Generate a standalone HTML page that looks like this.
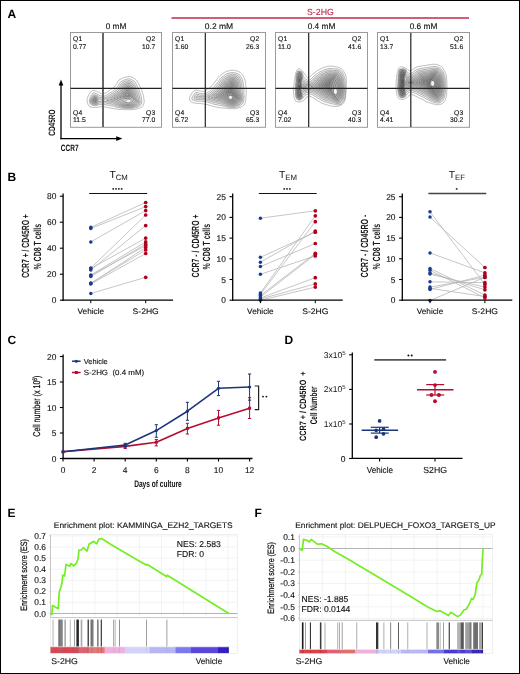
<!DOCTYPE html>
<html><head><meta charset="utf-8"><style>
html,body{margin:0;padding:0;background:#fff;}
svg{display:block;font-family:"Liberation Sans", sans-serif;text-rendering:geometricPrecision;will-change:transform;}
</style></head><body>
<svg width="520" height="674" viewBox="0 0 520 674">
<rect width="520" height="674" fill="#fff"/>
<text x="7.6" y="17.9" font-size="12" font-weight="bold" fill="#000">A</text>
<text x="320.4" y="15" font-size="8.9" text-anchor="middle" fill="#c3264d" stroke="#c3264d" stroke-width="0.12" textLength="26.8" lengthAdjust="spacingAndGlyphs">S-2HG</text>
<line x1="171.5" y1="18" x2="469" y2="18" stroke="#c3264d" stroke-width="1.5"/>
<text x="116" y="28.7" font-size="8.2" text-anchor="middle" fill="#111" stroke="#111" stroke-width="0.12" textLength="20.6" lengthAdjust="spacingAndGlyphs">0 mM</text>
<text x="219" y="28.7" font-size="8.2" text-anchor="middle" fill="#111" stroke="#111" stroke-width="0.12" textLength="28.4" lengthAdjust="spacingAndGlyphs">0.2 mM</text>
<text x="321.5" y="28.7" font-size="8.2" text-anchor="middle" fill="#111" stroke="#111" stroke-width="0.12" textLength="27.7" lengthAdjust="spacingAndGlyphs">0.4 mM</text>
<text x="423.5" y="28.7" font-size="8.2" text-anchor="middle" fill="#111" stroke="#111" stroke-width="0.12" textLength="27.7" lengthAdjust="spacingAndGlyphs">0.6 mM</text>
<path d="M132.2,109.7 131.5,109.7 130.8,109.7 130.0,109.7 129.2,109.7 128.5,109.7 127.8,109.7 127.0,109.7 126.2,109.7 125.5,109.7 124.8,109.7 124.0,109.7 123.3,109.5 122.8,109.4 122.0,109.4 121.2,109.4 120.5,109.4 119.8,109.4 119.0,109.4 118.5,109.2 117.8,109.2 117.0,109.2 116.3,109.0 115.8,108.9 115.1,108.8 114.5,108.7 114.0,108.5 113.2,108.4 112.5,108.4 111.8,108.2 111.2,108.2 110.8,108.0 110.0,107.9 109.5,107.7 108.8,107.7 108.2,107.4 107.5,107.4 106.8,107.4 106.2,107.2 105.6,107.0 105.0,106.9 104.2,106.9 103.6,106.8 103.0,106.7 102.2,106.7 101.5,106.7 100.9,106.8 100.2,106.9 99.5,106.9 98.8,107.0 98.2,107.2 97.5,107.2 96.8,107.2 96.2,107.4 95.5,107.4 94.8,107.4 94.0,107.4 93.2,107.4 92.5,107.4 92.0,107.2 91.2,107.2 90.8,107.0 90.1,106.8 89.8,106.4 89.2,106.2 88.8,105.8 88.6,105.2 88.3,104.8 88.1,104.2 87.8,103.8 87.6,103.2 87.5,102.5 87.3,102.0 87.2,101.4 87.1,100.8 87.1,100.0 87.1,99.2 87.3,98.8 87.3,98.0 87.6,97.5 87.8,97.0 88.0,96.5 88.3,96.0 88.6,95.5 88.8,95.0 89.1,94.5 89.3,94.0 89.6,93.5 90.0,93.1 90.2,92.6 90.6,92.2 91.0,91.8 91.3,91.5 91.8,91.1 92.2,90.8 92.8,90.6 93.2,90.4 93.8,90.6 94.5,90.6 95.0,90.8 95.7,91.0 96.2,91.2 96.8,91.3 97.2,91.6 97.8,91.8 98.2,92.0 98.8,92.3 99.2,92.5 99.8,92.8 100.2,93.2 100.7,93.5 101.2,93.6 101.9,93.8 102.5,93.8 103.2,93.8 103.8,93.8 104.5,93.5 105.0,93.3 105.5,93.1 106.0,92.8 106.3,92.5 106.8,92.2 107.3,92.0 107.8,91.6 108.2,91.3 108.6,91.0 109.1,90.8 109.5,90.3 110.0,90.1 110.5,89.8 110.8,89.5 111.3,89.2 111.8,88.8 112.2,88.6 112.6,88.2 113.0,87.8 113.5,87.6 113.8,87.2 114.2,86.8 114.8,86.6 115.0,86.2 115.3,85.8 115.6,85.2 116.0,84.8 116.3,84.5 116.5,84.0 116.8,83.5 117.0,83.0 117.3,82.5 117.5,82.0 117.8,81.5 118.1,81.0 118.6,80.8 119.0,80.3 119.2,79.8 119.8,79.5 120.2,79.3 120.8,79.1 121.2,78.8 121.8,78.6 122.2,78.3 122.8,78.1 123.2,77.8 123.8,77.8 124.5,77.6 125.0,77.3 125.6,77.2 126.2,77.0 126.8,76.8 127.5,76.8 128.0,76.6 128.8,76.6 129.5,76.6 130.2,76.6 130.8,76.8 131.2,77.0 131.9,77.2 132.4,77.5 133.0,77.6 133.4,78.0 133.9,78.2 134.2,78.5 134.8,78.8 135.2,79.1 135.7,79.5 136.0,79.8 136.4,80.2 136.8,80.6 137.2,81.0 137.4,81.5 137.7,82.0 138.0,82.3 138.2,82.8 138.5,83.3 138.8,83.8 139.0,84.3 139.2,85.0 139.4,85.5 139.7,86.0 139.9,86.5 140.2,87.0 140.4,87.5 140.7,88.0 140.9,88.5 141.2,89.0 141.4,89.5 141.5,90.1 141.8,90.6 141.9,91.2 142.2,91.8 142.2,92.5 142.5,93.0 142.7,93.5 142.9,94.0 143.2,94.5 143.2,95.2 143.4,95.8 143.5,96.3 143.7,97.0 143.7,97.8 143.8,98.3 143.9,99.0 144.0,99.8 144.2,100.2 144.2,101.0 144.2,101.8 144.0,102.2 143.9,103.0 143.8,103.7 143.5,104.2 143.4,104.8 143.2,105.2 142.8,105.7 142.5,106.0 142.2,106.5 141.8,106.9 141.2,107.2 140.9,107.5 140.5,107.9 139.9,108.0 139.2,108.2 138.8,108.4 138.2,108.5 137.5,108.7 137.0,108.9 136.2,109.0 135.8,109.2 135.2,109.2 134.5,109.4 133.8,109.4 133.0,109.4 132.4,109.5Z" fill="none" stroke="#6a6a6a" stroke-width="0.45"/>
<path d="M128.2,108.5 127.5,108.5 127.0,108.5 126.2,108.5 125.5,108.5 124.8,108.4 124.0,108.4 123.2,108.3 122.5,108.3 122.0,108.2 121.2,108.1 120.5,108.0 120.0,107.8 119.5,107.8 118.8,107.6 118.0,107.5 117.5,107.4 117.0,107.2 116.2,107.1 115.8,107.0 115.0,106.8 114.5,106.6 114.0,106.5 113.4,106.2 112.8,106.1 112.2,106.0 111.5,105.8 111.0,105.7 110.2,105.5 109.8,105.4 109.1,105.2 108.5,105.2 107.8,105.2 107.1,105.0 106.5,104.9 106.0,104.7 105.2,104.7 104.5,104.6 104.0,104.5 103.2,104.4 102.5,104.4 101.8,104.4 101.0,104.4 100.4,104.5 99.8,104.7 99.0,104.7 98.5,104.8 98.0,105.0 97.4,105.2 96.8,105.5 96.2,105.5 95.5,105.7 94.8,105.5 94.2,105.5 93.5,105.5 92.8,105.3 92.2,105.2 91.8,105.0 91.2,104.8 90.8,104.4 90.3,104.0 90.0,103.5 89.8,103.0 89.6,102.5 89.4,102.0 89.4,101.2 89.4,100.5 89.4,99.8 89.5,99.2 89.7,98.5 90.0,98.0 90.1,97.5 90.4,97.0 90.7,96.5 91.0,96.0 91.2,95.5 91.5,95.0 91.8,94.6 92.0,94.2 92.3,93.8 92.8,93.3 93.2,93.0 93.8,92.8 94.4,93.0 95.0,93.2 95.5,93.5 96.0,93.6 96.5,93.8 97.0,94.0 97.5,94.2 98.0,94.5 98.5,94.8 99.0,95.2 99.5,95.5 100.0,95.7 100.5,95.8 101.2,96.0 101.8,96.1 102.5,96.1 103.2,96.1 104.0,96.1 104.5,96.0 105.1,95.8 105.8,95.5 106.2,95.4 106.8,95.0 107.2,94.8 107.6,94.5 108.0,94.2 108.5,94.0 109.0,93.6 109.5,93.3 109.8,93.0 110.2,92.7 110.8,92.4 111.2,92.0 111.7,91.8 112.1,91.5 112.5,91.2 113.0,90.9 113.5,90.5 113.8,90.2 114.2,89.9 114.8,89.5 115.1,89.2 115.5,88.9 116.0,88.5 116.3,88.2 116.8,87.8 117.0,87.5 117.2,87.0 117.6,86.5 118.0,86.1 118.2,85.7 118.5,85.2 118.8,84.7 119.0,84.2 119.2,83.7 119.5,83.2 119.8,82.8 120.2,82.3 120.6,82.0 121.0,81.5 121.5,81.3 122.0,81.1 122.5,80.9 123.0,80.6 123.5,80.4 124.0,80.1 124.5,80.0 125.2,79.8 125.8,79.6 126.2,79.5 126.9,79.2 127.5,79.1 128.1,79.0 128.8,78.8 129.5,78.9 130.0,79.0 130.6,79.2 131.2,79.5 131.8,79.7 132.2,80.0 132.7,80.2 133.0,80.5 133.5,80.8 134.0,81.1 134.4,81.5 134.8,81.8 135.1,82.2 135.5,82.8 135.8,83.2 136.0,83.6 136.3,84.0 136.5,84.5 136.8,85.0 137.0,85.6 137.2,86.2 137.4,86.8 137.6,87.2 137.9,87.8 138.1,88.2 138.4,88.8 138.6,89.2 138.9,89.8 139.1,90.2 139.3,90.8 139.5,91.2 139.7,92.0 139.9,92.5 140.0,93.1 140.2,93.7 140.5,94.2 140.6,94.8 140.9,95.2 141.0,95.9 141.2,96.5 141.3,97.0 141.4,97.8 141.4,98.5 141.5,99.0 141.7,99.8 141.8,100.4 141.9,101.0 141.8,101.6 141.7,102.2 141.6,103.0 141.5,103.5 141.2,104.1 141.0,104.6 140.6,105.0 140.3,105.5 140.0,105.8 139.5,106.1 139.0,106.4 138.5,106.6 138.0,106.9 137.5,107.2 137.0,107.3 136.2,107.5 135.8,107.7 135.2,107.8 134.5,108.0 134.0,108.1 133.5,108.3 132.8,108.3 132.0,108.4 131.2,108.4 130.5,108.5 129.8,108.5 129.0,108.5 128.5,108.5Z" fill="rgba(0,0,0,0.035)" stroke="rgba(20,20,20,0.62)" stroke-width="0.5"/>
<path d="M131.5,107.5 130.8,107.6 130.0,107.6 129.2,107.6 128.5,107.7 127.8,107.7 127.0,107.6 126.2,107.6 125.5,107.6 124.8,107.5 124.2,107.5 123.5,107.4 122.8,107.3 122.2,107.2 121.5,107.2 120.8,107.0 120.2,106.8 119.8,106.7 119.0,106.5 118.5,106.4 117.9,106.2 117.3,106.0 116.8,105.9 116.2,105.8 115.5,105.6 115.0,105.3 114.5,105.2 114.0,105.0 113.5,104.7 112.8,104.5 112.2,104.3 111.8,104.1 111.0,104.0 110.5,103.9 109.9,103.8 109.2,103.6 108.5,103.5 108.0,103.5 107.2,103.3 106.8,103.2 106.0,103.0 105.2,103.0 104.8,103.0 104.0,102.8 103.2,102.8 102.5,102.8 101.8,102.8 101.0,102.8 100.2,102.8 99.5,103.0 99.0,103.0 98.5,103.5 98.2,103.8 97.8,104.1 97.2,104.3 96.7,104.5 96.0,104.6 95.2,104.7 94.5,104.6 93.8,104.5 93.2,104.5 92.6,104.2 92.0,104.0 91.5,103.8 91.2,103.5 90.9,103.0 90.6,102.5 90.5,102.0 90.4,101.2 90.5,100.5 90.6,100.0 90.6,99.2 90.8,98.8 91.0,98.2 91.3,97.8 91.6,97.2 91.8,96.8 92.1,96.2 92.5,95.8 92.8,95.5 93.2,95.1 93.7,94.8 94.2,94.7 94.8,95.0 95.2,95.1 95.8,95.3 96.5,95.5 97.0,95.7 97.5,95.9 98.0,96.2 98.2,96.6 98.8,97.0 99.2,97.2 99.8,97.4 100.5,97.5 101.0,97.6 101.8,97.7 102.5,97.7 103.2,97.7 104.0,97.7 104.8,97.6 105.2,97.5 105.9,97.2 106.5,97.0 107.0,96.8 107.5,96.6 107.9,96.2 108.3,96.0 108.8,95.7 109.2,95.5 109.8,95.1 110.2,94.8 110.6,94.5 111.0,94.2 111.5,93.9 112.0,93.6 112.4,93.2 112.8,93.0 113.2,92.7 113.8,92.4 114.2,92.1 114.6,91.8 115.0,91.4 115.5,91.1 115.9,90.8 116.2,90.4 116.8,90.1 117.1,89.8 117.5,89.4 117.9,89.0 118.2,88.6 118.5,88.2 118.8,87.7 119.1,87.2 119.5,86.8 119.8,86.4 120.0,85.9 120.2,85.4 120.5,84.9 120.8,84.4 121.0,83.9 121.4,83.5 121.8,83.2 122.2,82.8 122.8,82.6 123.2,82.3 123.8,82.1 124.2,81.8 124.8,81.6 125.2,81.5 126.0,81.3 126.5,81.1 127.0,81.0 127.7,80.8 128.2,80.7 129.0,80.5 129.8,80.7 130.2,80.9 130.8,81.1 131.2,81.3 131.8,81.6 132.2,82.0 132.7,82.2 133.1,82.5 133.5,82.9 133.8,83.2 134.1,83.8 134.4,84.2 134.8,84.7 135.0,85.2 135.2,85.7 135.5,86.2 135.6,86.8 135.8,87.2 136.0,87.8 136.3,88.2 136.5,88.8 136.8,89.2 137.0,89.8 137.3,90.2 137.5,90.8 137.8,91.4 138.0,91.9 138.1,92.5 138.3,93.0 138.5,93.8 138.7,94.2 138.9,94.8 139.0,95.2 139.3,95.8 139.5,96.5 139.6,97.0 139.7,97.8 139.8,98.2 139.8,99.0 140.0,99.8 140.0,100.2 140.2,101.0 140.2,101.8 140.2,102.5 140.1,103.2 139.9,103.8 139.6,104.2 139.2,104.7 138.9,105.0 138.5,105.2 138.0,105.5 137.5,105.8 137.0,106.2 136.5,106.3 135.8,106.5 135.2,106.7 134.8,106.8 134.2,107.0 133.5,107.2 133.0,107.4 132.2,107.4 131.6,107.5Z" fill="rgba(0,0,0,0.035)" stroke="rgba(20,20,20,0.62)" stroke-width="0.5"/>
<path d="M130.5,106.8 129.8,106.8 129.0,106.8 128.2,106.9 127.5,106.9 126.8,106.8 126.0,106.8 125.3,106.8 124.8,106.7 124.0,106.6 123.2,106.5 122.8,106.4 122.0,106.3 121.5,106.2 120.8,106.0 120.2,105.8 119.8,105.7 119.1,105.5 118.5,105.3 118.0,105.1 117.5,104.9 117.0,104.7 116.3,104.5 115.8,104.3 115.2,104.1 114.8,103.8 114.2,103.6 113.8,103.4 113.2,103.2 112.8,102.9 112.2,102.7 111.5,102.6 111.0,102.5 110.2,102.3 109.8,102.2 109.0,102.1 108.2,102.0 107.8,101.9 107.0,101.8 106.5,101.6 105.8,101.5 105.0,101.5 104.5,101.4 103.8,101.3 103.0,101.3 102.2,101.3 101.5,101.3 100.8,101.3 100.0,101.4 99.5,101.5 98.8,101.5 98.2,101.8 98.0,102.5 97.8,103.0 97.5,103.3 97.0,103.5 96.2,103.7 95.8,103.8 95.0,103.8 94.3,103.8 93.8,103.7 93.0,103.5 92.5,103.3 92.0,103.0 91.7,102.8 91.4,102.2 91.2,101.7 91.2,101.0 91.3,100.5 91.4,99.8 91.5,99.2 91.8,98.7 92.0,98.2 92.3,97.8 92.5,97.2 92.9,96.8 93.2,96.3 93.6,96.0 94.2,95.9 94.8,96.0 95.5,96.1 96.0,96.3 96.7,96.5 97.2,96.8 97.5,97.1 97.8,97.6 98.0,98.0 98.5,98.5 99.0,98.7 99.5,98.8 100.2,98.9 100.8,99.1 101.5,99.2 102.2,99.2 103.0,99.2 103.8,99.2 104.5,99.2 105.2,99.0 105.8,98.8 106.2,98.7 106.8,98.5 107.4,98.2 107.9,98.0 108.3,97.8 108.8,97.5 109.2,97.1 109.8,96.9 110.2,96.6 110.7,96.2 111.1,96.0 111.5,95.7 112.0,95.3 112.5,95.0 112.8,94.8 113.2,94.5 113.8,94.1 114.2,93.8 114.7,93.5 115.1,93.2 115.5,92.9 116.0,92.5 116.3,92.2 116.8,91.9 117.2,91.5 117.6,91.2 118.0,90.9 118.5,90.5 118.8,90.2 119.2,89.8 119.5,89.3 119.8,88.9 120.0,88.5 120.4,88.0 120.8,87.6 121.0,87.2 121.2,86.7 121.5,86.2 121.8,85.7 122.0,85.2 122.2,84.7 122.7,84.2 123.2,84.0 123.7,83.8 124.2,83.5 124.7,83.2 125.2,83.0 125.8,82.9 126.3,82.8 127.0,82.5 127.5,82.3 128.0,82.2 128.8,82.1 129.5,82.2 130.0,82.4 130.5,82.6 131.0,82.9 131.5,83.2 131.9,83.5 132.3,83.8 132.7,84.2 133.0,84.7 133.2,85.1 133.5,85.5 133.8,86.0 134.0,86.5 134.2,87.2 134.4,87.8 134.6,88.2 134.9,88.8 135.1,89.2 135.4,89.8 135.6,90.2 135.9,90.8 136.1,91.2 136.3,91.8 136.5,92.2 136.7,93.0 136.9,93.5 137.0,94.0 137.2,94.7 137.5,95.2 137.7,95.8 137.9,96.2 138.0,96.8 138.2,97.5 138.3,98.0 138.3,98.8 138.4,99.5 138.5,100.0 138.7,100.8 139.0,101.2 139.0,101.8 139.0,102.5 138.9,103.0 138.7,103.5 138.2,104.0 137.9,104.2 137.5,104.5 137.0,104.9 136.5,105.2 136.0,105.4 135.5,105.6 135.0,105.8 134.3,106.0 133.8,106.2 133.2,106.4 132.8,106.5 132.0,106.6 131.2,106.7 130.7,106.8Z" fill="rgba(0,0,0,0.035)" stroke="rgba(20,20,20,0.62)" stroke-width="0.5"/>
<path d="M130.2,106.0 129.5,106.1 128.8,106.1 128.0,106.1 127.2,106.1 126.5,106.1 125.8,106.0 125.2,106.0 124.5,105.9 123.8,105.8 123.2,105.7 122.5,105.5 122.0,105.4 121.4,105.2 120.8,105.0 120.3,104.8 119.8,104.6 119.2,104.4 118.8,104.2 118.2,104.0 117.8,103.7 117.2,103.4 116.7,103.2 116.0,103.0 115.6,102.8 115.1,102.5 114.6,102.2 114.1,102.0 113.6,101.8 113.0,101.5 112.5,101.4 111.8,101.3 111.2,101.2 110.6,101.0 110.0,100.9 109.4,100.8 108.8,100.7 108.0,100.6 107.5,100.5 106.8,100.3 106.8,100.0 107.3,99.8 108.0,99.5 108.5,99.2 108.9,99.0 109.3,98.8 109.8,98.4 110.2,98.1 110.8,97.8 111.2,97.5 111.7,97.2 112.0,97.0 112.5,96.6 113.0,96.3 113.4,96.0 113.8,95.8 114.2,95.4 114.8,95.1 115.2,94.8 115.7,94.5 116.0,94.2 116.5,93.9 116.9,93.5 117.3,93.2 117.8,92.9 118.2,92.5 118.5,92.2 119.0,91.9 119.4,91.5 119.8,91.1 120.1,90.8 120.5,90.3 120.8,89.9 121.0,89.5 121.4,89.0 121.8,88.5 122.0,88.2 122.2,87.7 122.5,87.2 122.8,86.7 123.0,86.2 123.2,85.7 123.7,85.2 124.2,85.0 124.7,84.8 125.2,84.5 125.8,84.3 126.2,84.1 126.8,84.0 127.5,83.8 128.0,83.6 128.5,83.5 129.2,83.5 129.8,83.7 130.2,84.0 130.6,84.2 131.0,84.5 131.5,84.9 131.8,85.3 132.1,85.8 132.4,86.2 132.6,86.8 132.8,87.2 133.0,87.8 133.2,88.5 133.5,89.0 133.8,89.5 134.0,90.0 134.2,90.5 134.5,91.0 134.8,91.5 135.0,92.0 135.2,92.5 135.4,93.0 135.5,93.6 135.7,94.2 135.8,94.8 136.0,95.2 136.2,95.8 136.5,96.5 136.7,97.0 136.8,97.5 136.9,98.2 137.0,99.0 137.1,99.5 137.3,100.0 137.5,100.5 137.8,101.0 137.9,101.8 137.9,102.5 137.5,103.0 137.2,103.2 136.8,103.7 136.4,104.0 135.9,104.2 135.4,104.5 135.0,104.8 134.4,105.0 133.8,105.2 133.2,105.5 132.8,105.7 132.2,105.8 131.5,105.9 130.8,106.0 130.2,106.0Z" fill="rgba(0,0,0,0.035)" stroke="rgba(20,20,20,0.62)" stroke-width="0.5"/>
<path d="M95.8,103.0 95.0,103.0 94.5,103.0 93.8,102.9 93.1,102.8 92.6,102.5 92.2,102.2 92.0,101.5 92.0,101.0 92.1,100.5 92.2,99.8 92.3,99.2 92.6,98.8 92.9,98.2 93.1,97.8 93.5,97.2 93.8,96.9 94.2,96.7 94.8,96.8 95.5,97.0 96.0,97.1 96.5,97.3 96.9,97.8 97.2,98.2 97.4,98.8 97.6,99.2 98.0,99.7 98.5,100.0 98.2,100.2 97.8,100.3 97.6,101.0 97.5,101.6 97.3,102.2 97.0,102.7 96.5,102.9 95.9,103.0Z" fill="rgba(0,0,0,0.035)" stroke="rgba(20,20,20,0.62)" stroke-width="0.5"/>
<path d="M129.5,105.3 128.8,105.3 128.0,105.3 127.2,105.3 126.5,105.3 126.0,105.2 125.2,105.1 124.5,105.0 124.0,104.9 123.2,104.8 122.8,104.6 122.2,104.5 121.5,104.2 121.1,104.0 120.7,103.8 120.2,103.5 119.7,103.2 119.1,103.0 118.6,102.8 118.2,102.4 117.8,102.1 117.2,101.8 116.8,101.6 116.2,101.5 115.8,101.2 115.2,100.9 114.8,100.7 114.2,100.5 113.5,100.4 113.0,100.2 112.2,100.0 111.8,100.0 111.0,99.8 110.5,99.5 111.0,99.2 111.5,98.9 112.0,98.6 112.5,98.2 112.8,98.0 113.2,97.7 113.8,97.3 114.2,97.0 114.6,96.8 115.0,96.5 115.5,96.1 116.0,95.8 116.5,95.5 116.8,95.2 117.2,94.9 117.7,94.5 118.1,94.2 118.5,93.9 119.0,93.5 119.3,93.2 119.8,92.9 120.2,92.5 120.5,92.2 120.9,91.8 121.2,91.4 121.5,91.0 121.9,90.5 122.2,90.0 122.5,89.6 122.8,89.2 123.1,88.8 123.4,88.2 123.7,87.8 123.9,87.2 124.2,86.8 124.5,86.3 125.0,86.0 125.5,85.8 126.0,85.5 126.5,85.4 127.1,85.2 127.8,85.0 128.2,84.9 129.0,84.8 129.5,85.1 130.0,85.4 130.5,85.7 130.8,86.1 131.0,86.5 131.3,87.0 131.6,87.5 131.8,88.1 132.0,88.8 132.2,89.2 132.5,89.8 132.7,90.2 133.0,90.8 133.2,91.2 133.5,91.8 133.7,92.2 133.9,92.8 134.1,93.2 134.2,93.8 134.4,94.5 134.6,95.0 134.8,95.5 135.0,96.1 135.2,96.8 135.4,97.2 135.5,97.8 135.7,98.5 135.7,99.2 136.0,99.6 136.2,100.1 136.5,100.6 136.8,101.1 136.8,101.7 136.5,102.1 136.2,102.5 135.8,102.9 135.3,103.2 134.9,103.5 134.5,103.8 134.0,104.0 133.5,104.4 133.0,104.6 132.5,104.8 131.8,105.0 131.2,105.1 130.5,105.2 129.8,105.2Z" fill="rgba(0,0,0,0.035)" stroke="rgba(20,20,20,0.62)" stroke-width="0.5"/>
<path d="M95.8,102.3 95.0,102.3 94.3,102.2 93.8,102.2 93.2,102.0 92.8,101.5 92.7,101.0 92.8,100.5 92.9,99.8 93.1,99.2 93.4,98.8 93.7,98.2 94.0,97.8 94.5,97.5 95.2,97.6 95.8,97.8 96.2,98.0 96.5,98.5 96.8,99.0 96.9,99.8 96.9,100.5 96.9,101.2 96.7,101.8 96.2,102.2 95.8,102.3Z" fill="rgba(0,0,0,0.035)" stroke="rgba(20,20,20,0.62)" stroke-width="0.5"/>
<path d="M130.0,104.3 129.2,104.3 128.5,104.4 127.8,104.4 127.0,104.4 126.2,104.3 125.8,104.2 125.0,104.1 124.5,104.0 123.8,103.8 123.2,103.6 122.8,103.4 122.2,103.2 121.8,103.0 121.2,102.5 120.9,102.2 120.5,101.9 120.0,101.6 119.5,101.3 119.0,101.0 118.6,100.8 118.2,100.5 117.8,100.2 117.2,100.0 116.5,99.8 116.0,99.6 115.5,99.4 115.0,99.2 114.2,99.2 113.6,99.0 114.0,98.6 114.5,98.3 114.9,98.0 115.3,97.8 115.8,97.4 116.2,97.1 116.8,96.8 117.2,96.5 117.5,96.2 118.0,95.9 118.4,95.5 118.8,95.2 119.2,94.9 119.7,94.5 120.0,94.2 120.5,93.9 120.9,93.5 121.2,93.2 121.7,92.8 122.0,92.4 122.3,92.0 122.7,91.5 123.0,91.0 123.2,90.6 123.6,90.2 123.9,89.8 124.2,89.3 124.5,88.8 124.8,88.3 125.0,87.8 125.2,87.3 125.8,87.0 126.2,86.8 126.8,86.6 127.2,86.5 127.9,86.2 128.5,86.1 129.1,86.2 129.5,86.5 129.9,87.0 130.2,87.5 130.4,88.0 130.6,88.5 130.8,89.0 131.0,89.5 131.2,90.1 131.5,90.6 131.8,91.1 132.0,91.6 132.2,92.1 132.5,92.6 132.8,93.2 133.0,93.8 133.1,94.2 133.2,94.9 133.4,95.5 133.6,96.0 133.8,96.5 134.0,97.0 134.2,97.6 134.4,98.2 134.5,99.0 134.8,99.4 135.0,99.8 135.3,100.2 135.5,100.8 135.2,101.1 134.9,101.5 134.5,102.0 134.2,102.2 133.8,102.7 133.4,103.0 133.0,103.3 132.5,103.7 132.0,103.8 131.4,104.0 130.8,104.1 130.1,104.2Z" fill="rgba(0,0,0,0.035)" stroke="rgba(20,20,20,0.62)" stroke-width="0.5"/>
<path d="M95.8,101.5 95.0,101.6 94.3,101.5 93.8,101.4 93.4,101.0 93.5,100.5 93.7,99.8 93.9,99.2 94.2,98.8 94.5,98.3 95.2,98.3 95.8,98.6 96.0,99.0 96.2,99.8 96.2,100.5 96.1,101.2 95.8,101.5Z" fill="rgba(0,0,0,0.035)" stroke="rgba(20,20,20,0.62)" stroke-width="0.5"/>
<path d="M129.2,103.0 128.5,103.1 127.8,103.1 127.0,103.0 126.5,103.0 125.8,102.8 125.2,102.6 124.8,102.4 124.2,102.2 123.8,101.9 123.2,101.5 122.8,101.2 122.5,101.0 122.0,100.6 121.7,100.2 121.2,99.8 120.8,99.5 120.2,99.3 119.8,99.1 119.2,99.0 118.5,98.8 118.0,98.7 117.2,98.5 116.8,98.3 117.0,98.0 117.4,97.8 117.8,97.5 118.2,97.2 118.8,96.8 119.1,96.5 119.5,96.2 120.0,95.8 120.3,95.5 120.8,95.2 121.2,94.8 121.6,94.5 122.0,94.1 122.3,93.8 122.8,93.3 123.0,93.0 123.4,92.5 123.8,92.0 124.0,91.6 124.3,91.2 124.7,90.8 125.0,90.3 125.2,89.9 125.5,89.4 125.8,88.9 126.0,88.4 126.4,88.0 127.0,87.8 127.5,87.6 128.0,87.5 128.8,87.4 129.0,87.8 129.3,88.2 129.5,88.9 129.7,89.5 129.9,90.0 130.2,90.5 130.4,91.0 130.7,91.5 130.9,92.0 131.2,92.5 131.4,93.0 131.6,93.5 131.8,94.0 132.0,94.7 132.1,95.2 132.3,95.8 132.5,96.3 132.8,96.9 133.0,97.5 133.1,98.0 133.3,98.5 133.5,99.2 133.6,99.8 133.2,100.2 133.0,100.6 132.8,101.0 132.5,101.5 132.0,102.0 131.6,102.2 131.1,102.5 130.5,102.7 130.0,102.9 129.3,103.0Z" fill="rgba(0,0,0,0.035)" stroke="rgba(20,20,20,0.62)" stroke-width="0.5"/>
<path d="M95.2,100.8 94.6,100.8 94.2,100.5 94.3,100.0 94.6,99.5 95.0,99.0 95.2,99.1 95.4,99.8 95.5,100.5Z" fill="rgba(0,0,0,0.035)" stroke="rgba(20,20,20,0.62)" stroke-width="0.5"/>
<path d="M128.8,98.8 128.0,98.8 127.2,98.8 126.8,98.7 126.0,98.6 125.2,98.5 124.8,98.4 124.0,98.3 123.5,98.2 122.8,98.1 122.2,98.0 121.5,97.9 120.8,97.8 120.2,97.7 119.7,97.5 120.0,97.2 120.5,96.8 120.9,96.5 121.2,96.2 121.8,95.8 122.1,95.5 122.5,95.2 122.9,94.8 123.2,94.4 123.7,94.0 124.0,93.6 124.3,93.2 124.6,92.8 124.9,92.2 125.2,91.8 125.5,91.5 125.9,91.0 126.2,90.5 126.5,90.0 126.7,89.5 127.0,89.0 127.5,88.8 128.0,88.7 128.3,89.0 128.5,89.5 128.8,90.1 129.0,90.7 129.2,91.2 129.5,91.7 129.8,92.2 130.0,92.7 130.2,93.2 130.5,93.7 130.7,94.2 130.8,94.8 131.0,95.4 131.2,96.0 131.3,96.5 131.5,97.0 131.8,97.5 131.6,98.0 131.2,98.4 130.8,98.5 130.0,98.6 129.2,98.7 128.8,98.8Z" fill="rgba(0,0,0,0.035)" stroke="rgba(20,20,20,0.62)" stroke-width="0.5"/>
<path d="M130.0,97.0 129.2,97.0 128.5,97.0 127.8,97.0 127.0,97.0 126.2,97.0 125.6,97.0 125.0,96.9 124.2,96.8 123.5,96.8 122.8,96.8 122.8,96.5 123.2,96.0 123.5,95.7 124.0,95.2 124.2,95.0 124.7,94.5 125.0,94.1 125.3,93.8 125.6,93.2 125.9,92.8 126.2,92.4 126.5,92.0 126.9,91.5 127.2,91.0 127.5,90.5 127.8,90.7 128.0,91.2 128.2,91.7 128.5,92.2 128.8,92.7 129.0,93.2 129.2,93.7 129.5,94.2 129.7,94.8 129.8,95.2 130.0,95.9 130.2,96.5 130.2,96.8Z" fill="rgba(0,0,0,0.035)" stroke="rgba(20,20,20,0.62)" stroke-width="0.5"/>
<path d="M128.8,95.9 128.0,96.0 127.2,96.0 126.5,96.0 125.8,95.9 125.1,95.8 125.4,95.2 125.8,94.9 126.1,94.5 126.4,94.0 126.7,93.5 127.0,93.1 127.4,92.8 127.7,93.0 128.0,93.5 128.2,94.0 128.5,94.5 128.6,95.0 128.8,95.5Z" fill="rgba(0,0,0,0.035)" stroke="rgba(20,20,20,0.62)" stroke-width="0.5"/>
<ellipse cx="128.5" cy="101.1" rx="1.8" ry="1.0" fill="#fff" opacity="0.9"/>
<path d="M235.2,108.7 234.5,108.7 233.8,108.7 233.0,108.7 232.2,108.7 231.5,108.7 230.8,108.7 230.0,108.7 229.2,108.7 228.5,108.7 228.0,108.4 227.2,108.4 226.6,108.2 226.0,108.2 225.2,108.2 224.5,108.2 223.8,108.2 223.1,108.0 222.5,107.9 221.8,107.9 221.2,107.7 220.5,107.7 219.8,107.7 219.0,107.7 218.5,107.4 217.8,107.4 217.2,107.2 216.5,107.2 216.0,106.9 215.2,106.9 214.8,106.7 214.1,106.5 213.5,106.4 213.0,106.2 212.2,106.2 211.8,106.0 211.2,105.7 210.8,105.5 210.0,105.4 209.5,105.2 209.0,105.0 208.2,104.9 207.8,104.7 207.1,104.5 206.5,104.4 206.0,104.2 205.2,104.2 204.5,104.2 204.0,103.9 203.2,103.9 202.8,103.7 202.0,103.7 201.2,103.7 200.6,103.5 200.0,103.4 199.2,103.4 198.5,103.4 197.8,103.4 197.0,103.4 196.5,103.2 195.8,103.2 195.0,103.2 194.5,103.0 193.8,102.8 193.2,102.7 192.8,102.4 192.0,102.4 191.6,102.0 191.1,101.8 190.8,101.4 190.3,101.0 190.0,100.5 189.8,100.2 189.6,99.5 189.6,98.8 189.6,98.0 189.8,97.5 190.0,96.8 190.2,96.3 190.5,95.8 190.8,95.3 191.0,94.8 191.2,94.3 191.5,93.8 191.8,93.3 192.0,93.0 192.3,92.5 192.6,92.0 193.0,91.6 193.5,91.3 193.8,91.0 194.3,90.8 194.8,90.3 195.5,90.3 196.0,90.1 196.8,90.1 197.2,90.3 198.0,90.3 198.5,90.6 199.2,90.6 199.8,90.8 200.2,91.0 200.9,91.2 201.5,91.3 202.2,91.3 203.0,91.3 203.8,91.3 204.5,91.3 205.0,91.1 205.5,90.8 206.0,90.6 206.5,90.3 207.0,90.1 207.5,89.8 207.8,89.5 208.2,89.1 208.8,88.8 209.1,88.5 209.5,88.1 209.8,87.8 210.2,87.3 210.6,87.0 211.0,86.6 211.3,86.2 211.8,85.8 212.1,85.5 212.5,85.1 212.8,84.8 213.2,84.3 213.5,83.8 213.8,83.5 214.2,83.1 214.5,82.6 214.8,82.2 215.1,81.8 215.5,81.3 215.8,80.8 216.1,80.5 216.3,80.0 216.8,79.6 217.0,79.2 217.3,78.8 217.6,78.2 218.0,77.8 218.2,77.3 218.6,77.0 219.0,76.6 219.3,76.2 219.8,75.8 220.2,75.5 220.6,75.2 221.0,74.8 221.5,74.6 221.8,74.2 222.3,74.0 222.8,73.6 223.2,73.3 223.6,73.0 224.1,72.8 224.5,72.3 225.0,72.1 225.5,71.8 226.0,71.6 226.5,71.3 227.2,71.3 227.8,71.1 228.3,71.0 229.0,70.8 229.5,70.6 230.2,70.5 230.8,70.3 231.5,70.3 232.2,70.3 233.0,70.3 233.8,70.3 234.4,70.5 235.0,70.6 235.8,70.6 236.2,70.8 236.9,71.0 237.5,71.1 238.0,71.3 238.5,71.5 239.2,71.8 239.5,72.0 240.0,72.3 240.4,72.8 240.8,73.0 241.2,73.3 241.7,73.8 242.0,74.1 242.4,74.5 242.7,75.0 243.0,75.5 243.2,76.0 243.5,76.3 243.8,76.8 244.0,77.5 244.2,78.0 244.4,78.5 244.7,79.0 244.8,79.6 245.0,80.2 245.2,80.8 245.2,81.3 245.5,82.0 245.7,82.5 245.7,83.2 245.7,84.0 245.7,84.8 245.9,85.2 245.9,86.0 245.9,86.8 245.9,87.5 245.9,88.2 245.9,89.0 246.2,89.5 246.2,90.2 246.2,91.0 246.2,91.8 246.2,92.5 246.2,93.2 246.2,94.0 246.2,94.8 246.0,95.4 245.9,96.0 245.9,96.8 245.9,97.5 245.9,98.2 245.7,98.8 245.7,99.5 245.7,100.2 245.5,100.9 245.4,101.5 245.4,102.2 245.2,102.8 245.0,103.2 244.7,103.8 244.5,104.4 244.2,104.9 243.8,105.2 243.4,105.5 243.0,105.9 242.5,106.2 242.0,106.5 241.5,106.7 241.0,107.0 240.5,107.2 240.0,107.4 239.2,107.5 238.8,107.7 238.2,107.9 237.8,108.2 237.0,108.2 236.5,108.4 235.8,108.4 235.2,108.7Z" fill="none" stroke="#6a6a6a" stroke-width="0.45"/>
<path d="M234.8,107.5 234.0,107.5 233.2,107.5 232.5,107.5 231.8,107.5 231.0,107.5 230.5,107.5 229.8,107.4 229.0,107.4 228.2,107.3 227.8,107.2 227.0,107.1 226.5,106.9 225.9,106.8 225.2,106.6 224.8,106.3 224.2,106.2 223.5,106.1 223.0,106.0 222.3,105.8 221.8,105.6 221.2,105.5 220.5,105.4 219.8,105.4 219.2,105.2 218.5,105.1 218.0,105.0 217.2,104.9 216.8,104.7 216.0,104.6 215.5,104.5 214.8,104.3 214.2,104.2 213.6,104.0 213.0,103.9 212.5,103.8 212.0,103.5 211.4,103.2 210.8,103.1 210.2,103.0 209.6,102.8 209.0,102.6 208.5,102.5 207.8,102.3 207.2,102.1 206.8,102.0 206.0,101.9 205.2,101.9 204.8,101.7 204.0,101.6 203.5,101.5 202.8,101.4 202.0,101.4 201.2,101.3 200.8,101.2 200.0,101.2 199.2,101.2 198.5,101.2 197.8,101.2 197.1,101.0 196.5,100.9 195.8,100.9 195.1,100.8 194.5,100.5 194.0,100.4 193.5,100.2 192.8,100.0 192.3,99.8 192.0,99.3 191.8,98.8 192.0,98.1 192.2,97.5 192.5,97.0 192.7,96.5 193.0,96.0 193.2,95.5 193.5,95.0 193.8,94.6 194.0,94.2 194.3,93.8 194.7,93.2 195.1,93.0 195.5,92.7 196.2,92.5 196.6,92.5 197.2,92.6 197.8,92.8 198.5,92.8 199.0,93.0 199.6,93.2 200.2,93.5 200.8,93.6 201.5,93.6 202.2,93.6 203.0,93.6 203.8,93.6 204.5,93.6 205.2,93.5 205.8,93.4 206.2,93.1 206.8,92.9 207.2,92.6 207.8,92.4 208.2,92.1 208.8,91.8 209.1,91.5 209.5,91.1 210.0,90.8 210.3,90.5 210.8,90.1 211.1,89.8 211.5,89.3 211.8,89.0 212.2,88.6 212.6,88.2 213.0,87.8 213.3,87.5 213.8,87.1 214.1,86.8 214.5,86.3 214.8,86.0 215.2,85.5 215.5,85.1 215.8,84.8 216.2,84.2 216.5,83.8 216.8,83.5 217.1,83.0 217.5,82.5 217.8,82.1 218.0,81.8 218.4,81.2 218.8,80.8 219.0,80.5 219.2,80.0 219.6,79.5 220.0,79.0 220.2,78.6 220.6,78.2 221.0,77.8 221.5,77.5 221.8,77.2 222.2,76.9 222.8,76.5 223.1,76.2 223.5,76.0 224.0,75.6 224.5,75.2 224.8,75.0 225.2,74.7 225.8,74.4 226.2,74.1 226.8,73.9 227.2,73.6 227.9,73.5 228.5,73.3 229.0,73.2 229.8,73.0 230.2,72.9 230.9,72.8 231.5,72.6 232.2,72.6 233.0,72.6 233.8,72.7 234.2,72.8 235.0,72.8 235.6,73.0 236.2,73.2 236.8,73.4 237.2,73.5 237.8,73.8 238.3,74.0 238.8,74.3 239.2,74.8 239.5,75.0 240.0,75.3 240.4,75.8 240.8,76.2 241.0,76.7 241.2,77.2 241.5,77.6 241.8,78.1 242.0,78.8 242.1,79.2 242.4,79.8 242.5,80.2 242.8,80.9 242.9,81.5 243.0,82.0 243.2,82.6 243.4,83.2 243.4,84.0 243.4,84.8 243.5,85.5 243.6,86.0 243.7,86.8 243.7,87.5 243.7,88.2 243.7,89.0 243.7,89.8 243.9,90.2 243.9,91.0 243.9,91.8 243.9,92.5 243.9,93.2 243.9,94.0 243.9,94.8 244.0,95.5 244.1,96.0 244.1,96.8 244.0,97.3 244.0,97.8 244.0,98.5 243.9,99.0 243.8,99.8 243.7,100.2 243.7,101.0 243.5,101.6 243.3,102.2 243.1,102.8 242.8,103.2 242.5,103.6 242.1,104.0 241.8,104.3 241.2,104.7 240.9,105.0 240.5,105.3 240.0,105.6 239.5,105.9 239.0,106.2 238.5,106.4 238.0,106.5 237.4,106.8 236.8,107.0 236.2,107.2 235.8,107.3 235.0,107.5Z" fill="rgba(0,0,0,0.035)" stroke="rgba(20,20,20,0.62)" stroke-width="0.5"/>
<path d="M234.0,106.5 233.2,106.5 232.5,106.5 231.9,106.5 231.2,106.5 230.5,106.4 229.8,106.3 229.1,106.2 228.5,106.2 227.8,106.0 227.2,105.9 226.8,105.7 226.0,105.5 225.5,105.3 225.0,105.1 224.5,105.0 223.8,104.8 223.2,104.7 222.8,104.5 222.2,104.2 221.5,104.0 221.0,103.8 220.4,103.8 219.8,103.6 219.0,103.5 218.5,103.4 217.8,103.3 217.2,103.1 216.5,103.0 216.0,102.9 215.4,102.8 214.8,102.6 214.2,102.5 213.5,102.3 213.0,102.2 212.5,101.9 212.0,101.7 211.2,101.5 210.8,101.4 210.2,101.2 209.5,101.0 209.0,100.9 208.4,100.8 207.8,100.5 207.2,100.4 206.5,100.3 205.9,100.2 205.2,100.1 204.5,100.0 204.0,99.9 203.2,99.8 202.5,99.8 202.0,99.7 201.2,99.6 200.5,99.5 199.8,99.5 199.0,99.5 198.2,99.5 197.8,99.5 197.0,99.3 196.2,99.3 195.8,99.2 195.1,99.0 194.5,98.8 194.0,98.6 193.7,98.2 194.0,97.8 194.2,97.2 194.5,96.8 194.7,96.2 195.0,95.8 195.2,95.3 195.5,94.9 195.8,94.5 196.2,94.2 196.8,94.2 197.5,94.4 198.2,94.5 198.8,94.7 199.2,94.9 199.8,95.0 200.5,95.2 201.2,95.2 202.0,95.2 202.8,95.2 203.5,95.2 204.2,95.2 205.0,95.2 205.8,95.1 206.2,95.0 206.8,94.7 207.2,94.5 207.8,94.2 208.2,94.0 208.8,93.7 209.2,93.5 209.8,93.1 210.2,92.8 210.5,92.4 211.0,92.1 211.4,91.8 211.8,91.4 212.2,91.0 212.5,90.7 212.9,90.2 213.2,89.9 213.7,89.5 214.0,89.2 214.4,88.8 214.8,88.4 215.2,88.0 215.5,87.7 215.9,87.2 216.2,86.9 216.6,86.5 216.9,86.0 217.2,85.6 217.6,85.2 217.9,84.8 218.2,84.3 218.5,83.9 218.8,83.5 219.2,83.0 219.5,82.6 219.8,82.2 220.1,81.8 220.5,81.2 220.7,80.8 221.0,80.4 221.3,80.0 221.7,79.5 222.0,79.2 222.5,78.8 222.9,78.5 223.2,78.2 223.8,77.9 224.2,77.5 224.6,77.2 225.0,76.9 225.5,76.6 225.9,76.2 226.3,76.0 226.8,75.7 227.2,75.5 227.8,75.2 228.5,75.0 229.0,74.9 229.7,74.8 230.2,74.6 230.8,74.5 231.5,74.3 232.0,74.2 232.8,74.2 233.2,74.3 234.0,74.5 234.6,74.5 235.2,74.6 235.8,74.8 236.4,75.0 237.0,75.2 237.5,75.5 237.8,75.8 238.2,76.1 238.8,76.5 239.1,76.8 239.4,77.2 239.7,77.8 239.9,78.2 240.2,78.8 240.4,79.2 240.5,79.8 240.8,80.2 241.0,80.9 241.2,81.5 241.3,82.0 241.5,82.6 241.7,83.2 241.8,83.8 241.8,84.5 241.8,85.2 241.9,86.0 242.0,86.7 242.0,87.2 242.0,88.0 242.0,88.8 242.0,89.5 242.1,90.2 242.2,90.9 242.3,91.5 242.3,92.2 242.3,93.0 242.4,93.8 242.5,94.2 242.6,95.0 242.7,95.8 242.8,96.2 242.8,96.9 242.7,97.5 242.8,98.0 242.7,98.5 242.7,99.2 242.5,100.0 242.5,100.5 242.3,101.2 242.1,101.8 242.0,102.2 241.6,102.8 241.2,103.1 240.8,103.5 240.5,103.8 240.0,104.2 239.5,104.5 239.1,104.8 238.7,105.0 238.2,105.3 237.5,105.5 237.0,105.7 236.5,105.9 236.0,106.2 235.4,106.2 234.8,106.4 234.1,106.5Z" fill="rgba(0,0,0,0.035)" stroke="rgba(20,20,20,0.62)" stroke-width="0.5"/>
<path d="M234.2,105.5 233.5,105.5 232.8,105.5 232.0,105.5 231.5,105.5 230.8,105.4 230.0,105.4 229.3,105.2 228.8,105.2 228.0,105.0 227.5,104.9 227.0,104.6 226.5,104.5 225.8,104.2 225.3,104.0 224.8,103.8 224.2,103.7 223.6,103.5 223.0,103.3 222.5,103.0 222.0,102.8 221.5,102.7 221.0,102.4 220.3,102.2 219.8,102.1 219.0,102.0 218.5,101.9 217.8,101.8 217.2,101.6 216.5,101.5 216.0,101.4 215.5,101.2 214.8,101.1 214.2,100.9 213.5,100.8 213.0,100.5 212.5,100.3 212.0,100.2 211.3,100.0 210.8,99.8 210.2,99.7 209.5,99.5 209.0,99.4 208.5,99.2 207.8,99.0 207.2,98.9 206.5,98.8 205.8,98.8 205.2,98.6 204.5,98.5 204.0,98.4 203.2,98.3 202.5,98.3 202.0,98.2 201.2,98.1 200.5,98.0 199.8,98.0 199.0,98.0 198.2,98.0 197.8,97.9 197.0,97.8 196.2,97.8 195.8,97.5 196.0,97.0 196.2,96.5 196.6,96.0 197.2,95.9 198.0,96.0 198.5,96.2 199.0,96.3 199.5,96.5 200.2,96.7 201.0,96.7 201.8,96.7 202.5,96.7 203.2,96.7 204.0,96.7 204.8,96.7 205.5,96.7 206.2,96.5 206.8,96.3 207.2,96.1 207.8,95.9 208.2,95.6 208.8,95.4 209.2,95.1 209.8,94.9 210.2,94.6 210.7,94.2 211.0,94.0 211.5,93.5 211.8,93.2 212.2,92.9 212.7,92.5 213.0,92.2 213.5,91.8 213.8,91.5 214.2,91.0 214.5,90.7 215.0,90.2 215.2,90.0 215.7,89.5 216.0,89.2 216.5,88.8 216.8,88.5 217.2,88.0 217.5,87.7 217.8,87.2 218.2,86.8 218.5,86.4 218.8,86.0 219.2,85.5 219.5,85.1 219.8,84.7 220.1,84.2 220.4,83.8 220.8,83.3 221.0,83.0 221.4,82.5 221.7,82.0 222.0,81.5 222.2,81.2 222.6,80.8 223.0,80.2 223.3,80.0 223.8,79.7 224.2,79.3 224.7,79.0 225.0,78.7 225.5,78.4 226.0,78.0 226.3,77.8 226.8,77.5 227.2,77.1 227.8,76.9 228.2,76.6 228.8,76.5 229.5,76.3 230.0,76.2 230.8,76.0 231.2,75.9 231.8,75.8 232.5,75.7 233.0,75.8 233.8,75.9 234.5,76.0 235.0,76.1 235.5,76.3 236.2,76.5 236.8,76.7 237.0,77.0 237.5,77.4 238.0,77.7 238.2,78.2 238.5,78.7 238.8,79.1 239.0,79.8 239.2,80.2 239.4,80.8 239.6,81.2 239.8,81.8 239.9,82.5 240.1,83.0 240.2,83.5 240.3,84.2 240.3,85.0 240.3,85.8 240.5,86.5 240.5,87.0 240.5,87.8 240.5,88.5 240.5,89.2 240.6,90.0 240.7,90.8 240.8,91.2 240.9,92.0 241.0,92.6 241.1,93.2 241.2,93.8 241.4,94.5 241.5,95.1 241.6,95.8 241.7,96.5 241.6,97.2 241.7,98.0 241.6,98.8 241.5,99.5 241.5,100.0 241.4,100.8 241.2,101.2 241.0,101.8 240.6,102.2 240.2,102.6 239.8,103.0 239.5,103.2 239.0,103.6 238.5,104.0 238.0,104.2 237.5,104.4 237.0,104.7 236.5,104.9 236.0,105.1 235.4,105.2 234.8,105.4 234.2,105.5Z" fill="rgba(0,0,0,0.035)" stroke="rgba(20,20,20,0.62)" stroke-width="0.5"/>
<path d="M234.5,104.5 233.8,104.6 233.0,104.6 232.2,104.6 231.5,104.6 230.8,104.5 230.2,104.5 229.5,104.3 229.0,104.2 228.2,104.1 227.8,103.9 227.2,103.7 226.7,103.5 226.0,103.2 225.5,103.0 225.0,102.8 224.5,102.6 224.0,102.4 223.4,102.2 222.9,102.0 222.4,101.8 221.8,101.5 221.3,101.2 220.8,101.0 220.2,100.9 219.7,100.8 219.0,100.6 218.4,100.5 217.8,100.4 217.2,100.2 216.5,100.1 216.0,100.0 215.2,99.8 214.8,99.7 214.0,99.5 213.5,99.3 213.0,99.1 212.5,98.9 211.8,98.8 211.2,98.6 210.8,98.4 210.1,98.2 209.5,98.1 209.0,98.0 208.3,97.8 207.8,97.6 208.0,97.3 208.5,97.0 209.0,96.8 209.5,96.5 210.0,96.2 210.5,96.0 210.9,95.8 211.3,95.5 211.8,95.1 212.1,94.8 212.5,94.4 213.0,94.1 213.4,93.8 213.8,93.4 214.1,93.0 214.5,92.6 214.9,92.2 215.2,91.9 215.6,91.5 216.0,91.1 216.4,90.8 216.8,90.4 217.1,90.0 217.5,89.6 217.9,89.2 218.2,88.9 218.6,88.5 218.9,88.0 219.2,87.6 219.6,87.2 219.9,86.8 220.2,86.3 220.5,86.0 220.8,85.5 221.2,85.0 221.5,84.6 221.8,84.2 222.1,83.8 222.5,83.3 222.8,82.9 223.0,82.5 223.3,82.0 223.7,81.5 224.0,81.2 224.5,80.8 224.9,80.5 225.3,80.2 225.8,79.9 226.2,79.5 226.6,79.2 227.0,78.9 227.5,78.6 228.0,78.3 228.5,78.0 229.0,77.8 229.5,77.7 230.2,77.5 230.8,77.4 231.3,77.2 232.0,77.1 232.8,77.1 233.5,77.2 234.0,77.3 234.8,77.4 235.2,77.6 235.8,77.8 236.2,78.1 236.7,78.5 237.0,78.8 237.3,79.2 237.6,79.8 237.8,80.3 238.0,81.0 238.2,81.5 238.4,82.0 238.5,82.5 238.7,83.2 238.9,83.8 238.9,84.5 238.9,85.2 239.0,85.9 239.1,86.5 239.2,87.2 239.2,88.0 239.2,88.8 239.2,89.5 239.3,90.0 239.4,90.8 239.5,91.2 239.7,92.0 239.9,92.5 240.0,93.1 240.2,93.8 240.3,94.2 240.4,95.0 240.5,95.5 240.6,96.2 240.6,97.0 240.7,97.8 240.7,98.5 240.6,99.2 240.5,100.0 240.4,100.5 240.2,101.0 239.9,101.5 239.5,101.9 239.2,102.2 238.8,102.6 238.2,103.0 237.9,103.2 237.3,103.5 236.8,103.7 236.2,104.0 235.8,104.2 235.2,104.3 234.6,104.5Z" fill="rgba(0,0,0,0.035)" stroke="rgba(20,20,20,0.62)" stroke-width="0.5"/>
<path d="M233.5,103.8 232.8,103.8 232.2,103.7 231.5,103.7 230.8,103.6 230.0,103.5 229.5,103.4 228.8,103.2 228.2,103.1 227.8,102.9 227.2,102.7 226.8,102.5 226.2,102.2 225.7,102.0 225.2,101.8 224.6,101.5 224.0,101.3 223.5,101.1 223.0,100.8 222.5,100.6 222.0,100.3 221.5,100.1 221.0,99.9 220.5,99.6 220.0,99.5 219.2,99.4 218.7,99.2 218.0,99.1 217.5,99.0 216.8,98.9 216.2,98.7 215.5,98.5 215.0,98.4 214.4,98.2 213.8,98.0 213.2,97.8 212.8,97.7 212.1,97.5 211.5,97.3 211.5,96.9 212.0,96.5 212.4,96.2 212.8,95.9 213.2,95.5 213.6,95.2 214.0,94.9 214.4,94.5 214.8,94.2 215.2,93.8 215.5,93.4 215.9,93.0 216.2,92.7 216.7,92.2 217.0,91.9 217.4,91.5 217.8,91.2 218.2,90.8 218.5,90.4 218.9,90.0 219.2,89.7 219.6,89.2 220.0,88.8 220.2,88.4 220.6,88.0 221.0,87.5 221.2,87.1 221.5,86.8 221.9,86.2 222.2,85.8 222.5,85.4 222.8,85.0 223.2,84.5 223.5,84.1 223.8,83.7 224.0,83.2 224.4,82.8 224.7,82.2 225.1,82.0 225.5,81.7 226.0,81.3 226.4,81.0 226.8,80.7 227.2,80.4 227.7,80.0 228.1,79.8 228.5,79.5 229.0,79.2 229.6,79.0 230.2,78.8 230.8,78.7 231.5,78.5 232.0,78.4 232.8,78.4 233.3,78.5 234.0,78.6 234.7,78.8 235.2,79.0 235.6,79.2 236.0,79.6 236.2,80.1 236.5,80.6 236.7,81.2 237.0,81.8 237.1,82.2 237.3,82.8 237.5,83.5 237.6,84.0 237.7,84.8 237.7,85.5 237.8,86.2 237.9,86.8 237.9,87.5 237.9,88.2 237.9,89.0 238.0,89.5 238.2,90.2 238.3,90.8 238.5,91.5 238.6,92.0 238.8,92.5 239.0,93.2 239.1,93.8 239.3,94.2 239.5,95.0 239.6,95.5 239.7,96.2 239.7,97.0 239.8,97.5 239.8,98.2 239.7,98.8 239.6,99.5 239.6,100.2 239.3,100.8 239.0,101.1 238.6,101.5 238.2,101.9 237.8,102.2 237.3,102.5 236.8,102.7 236.2,103.0 235.8,103.2 235.2,103.4 234.8,103.5 234.0,103.7 233.5,103.8Z" fill="rgba(0,0,0,0.035)" stroke="rgba(20,20,20,0.62)" stroke-width="0.5"/>
<path d="M234.2,102.8 233.5,102.9 232.8,102.9 232.0,102.9 231.2,102.8 230.8,102.7 230.0,102.6 229.5,102.5 228.8,102.3 228.2,102.2 227.8,101.9 227.2,101.7 226.8,101.5 226.2,101.2 225.8,100.9 225.2,100.7 224.8,100.4 224.2,100.2 223.7,100.0 223.2,99.7 222.8,99.5 222.2,99.2 221.8,98.9 221.2,98.7 220.8,98.5 220.0,98.3 219.5,98.2 218.8,98.0 218.2,97.9 217.5,97.8 217.0,97.7 216.4,97.5 215.8,97.4 215.2,97.2 214.5,97.0 214.0,96.8 214.0,96.5 214.5,96.1 214.9,95.8 215.2,95.4 215.7,95.0 216.0,94.7 216.4,94.2 216.8,93.9 217.2,93.5 217.5,93.2 217.9,92.8 218.2,92.4 218.7,92.0 219.0,91.7 219.4,91.2 219.8,90.9 220.1,90.5 220.5,90.1 220.8,89.8 221.1,89.2 221.5,88.8 221.8,88.5 222.1,88.0 222.5,87.5 222.8,87.2 223.0,86.8 223.4,86.2 223.8,85.8 224.0,85.4 224.3,85.0 224.7,84.5 225.0,84.0 225.2,83.6 225.5,83.2 226.0,82.8 226.4,82.5 226.8,82.2 227.2,81.9 227.8,81.5 228.1,81.2 228.5,80.9 229.0,80.6 229.5,80.3 230.0,80.1 230.6,80.0 231.2,79.8 231.8,79.7 232.5,79.6 233.2,79.7 233.8,79.8 234.5,80.0 234.9,80.2 235.2,80.8 235.4,81.2 235.6,81.8 235.8,82.2 236.0,82.8 236.2,83.5 236.4,84.0 236.4,84.8 236.5,85.5 236.5,86.0 236.6,86.8 236.7,87.5 236.7,88.2 236.7,89.0 236.9,89.5 237.0,90.0 237.2,90.8 237.4,91.2 237.5,91.8 237.8,92.5 237.9,93.0 238.1,93.5 238.2,94.1 238.5,94.8 238.6,95.2 238.7,96.0 238.8,96.5 238.9,97.2 238.9,98.0 238.8,98.8 238.8,99.5 238.7,100.0 238.3,100.5 238.0,100.8 237.5,101.2 237.2,101.5 236.7,101.8 236.2,102.0 235.7,102.2 235.2,102.5 234.5,102.7Z" fill="rgba(0,0,0,0.035)" stroke="rgba(20,20,20,0.62)" stroke-width="0.5"/>
<path d="M234.5,101.8 233.8,102.0 233.0,102.0 232.2,102.0 231.5,101.9 230.8,101.8 230.2,101.7 229.5,101.5 229.0,101.4 228.5,101.2 228.0,101.0 227.5,100.7 227.0,100.5 226.5,100.2 226.0,99.9 225.5,99.6 225.0,99.4 224.5,99.1 224.0,98.9 223.5,98.6 223.0,98.3 222.5,98.1 222.0,97.8 221.5,97.5 221.0,97.3 220.5,97.2 219.8,97.0 219.2,96.9 218.5,96.8 218.0,96.7 217.2,96.5 216.8,96.4 216.3,96.0 216.8,95.6 217.1,95.2 217.5,94.8 217.8,94.5 218.2,94.1 218.6,93.8 219.0,93.3 219.3,93.0 219.8,92.6 220.1,92.2 220.5,91.8 220.8,91.5 221.2,91.0 221.5,90.7 221.8,90.2 222.2,89.8 222.5,89.5 222.8,89.0 223.2,88.5 223.5,88.1 223.8,87.8 224.1,87.2 224.5,86.8 224.8,86.4 225.0,86.0 225.4,85.5 225.8,85.0 226.0,84.6 226.2,84.2 226.7,83.8 227.0,83.5 227.5,83.2 228.0,82.8 228.4,82.5 228.8,82.2 229.2,81.8 229.8,81.5 230.2,81.3 230.8,81.2 231.4,81.0 232.0,80.9 232.8,80.8 233.5,80.9 234.0,81.1 234.3,81.5 234.5,82.1 234.8,82.7 235.0,83.2 235.1,83.8 235.2,84.4 235.3,85.0 235.3,85.8 235.4,86.5 235.5,87.2 235.5,87.8 235.5,88.5 235.6,89.2 235.8,89.8 236.0,90.3 236.2,91.0 236.4,91.5 236.6,92.0 236.8,92.5 237.0,93.2 237.2,93.8 237.4,94.2 237.5,94.8 237.8,95.5 237.8,96.0 237.9,96.8 238.0,97.2 238.0,98.0 238.0,98.5 238.0,99.2 237.8,99.8 237.3,100.2 237.0,100.5 236.5,100.8 236.0,101.1 235.5,101.4 235.0,101.6 234.5,101.8Z" fill="rgba(0,0,0,0.035)" stroke="rgba(20,20,20,0.62)" stroke-width="0.5"/>
<path d="M233.8,101.0 233.0,101.1 232.2,101.0 231.8,101.0 231.0,100.9 230.3,100.8 229.8,100.6 229.2,100.5 228.7,100.2 228.2,100.0 227.7,99.8 227.2,99.5 226.8,99.2 226.2,98.9 225.8,98.5 225.3,98.2 224.8,98.0 224.2,97.8 223.8,97.5 223.3,97.2 222.9,97.0 222.4,96.8 222.0,96.5 221.4,96.2 220.8,96.1 220.2,96.0 219.5,95.8 219.0,95.7 218.5,95.5 218.8,95.2 219.2,94.8 219.5,94.4 219.9,94.0 220.2,93.7 220.7,93.2 221.0,92.9 221.4,92.5 221.8,92.2 222.1,91.8 222.5,91.3 222.8,90.9 223.1,90.5 223.5,90.0 223.8,89.7 224.1,89.2 224.5,88.8 224.8,88.3 225.0,87.9 225.3,87.5 225.7,87.0 226.0,86.6 226.3,86.2 226.6,85.8 226.9,85.2 227.2,84.8 227.6,84.5 228.0,84.2 228.5,83.8 228.9,83.5 229.3,83.2 229.8,82.9 230.2,82.5 230.8,82.3 231.2,82.2 232.0,82.0 232.5,81.9 233.0,82.0 233.4,82.5 233.7,83.0 233.8,83.5 234.0,84.1 234.1,84.8 234.1,85.5 234.2,86.2 234.3,86.8 234.4,87.5 234.4,88.2 234.4,89.0 234.6,89.5 234.8,90.0 235.0,90.5 235.2,91.2 235.5,91.8 235.7,92.2 235.9,92.8 236.0,93.2 236.2,93.8 236.5,94.4 236.7,95.0 236.9,95.5 237.0,96.2 237.1,96.8 237.2,97.5 237.2,98.2 237.1,99.0 236.8,99.5 236.4,99.8 236.0,100.0 235.5,100.3 235.0,100.5 234.5,100.8 233.8,101.0Z" fill="rgba(0,0,0,0.035)" stroke="rgba(20,20,20,0.62)" stroke-width="0.5"/>
<path d="M233.5,100.0 232.8,100.0 232.2,100.0 231.5,99.9 230.8,99.8 230.2,99.7 229.7,99.5 229.0,99.2 228.5,99.0 228.1,98.8 227.7,98.5 227.2,98.2 226.8,97.9 226.2,97.5 225.8,97.2 225.4,97.0 224.9,96.8 224.4,96.5 223.9,96.2 223.5,96.0 223.0,95.8 222.5,95.5 222.0,95.2 221.2,95.0 220.8,94.8 221.2,94.2 221.5,94.0 222.0,93.5 222.2,93.2 222.7,92.8 223.0,92.4 223.3,92.0 223.7,91.5 224.0,91.2 224.3,90.8 224.7,90.2 225.0,89.9 225.3,89.5 225.6,89.0 225.9,88.5 226.2,88.1 226.5,87.8 226.9,87.2 227.2,86.8 227.5,86.4 227.8,86.0 228.1,85.5 228.5,85.2 229.0,84.8 229.4,84.5 229.8,84.2 230.2,83.9 230.8,83.5 231.2,83.4 231.8,83.2 232.5,83.2 232.8,83.7 232.9,84.2 233.0,84.8 233.0,85.5 233.1,86.2 233.2,87.0 233.3,87.5 233.3,88.2 233.3,89.0 233.5,89.5 233.8,90.0 234.0,90.6 234.2,91.2 234.4,91.8 234.6,92.2 234.9,92.8 235.1,93.2 235.3,93.8 235.5,94.3 235.8,94.9 236.0,95.5 236.0,96.0 236.2,96.8 236.3,97.2 236.3,98.0 236.2,98.5 235.8,98.9 235.2,99.2 234.8,99.5 234.3,99.8 233.8,100.0Z" fill="rgba(0,0,0,0.035)" stroke="rgba(20,20,20,0.62)" stroke-width="0.5"/>
<path d="M233.5,98.8 232.8,98.9 232.0,98.8 231.5,98.7 230.8,98.6 230.2,98.4 229.7,98.2 229.1,98.0 228.6,97.8 228.2,97.5 227.8,97.2 227.2,96.8 226.8,96.5 226.5,96.2 226.0,95.9 225.5,95.6 225.0,95.4 224.5,95.2 224.0,95.0 223.5,94.5 223.2,94.0 223.3,93.8 223.7,93.2 224.0,92.9 224.3,92.5 224.7,92.0 225.0,91.6 225.3,91.2 225.7,90.8 226.0,90.3 226.2,90.0 226.6,89.5 226.9,89.0 227.2,88.6 227.5,88.2 227.9,87.8 228.2,87.2 228.5,86.9 228.8,86.5 229.2,86.0 229.6,85.8 230.0,85.4 230.5,85.1 230.9,84.8 231.2,84.5 231.8,84.5 232.0,85.2 232.0,86.0 232.0,86.5 232.1,87.2 232.2,88.0 232.2,88.8 232.3,89.2 232.6,89.8 232.8,90.2 233.0,90.8 233.2,91.4 233.5,92.0 233.7,92.5 234.0,93.0 234.2,93.5 234.4,94.0 234.7,94.5 234.9,95.0 235.0,95.5 235.2,96.2 235.3,96.8 235.4,97.5 235.0,98.0 234.6,98.2 234.2,98.5 233.7,98.8Z" fill="rgba(0,0,0,0.035)" stroke="rgba(20,20,20,0.62)" stroke-width="0.5"/>
<path d="M233.5,97.4 232.8,97.5 232.0,97.4 231.2,97.3 230.8,97.1 230.2,97.0 229.6,96.8 229.0,96.5 228.6,96.2 228.2,96.0 227.8,95.6 227.2,95.3 226.9,95.0 226.5,94.7 226.0,94.4 225.5,94.2 225.0,93.9 225.1,93.5 225.2,93.0 225.7,92.5 226.0,92.1 226.2,91.7 226.6,91.2 227.0,90.8 227.2,90.4 227.5,90.0 227.9,89.5 228.2,89.0 228.5,88.6 228.8,88.2 229.2,87.8 229.5,87.2 229.8,86.9 230.2,86.5 230.7,86.2 231.0,86.5 231.0,87.0 231.2,87.8 231.2,88.5 231.2,89.2 231.5,89.8 231.7,90.2 231.9,90.8 232.1,91.2 232.3,91.8 232.6,92.2 232.8,92.8 233.1,93.2 233.3,93.8 233.6,94.2 233.8,94.8 234.0,95.2 234.2,96.0 234.3,96.5 234.1,97.0 233.7,97.2Z" fill="rgba(0,0,0,0.035)" stroke="rgba(20,20,20,0.62)" stroke-width="0.5"/>
<path d="M233.0,95.8 232.3,95.8 231.8,95.7 231.0,95.5 230.5,95.4 230.0,95.2 229.5,95.0 229.0,94.8 228.5,94.4 228.0,94.1 227.5,93.8 227.0,93.5 226.6,93.2 226.5,93.0 226.9,92.5 227.2,92.0 227.5,91.8 227.9,91.2 228.2,90.8 228.5,90.4 228.8,90.0 229.1,89.5 229.5,89.0 229.8,88.7 230.1,88.5 230.2,89.2 230.4,89.8 230.6,90.2 230.8,90.8 231.0,91.2 231.3,91.8 231.5,92.2 231.8,92.8 232.0,93.2 232.3,93.8 232.5,94.2 232.8,94.8 233.0,95.3 233.0,95.8Z" fill="rgba(0,0,0,0.035)" stroke="rgba(20,20,20,0.62)" stroke-width="0.5"/>
<path d="M230.8,93.5 230.2,93.4 229.7,93.2 229.0,93.0 228.6,92.8 228.1,92.5 228.3,92.0 228.8,91.5 229.0,91.2 229.5,90.8 229.9,91.2 230.2,91.8 230.4,92.2 230.7,92.8 230.9,93.2Z" fill="rgba(0,0,0,0.035)" stroke="rgba(20,20,20,0.62)" stroke-width="0.5"/>
<ellipse cx="230.5" cy="97.3" rx="1.6" ry="1.6" fill="#fff" opacity="0.9"/>
<path d="M338.2,106.4 337.5,106.4 336.8,106.4 336.0,106.4 335.2,106.4 334.5,106.4 333.8,106.4 333.2,106.2 332.5,106.2 331.8,106.2 331.2,106.0 330.5,105.9 330.0,105.7 329.2,105.7 328.8,105.5 328.2,105.2 327.8,105.0 327.0,104.9 326.5,104.7 326.0,104.5 325.3,104.2 324.8,104.2 324.1,104.0 323.6,103.8 323.0,103.7 322.5,103.4 322.0,103.2 321.5,103.0 321.0,102.7 320.5,102.4 320.0,102.2 319.6,101.8 319.1,101.5 318.6,101.2 318.2,101.0 317.8,100.7 317.2,100.5 316.8,100.2 316.2,99.9 315.8,99.5 315.3,99.2 315.0,98.9 314.5,98.7 314.1,98.2 313.6,98.0 313.0,97.9 312.6,97.5 312.1,97.2 311.8,97.0 311.2,96.7 310.6,96.5 310.0,96.4 309.5,96.2 308.8,96.2 308.2,96.4 307.7,96.5 307.2,96.9 306.8,97.2 306.4,97.5 305.9,97.8 305.7,98.2 305.2,98.7 304.9,99.0 304.5,99.4 304.2,99.9 303.9,100.2 303.5,100.7 303.0,100.9 302.5,101.2 302.0,101.4 301.4,101.5 300.8,101.7 300.0,101.7 299.5,101.9 298.8,101.9 298.0,101.9 297.5,101.7 296.8,101.7 296.3,101.2 296.0,101.0 295.5,100.7 295.2,100.2 295.0,99.7 294.8,99.2 294.5,98.5 294.3,98.0 294.1,97.5 294.0,96.8 293.8,96.2 293.8,95.5 293.8,94.8 293.8,94.2 293.6,93.5 293.6,92.8 293.6,92.0 293.5,91.4 293.3,90.8 293.3,90.0 293.3,89.2 293.3,88.5 293.5,88.0 293.6,87.2 293.8,86.6 293.8,86.0 293.8,85.2 294.0,84.8 294.1,84.0 294.1,83.2 294.3,82.8 294.3,82.0 294.3,81.2 294.6,80.8 294.6,80.0 294.8,79.5 294.8,78.8 295.0,78.0 295.1,77.5 295.2,76.8 295.2,76.0 295.4,75.5 295.5,74.8 295.5,74.2 295.7,73.5 295.8,73.0 296.0,72.5 296.2,72.0 296.5,71.2 296.6,70.8 297.0,70.3 297.5,70.0 297.8,69.8 298.1,69.2 298.5,68.8 299.0,68.6 299.8,68.6 300.2,69.0 300.5,69.3 301.0,69.6 301.4,70.0 301.8,70.3 302.2,70.8 302.5,71.0 302.9,71.5 303.2,72.0 303.5,72.5 303.8,72.8 304.0,73.3 304.4,73.8 304.8,74.1 305.2,74.5 305.4,75.0 305.7,75.5 306.0,75.8 306.2,76.3 306.7,76.8 307.0,77.1 307.4,77.5 307.9,77.8 308.5,77.8 309.0,77.6 309.5,77.3 309.8,77.0 310.2,76.6 310.6,76.2 311.0,75.8 311.3,75.5 311.8,75.1 312.1,74.8 312.5,74.3 312.8,74.0 313.2,73.6 313.8,73.3 314.1,73.0 314.6,72.8 315.0,72.3 315.5,72.1 315.8,71.8 316.3,71.5 316.8,71.1 317.2,70.8 317.6,70.5 318.1,70.2 318.6,70.0 319.1,69.8 319.6,69.5 320.0,69.1 320.5,68.8 321.0,68.6 321.6,68.5 322.1,68.2 322.6,68.0 323.1,67.8 323.6,67.5 324.2,67.3 324.8,67.1 325.5,67.0 326.0,66.8 326.5,66.6 327.2,66.5 327.8,66.3 328.5,66.3 329.2,66.3 330.0,66.3 330.5,66.1 331.2,66.1 331.8,66.3 332.5,66.3 333.2,66.3 333.8,66.5 334.5,66.6 335.2,66.6 335.8,66.8 336.5,67.0 337.0,67.0 337.7,67.2 338.2,67.4 338.8,67.5 339.5,67.8 340.0,68.0 340.5,68.2 341.0,68.5 341.5,68.6 341.9,69.0 342.2,69.4 342.5,69.8 342.9,70.2 343.2,70.6 343.5,71.0 343.8,71.5 344.1,72.0 344.3,72.5 344.6,73.0 344.8,73.5 345.0,74.1 345.2,74.6 345.5,75.2 345.7,75.8 345.8,76.3 345.9,77.0 346.2,77.5 346.2,78.2 346.2,79.0 346.2,79.8 346.4,80.2 346.4,81.0 346.4,81.8 346.4,82.5 346.4,83.2 346.4,84.0 346.4,84.8 346.4,85.5 346.4,86.2 346.4,87.0 346.2,87.5 346.2,88.2 346.2,89.0 346.2,89.8 346.2,90.5 346.2,91.2 346.2,92.0 346.0,92.5 346.0,93.2 345.8,94.0 345.7,94.5 345.7,95.2 345.7,96.0 345.7,96.8 345.5,97.2 345.4,98.0 345.4,98.8 345.2,99.2 345.0,100.0 344.9,100.5 344.7,101.0 344.4,101.5 344.2,102.0 343.8,102.5 343.5,102.8 343.2,103.2 342.8,103.7 342.5,104.0 342.0,104.5 341.5,104.7 341.2,105.0 340.7,105.2 340.0,105.5 339.5,105.7 339.2,106.0 338.5,106.2Z" fill="none" stroke="#6a6a6a" stroke-width="0.45"/>
<path d="M338.2,105.0 337.8,105.0 337.0,104.9 336.2,104.8 335.7,104.8 335.1,104.5 334.5,104.3 334.0,104.2 333.3,104.0 332.8,103.9 332.0,103.8 331.5,103.7 330.8,103.5 330.2,103.4 329.5,103.3 329.0,103.0 328.5,102.8 328.0,102.7 327.2,102.5 326.8,102.3 326.2,102.1 325.8,102.0 325.0,101.9 324.5,101.6 324.0,101.5 323.5,101.2 322.9,101.0 322.3,100.8 322.0,100.5 321.5,100.2 321.0,100.0 320.5,99.6 320.0,99.4 319.5,99.0 319.0,98.8 318.5,98.5 318.0,98.3 317.6,98.0 317.2,97.7 316.8,97.4 316.3,97.0 316.0,96.8 315.5,96.5 315.0,96.1 314.5,95.9 314.0,95.7 313.5,95.4 313.0,95.0 312.5,94.8 312.0,94.5 311.5,94.4 311.0,94.2 310.2,94.0 309.8,93.9 309.0,93.9 308.2,94.0 307.8,94.1 307.1,94.2 306.5,94.5 306.2,94.8 305.8,95.0 305.2,95.4 304.8,95.8 304.4,96.0 304.0,96.4 303.8,96.8 303.4,97.2 303.0,97.7 302.8,98.2 302.5,98.5 302.0,99.0 301.7,99.2 301.2,99.5 300.8,99.8 300.0,99.9 299.5,100.1 298.8,100.1 298.2,99.9 297.8,99.6 297.2,99.4 296.8,99.0 296.5,98.8 296.2,98.2 296.0,97.5 295.9,97.0 295.7,96.5 295.6,95.8 295.6,95.0 295.4,94.5 295.4,93.8 295.4,93.0 295.4,92.2 295.4,91.5 295.2,91.0 295.1,90.2 295.1,89.5 295.1,88.8 295.1,88.0 295.2,87.2 295.4,86.8 295.4,86.0 295.4,85.2 295.4,84.5 295.5,84.0 295.6,83.2 295.7,82.5 295.9,82.0 295.9,81.2 295.9,80.5 295.9,79.8 295.9,79.0 295.9,78.2 296.1,77.8 296.1,77.0 296.2,76.2 296.4,75.8 296.4,75.0 296.5,74.2 296.6,73.8 296.8,73.2 297.0,72.7 297.2,72.0 297.4,71.5 297.7,71.0 298.2,70.9 298.8,71.0 299.5,71.1 300.2,71.0 301.0,71.2 301.5,71.5 301.8,71.8 302.1,72.2 302.3,72.8 302.5,73.5 302.6,74.0 302.8,74.5 302.9,75.2 303.1,75.8 303.4,76.2 303.7,76.8 304.0,77.1 304.3,77.5 304.7,78.0 305.0,78.3 305.4,78.8 305.8,79.1 306.2,79.5 306.8,79.7 307.2,80.0 307.8,80.1 308.5,80.1 309.2,80.0 309.8,79.9 310.2,79.6 310.8,79.3 311.1,79.0 311.5,78.6 311.8,78.2 312.2,77.8 312.6,77.5 313.0,77.1 313.3,76.8 313.8,76.3 314.1,76.0 314.5,75.6 315.0,75.3 315.3,75.0 315.8,74.7 316.2,74.4 316.8,74.0 317.1,73.8 317.5,73.5 318.0,73.1 318.5,72.8 318.8,72.5 319.2,72.2 319.8,72.0 320.2,71.7 320.8,71.5 321.2,71.1 321.8,70.8 322.2,70.7 322.8,70.5 323.2,70.2 323.8,70.0 324.2,69.7 325.0,69.5 325.5,69.4 326.1,69.2 326.8,69.0 327.2,68.9 327.9,68.8 328.5,68.6 329.2,68.6 330.0,68.6 330.8,68.5 331.1,68.5 331.8,68.6 332.5,68.6 333.1,68.8 333.8,68.8 334.5,68.8 335.2,68.9 336.0,68.9 336.8,68.9 337.2,69.1 337.9,69.2 338.5,69.4 339.0,69.6 339.5,69.8 340.0,70.0 340.6,70.2 341.0,70.6 341.3,71.0 341.8,71.5 342.0,71.8 342.3,72.2 342.6,72.8 342.9,73.2 343.1,73.8 343.4,74.2 343.5,74.8 343.8,75.3 344.0,76.0 344.1,76.5 344.4,77.0 344.5,77.6 344.7,78.2 344.8,78.8 344.9,79.5 344.9,80.2 345.0,80.8 345.1,81.5 345.1,82.2 345.2,83.0 345.3,83.5 345.3,84.2 345.3,85.0 345.4,85.8 345.4,86.5 345.4,87.2 345.4,88.0 345.5,88.8 345.5,89.5 345.5,90.2 345.5,91.0 345.4,91.8 345.4,92.5 345.4,93.2 345.2,93.9 345.2,94.5 345.1,95.2 345.1,96.0 345.0,96.8 344.8,97.2 344.8,98.0 344.7,98.5 344.5,99.1 344.3,99.8 344.1,100.2 343.9,100.8 343.6,101.2 343.3,101.8 343.0,102.2 342.7,102.5 342.4,103.0 342.0,103.4 341.6,103.8 341.1,104.0 340.8,104.3 340.2,104.5 339.5,104.7 339.0,104.8 338.3,105.0Z" fill="rgba(0,0,0,0.035)" stroke="rgba(20,20,20,0.62)" stroke-width="0.5"/>
<path d="M338.8,103.5 338.0,103.7 337.2,103.6 336.5,103.5 336.0,103.4 335.5,103.2 334.8,103.0 334.2,102.9 333.8,102.7 333.2,102.5 332.6,102.2 332.0,102.1 331.5,102.0 330.8,101.8 330.2,101.8 329.7,101.5 329.1,101.2 328.5,101.1 328.0,101.0 327.4,100.8 326.8,100.5 326.2,100.4 325.5,100.3 325.0,100.0 324.5,99.9 324.0,99.7 323.5,99.5 323.0,99.2 322.5,98.9 322.0,98.6 321.5,98.3 321.0,98.0 320.6,97.8 320.2,97.5 319.7,97.2 319.2,97.0 318.7,96.8 318.2,96.4 317.8,96.0 317.4,95.8 317.0,95.4 316.5,95.1 316.0,94.8 315.5,94.5 315.0,94.3 314.5,94.0 314.1,93.8 313.7,93.5 313.2,93.2 312.6,93.0 312.0,92.8 311.5,92.6 310.9,92.5 310.2,92.3 309.5,92.3 308.8,92.3 308.0,92.3 307.3,92.5 306.8,92.6 306.2,92.8 305.8,93.0 305.2,93.4 304.8,93.7 304.4,94.0 304.0,94.3 303.5,94.6 303.1,95.0 302.8,95.4 302.5,95.8 302.5,96.5 302.4,97.2 302.2,97.8 301.8,98.2 301.5,98.6 301.0,98.9 300.5,99.2 300.0,99.2 299.2,99.5 298.5,99.3 298.0,99.0 297.5,98.8 297.1,98.5 296.8,98.0 296.7,97.5 296.5,96.8 296.3,96.2 296.3,95.5 296.2,95.0 296.0,94.2 296.0,93.5 296.0,92.8 296.0,92.0 296.0,91.5 295.8,90.8 295.8,90.0 295.8,89.2 295.8,88.5 295.8,87.8 295.9,87.0 296.0,86.5 296.0,85.8 296.0,85.0 296.1,84.2 296.3,83.8 296.3,83.0 296.4,82.2 296.5,81.8 296.5,81.0 296.5,80.2 296.5,79.5 296.5,78.8 296.7,78.0 296.8,77.5 296.8,76.8 296.9,76.0 297.0,75.5 297.0,74.8 297.2,74.0 297.3,73.5 297.6,73.0 297.8,72.5 298.0,71.8 298.5,71.6 299.0,71.8 299.8,71.8 300.2,71.7 300.8,71.8 301.2,72.2 301.5,72.5 301.7,73.2 301.9,73.8 302.1,74.2 302.2,75.0 302.2,75.8 302.4,76.2 302.5,76.8 302.7,77.5 302.8,78.1 303.0,78.6 303.4,79.0 303.8,79.4 304.1,79.8 304.5,80.2 304.9,80.5 305.2,80.8 305.8,81.1 306.2,81.3 306.8,81.5 307.5,81.7 308.2,81.7 309.0,81.7 309.8,81.6 310.2,81.5 310.8,81.2 311.2,81.0 311.8,80.6 312.2,80.2 312.5,79.9 312.9,79.5 313.2,79.2 313.7,78.8 314.0,78.4 314.4,78.0 314.8,77.7 315.2,77.2 315.5,77.0 316.0,76.6 316.4,76.2 316.8,76.0 317.2,75.7 317.8,75.4 318.2,75.0 318.6,74.8 319.0,74.4 319.5,74.1 319.9,73.8 320.4,73.5 320.9,73.2 321.4,73.0 321.8,72.8 322.2,72.5 322.9,72.2 323.4,72.0 323.9,71.8 324.4,71.5 324.9,71.2 325.5,71.1 326.0,71.0 326.8,70.8 327.2,70.6 327.8,70.5 328.5,70.3 329.0,70.2 329.8,70.2 330.5,70.2 331.2,70.2 332.0,70.2 332.5,70.3 333.2,70.5 334.0,70.5 334.8,70.5 335.5,70.4 336.2,70.4 336.8,70.5 337.5,70.7 338.0,70.8 338.7,71.0 339.2,71.2 339.8,71.5 340.0,71.8 340.5,72.2 340.8,72.5 341.1,73.0 341.4,73.5 341.7,74.0 342.0,74.5 342.2,75.0 342.4,75.5 342.6,76.0 342.8,76.5 343.0,77.1 343.2,77.8 343.4,78.2 343.5,78.8 343.6,79.5 343.7,80.2 343.8,80.8 343.9,81.5 344.0,82.2 344.1,82.8 344.1,83.5 344.2,84.2 344.3,84.8 344.3,85.5 344.4,86.2 344.4,87.0 344.4,87.8 344.5,88.5 344.5,89.2 344.5,90.0 344.5,90.8 344.5,91.5 344.4,92.2 344.4,93.0 344.2,93.7 344.2,94.2 344.1,95.0 344.0,95.8 344.0,96.2 343.8,97.0 343.7,97.5 343.6,98.2 343.4,98.8 343.2,99.2 343.0,99.8 342.8,100.3 342.5,100.8 342.2,101.2 341.8,101.7 341.5,102.1 341.1,102.5 340.7,102.8 340.2,103.0 339.8,103.3 339.0,103.4Z" fill="rgba(0,0,0,0.035)" stroke="rgba(20,20,20,0.62)" stroke-width="0.5"/>
<path d="M338.8,102.3 338.0,102.5 337.2,102.5 336.5,102.3 336.0,102.2 335.4,102.0 334.8,101.8 334.2,101.6 333.8,101.4 333.2,101.2 332.8,101.0 332.2,100.7 331.5,100.5 331.0,100.4 330.5,100.2 329.9,100.0 329.3,99.8 328.8,99.6 328.2,99.5 327.5,99.2 327.0,99.1 326.5,98.9 325.8,98.8 325.2,98.6 324.8,98.4 324.2,98.2 323.8,97.9 323.2,97.6 322.8,97.4 322.2,97.0 321.8,96.8 321.3,96.5 320.9,96.2 320.5,96.0 320.0,95.8 319.5,95.5 319.0,95.1 318.5,94.8 318.2,94.5 317.8,94.2 317.2,93.9 316.8,93.5 316.2,93.3 315.8,93.0 315.2,92.8 314.8,92.5 314.4,92.2 314.0,92.0 313.4,91.8 312.8,91.5 312.2,91.3 311.8,91.2 311.0,91.0 310.5,90.9 309.8,90.8 309.0,90.8 308.2,90.8 307.5,90.9 307.0,91.1 306.2,91.2 305.8,91.4 305.2,91.6 304.8,91.9 304.3,92.2 303.9,92.5 303.5,92.8 303.0,93.2 302.6,93.5 302.2,93.8 302.2,94.5 302.0,95.1 301.9,95.8 301.9,96.5 301.8,97.2 301.5,97.8 301.2,98.0 300.8,98.4 300.2,98.6 299.6,98.8 299.0,98.9 298.5,98.7 298.0,98.4 297.5,98.0 297.3,97.5 297.1,97.0 297.0,96.4 296.8,95.8 296.8,95.0 296.7,94.5 296.6,93.8 296.6,93.0 296.6,92.2 296.6,91.5 296.5,91.0 296.3,90.2 296.3,89.5 296.3,88.8 296.3,88.0 296.5,87.2 296.6,86.8 296.6,86.0 296.6,85.2 296.6,84.5 296.8,84.0 296.8,83.2 297.0,82.5 297.1,82.0 297.1,81.2 297.1,80.5 297.1,79.8 297.1,79.0 297.2,78.2 297.3,77.8 297.3,77.0 297.5,76.2 297.6,75.8 297.6,75.0 297.8,74.4 297.9,73.8 298.1,73.2 298.3,72.8 298.8,72.3 299.5,72.3 300.2,72.3 300.8,72.5 301.1,73.0 301.2,73.6 301.5,74.2 301.6,74.8 301.7,75.5 301.8,76.1 301.9,76.8 302.0,77.2 302.2,78.0 302.2,78.8 302.2,79.5 302.3,80.0 302.8,80.5 303.0,80.8 303.5,81.2 303.8,81.5 304.2,81.9 304.8,82.2 305.2,82.5 305.8,82.7 306.2,82.9 306.8,83.1 307.5,83.2 308.2,83.2 309.0,83.2 309.8,83.1 310.3,83.0 310.9,82.8 311.5,82.5 311.9,82.2 312.3,82.0 312.8,81.7 313.2,81.2 313.5,81.0 314.0,80.5 314.2,80.2 314.7,79.8 315.0,79.5 315.5,79.0 315.8,78.7 316.2,78.2 316.6,78.0 317.0,77.7 317.5,77.3 318.0,77.0 318.3,76.8 318.8,76.4 319.2,76.1 319.7,75.8 320.0,75.5 320.5,75.1 321.0,74.9 321.5,74.6 322.0,74.4 322.5,74.1 323.0,73.8 323.5,73.6 324.0,73.4 324.5,73.1 325.0,72.9 325.5,72.6 326.0,72.5 326.8,72.3 327.2,72.2 327.8,72.0 328.5,71.8 329.0,71.7 329.8,71.7 330.5,71.7 331.2,71.7 332.0,71.7 332.5,71.8 333.2,71.9 334.0,71.9 334.8,71.8 335.2,71.7 336.0,71.7 336.5,71.8 337.2,71.9 337.8,72.1 338.3,72.2 338.9,72.5 339.2,72.8 339.7,73.2 340.0,73.6 340.3,74.0 340.6,74.5 340.8,75.0 341.1,75.5 341.3,76.0 341.5,76.5 341.8,77.1 342.0,77.7 342.2,78.2 342.4,78.8 342.5,79.3 342.6,80.0 342.7,80.8 342.8,81.2 342.9,82.0 343.0,82.5 343.1,83.2 343.2,84.0 343.3,84.5 343.3,85.2 343.4,86.0 343.5,86.8 343.5,87.3 343.5,88.0 343.6,88.8 343.6,89.5 343.6,90.2 343.6,91.0 343.5,91.8 343.5,92.5 343.5,93.0 343.3,93.8 343.2,94.2 343.2,95.0 343.1,95.8 343.0,96.2 342.8,97.0 342.7,97.5 342.5,98.2 342.3,98.8 342.1,99.2 341.9,99.8 341.6,100.2 341.2,100.6 340.9,101.0 340.5,101.5 340.2,101.8 339.7,102.0 339.0,102.2Z" fill="rgba(0,0,0,0.035)" stroke="rgba(20,20,20,0.62)" stroke-width="0.5"/>
<path d="M338.5,101.3 337.8,101.4 337.0,101.4 336.4,101.2 335.8,101.0 335.2,100.8 334.8,100.7 334.2,100.5 333.8,100.2 333.2,100.0 332.7,99.8 332.2,99.5 331.7,99.2 331.0,99.0 330.5,98.8 330.0,98.6 329.5,98.4 328.8,98.3 328.2,98.1 327.8,97.9 327.2,97.7 326.5,97.6 326.0,97.4 325.5,97.2 325.0,97.0 324.4,96.8 324.0,96.5 323.5,96.2 323.0,95.9 322.5,95.6 322.0,95.3 321.5,95.0 321.0,94.8 320.5,94.5 320.1,94.2 319.8,94.0 319.2,93.6 318.8,93.2 318.4,93.0 318.0,92.7 317.5,92.4 317.0,92.1 316.5,91.9 316.0,91.6 315.5,91.3 315.0,91.0 314.5,90.8 314.0,90.5 313.5,90.3 313.0,90.2 312.5,90.0 311.8,89.8 311.2,89.7 310.5,89.5 310.0,89.5 309.2,89.4 308.5,89.4 307.8,89.5 307.2,89.6 306.7,89.8 306.0,89.9 305.5,90.1 305.0,90.3 304.5,90.5 304.0,90.8 303.5,91.2 303.0,91.5 302.7,91.8 302.2,92.1 301.8,92.5 301.6,93.0 301.6,93.8 301.6,94.5 301.5,95.0 301.4,95.8 301.4,96.5 301.2,97.2 301.0,97.5 300.5,97.9 300.0,98.1 299.5,98.2 298.9,98.2 298.3,98.0 298.0,97.8 297.8,97.2 297.6,96.5 297.4,96.0 297.4,95.2 297.3,94.5 297.1,94.0 297.1,93.2 297.1,92.5 297.1,91.8 297.0,91.0 296.9,90.5 296.9,89.8 296.9,89.0 296.9,88.2 296.9,87.5 297.1,87.0 297.1,86.2 297.1,85.5 297.1,84.8 297.3,84.2 297.4,83.5 297.4,82.8 297.6,82.2 297.6,81.5 297.6,80.8 297.6,80.0 297.6,79.2 297.7,78.5 297.8,78.0 297.9,77.2 297.9,76.5 298.1,76.0 298.1,75.2 298.2,74.5 298.4,74.0 298.6,73.5 298.8,73.0 299.5,72.9 300.2,72.8 300.6,73.2 300.8,73.8 301.0,74.5 301.1,75.0 301.1,75.8 301.2,76.3 301.4,77.0 301.6,77.5 301.6,78.2 301.6,79.0 301.6,79.8 301.6,80.5 301.7,81.2 302.0,81.6 302.4,82.0 302.8,82.4 303.2,82.8 303.5,83.0 304.0,83.3 304.5,83.6 305.0,83.9 305.5,84.1 306.0,84.3 306.8,84.4 307.2,84.5 308.0,84.6 308.8,84.6 309.5,84.5 310.0,84.4 310.8,84.3 311.2,84.1 311.8,83.9 312.2,83.6 312.8,83.3 313.2,83.0 313.6,82.8 314.0,82.4 314.4,82.0 314.8,81.6 315.1,81.2 315.5,80.9 315.9,80.5 316.2,80.1 316.6,79.8 317.0,79.4 317.5,79.0 317.8,78.8 318.2,78.4 318.8,78.1 319.2,77.8 319.6,77.5 320.0,77.2 320.5,76.8 320.9,76.5 321.3,76.2 321.8,76.0 322.2,75.7 322.8,75.5 323.2,75.2 323.8,74.9 324.2,74.7 324.8,74.5 325.2,74.2 325.8,74.0 326.5,73.8 327.0,73.6 327.5,73.5 328.2,73.3 328.8,73.1 329.5,73.1 330.2,73.1 331.0,73.0 331.8,73.1 332.5,73.2 333.2,73.2 334.0,73.1 334.7,73.0 335.2,72.9 336.0,72.9 336.5,73.0 337.2,73.1 337.8,73.3 338.2,73.5 338.8,74.0 339.0,74.3 339.4,74.8 339.7,75.2 339.9,75.8 340.2,76.2 340.4,76.8 340.6,77.2 340.9,77.8 341.1,78.2 341.3,78.8 341.5,79.5 341.6,80.0 341.7,80.8 341.8,81.2 342.0,82.0 342.1,82.5 342.2,83.2 342.3,83.8 342.4,84.5 342.5,85.2 342.5,85.8 342.6,86.5 342.6,87.2 342.7,88.0 342.7,88.8 342.7,89.5 342.7,90.2 342.7,91.0 342.7,91.8 342.6,92.5 342.5,93.2 342.4,93.8 342.3,94.5 342.2,95.0 342.2,95.8 342.0,96.3 341.8,97.0 341.7,97.5 341.5,98.2 341.2,98.7 341.0,99.2 340.8,99.6 340.5,100.0 340.0,100.5 339.7,100.8 339.2,101.1 338.6,101.2Z" fill="rgba(0,0,0,0.035)" stroke="rgba(20,20,20,0.62)" stroke-width="0.5"/>
<path d="M338.5,100.3 337.8,100.4 337.0,100.4 336.5,100.2 335.8,100.0 335.2,99.8 334.8,99.6 334.2,99.4 333.8,99.1 333.2,98.9 332.8,98.6 332.2,98.4 331.8,98.1 331.2,97.8 330.8,97.5 330.2,97.3 329.8,97.2 329.1,97.0 328.5,96.8 328.0,96.6 327.5,96.5 326.8,96.3 326.2,96.1 325.8,96.0 325.2,95.7 324.8,95.5 324.2,95.2 323.8,94.9 323.2,94.6 322.8,94.3 322.3,94.0 321.8,93.8 321.3,93.5 320.9,93.2 320.5,93.0 320.0,92.6 319.6,92.2 319.2,92.0 318.8,91.7 318.2,91.4 317.8,91.1 317.2,90.8 316.8,90.6 316.2,90.3 315.8,90.0 315.3,89.8 314.8,89.5 314.3,89.2 313.8,89.1 313.2,88.9 312.8,88.7 312.0,88.5 311.5,88.4 310.8,88.3 310.2,88.2 309.5,88.2 308.8,88.2 308.0,88.2 307.5,88.3 306.8,88.4 306.2,88.5 305.5,88.7 305.0,88.9 304.5,89.1 304.0,89.3 303.5,89.6 303.0,89.9 302.5,90.2 302.2,90.5 301.8,90.8 301.3,90.8 301.2,91.2 301.1,92.0 301.1,92.8 301.1,93.5 301.1,94.2 301.0,94.9 300.9,95.5 300.9,96.2 300.8,97.0 300.5,97.3 300.0,97.6 299.4,97.8 299.0,97.8 298.5,97.5 298.2,97.0 298.0,96.2 297.9,95.8 297.8,95.0 297.8,94.4 297.6,93.8 297.6,93.0 297.6,92.2 297.6,91.5 297.5,90.9 297.4,90.2 297.4,89.5 297.4,88.8 297.4,88.0 297.5,87.3 297.6,86.8 297.6,86.0 297.6,85.2 297.7,84.5 297.8,84.0 297.9,83.2 298.0,82.6 298.1,82.0 298.1,81.2 298.1,80.5 298.1,79.8 298.1,79.0 298.2,78.3 298.3,77.8 298.4,77.0 298.5,76.3 298.6,75.8 298.6,75.0 298.8,74.5 299.0,73.8 299.2,73.4 300.0,73.3 300.2,73.8 300.5,74.5 300.6,75.0 300.7,75.8 300.8,76.3 300.9,77.0 301.1,77.5 301.1,78.2 301.1,79.0 301.1,79.8 301.1,80.5 301.1,81.2 301.2,82.0 301.4,82.5 301.4,83.2 301.4,84.0 301.4,84.8 301.4,85.5 301.4,86.2 301.4,87.0 301.4,87.8 301.5,88.5 301.6,88.2 301.8,87.7 301.8,87.0 301.9,86.2 302.0,85.8 302.1,85.0 302.2,84.2 302.5,83.9 303.0,84.2 303.4,84.5 303.9,84.8 304.4,85.0 305.0,85.2 305.5,85.4 306.0,85.6 306.8,85.7 307.2,85.8 308.0,85.8 308.8,85.8 309.5,85.8 310.0,85.7 310.8,85.6 311.2,85.4 311.8,85.2 312.3,85.0 312.8,84.8 313.3,84.5 313.8,84.2 314.2,83.9 314.7,83.5 315.0,83.2 315.4,82.8 315.8,82.4 316.2,82.0 316.5,81.7 316.9,81.2 317.2,80.9 317.7,80.5 318.0,80.2 318.5,79.9 319.0,79.5 319.3,79.2 319.8,79.0 320.2,78.6 320.7,78.2 321.1,78.0 321.5,77.7 322.0,77.3 322.5,77.0 323.0,76.8 323.5,76.5 324.0,76.2 324.5,76.0 325.0,75.8 325.5,75.5 326.0,75.3 326.5,75.1 327.0,75.0 327.8,74.8 328.2,74.6 328.8,74.5 329.5,74.3 330.2,74.3 331.0,74.3 331.8,74.3 332.5,74.5 333.2,74.3 333.8,74.2 334.5,74.1 335.2,74.0 336.0,74.0 336.8,74.2 337.2,74.3 337.8,74.6 338.1,75.0 338.5,75.5 338.8,75.9 339.0,76.4 339.2,76.9 339.5,77.4 339.8,77.8 340.0,78.3 340.2,78.9 340.4,79.5 340.5,80.0 340.7,80.8 340.8,81.2 341.0,82.0 341.1,82.5 341.2,83.2 341.3,83.8 341.5,84.5 341.5,85.0 341.6,85.8 341.7,86.5 341.8,87.0 341.8,87.8 341.9,88.5 341.9,89.2 341.9,90.0 341.9,90.8 341.9,91.5 341.8,92.2 341.7,92.8 341.6,93.5 341.5,94.0 341.4,94.8 341.3,95.5 341.2,96.0 341.0,96.5 340.8,97.2 340.7,97.8 340.4,98.2 340.1,98.8 339.8,99.2 339.5,99.5 339.0,100.0 338.5,100.2Z" fill="rgba(0,0,0,0.035)" stroke="rgba(20,20,20,0.62)" stroke-width="0.5"/>
<path d="M299.5,97.3 299.0,97.2 298.6,96.8 298.5,96.2 298.3,95.5 298.3,94.8 298.2,94.2 298.1,93.5 298.1,92.8 298.1,92.0 298.0,91.2 297.9,90.8 297.8,90.0 297.8,89.2 297.8,88.5 297.9,87.8 298.0,87.2 298.1,86.5 298.1,85.8 298.1,85.0 298.2,84.2 298.3,83.8 298.4,83.0 298.5,82.5 298.6,81.8 298.6,81.0 298.6,80.2 298.6,79.5 298.6,78.8 298.8,78.2 298.8,77.5 298.9,76.8 299.0,76.2 299.1,75.5 299.2,74.8 299.3,74.2 299.8,73.9 300.0,74.5 300.1,75.0 300.2,75.8 300.3,76.2 300.5,77.0 300.6,77.5 300.7,78.2 300.7,79.0 300.7,79.8 300.7,80.5 300.7,81.2 300.8,82.0 300.9,82.5 300.9,83.2 300.9,84.0 300.9,84.8 300.9,85.5 300.9,86.2 300.9,87.0 300.9,87.8 300.9,88.5 300.9,89.2 300.9,90.0 300.8,90.8 300.7,91.2 300.7,92.0 300.7,92.8 300.7,93.5 300.7,94.2 300.5,95.0 300.4,95.5 300.4,96.2 300.2,96.9 299.8,97.2Z" fill="rgba(0,0,0,0.035)" stroke="rgba(20,20,20,0.62)" stroke-width="0.5"/>
<path d="M338.2,99.3 337.5,99.4 336.8,99.4 336.2,99.2 335.8,99.0 335.2,98.8 334.5,98.5 334.1,98.2 333.6,98.0 333.2,97.8 332.7,97.5 332.2,97.2 331.8,97.0 331.2,96.6 330.8,96.3 330.2,96.0 329.8,95.9 329.2,95.8 328.5,95.5 328.0,95.4 327.5,95.2 326.8,95.0 326.2,94.8 325.8,94.6 325.2,94.4 324.8,94.1 324.3,93.8 323.8,93.5 323.4,93.2 323.0,93.0 322.5,92.7 322.0,92.5 321.5,92.2 321.0,91.8 320.6,91.5 320.2,91.2 319.8,90.9 319.2,90.6 318.8,90.2 318.3,90.0 317.8,89.8 317.3,89.5 316.9,89.2 316.5,89.0 316.0,88.7 315.5,88.5 315.0,88.2 314.4,88.0 313.8,87.8 313.2,87.6 312.8,87.5 312.0,87.3 311.5,87.1 310.8,87.0 311.2,86.7 311.9,86.5 312.5,86.3 313.0,86.0 313.5,85.8 314.0,85.5 314.4,85.2 314.8,85.0 315.2,84.6 315.7,84.2 316.0,83.9 316.4,83.5 316.8,83.2 317.2,82.8 317.5,82.4 317.9,82.0 318.2,81.7 318.7,81.2 319.0,81.0 319.5,80.6 320.0,80.3 320.4,80.0 320.8,79.8 321.2,79.4 321.8,79.0 322.1,78.8 322.5,78.4 323.0,78.2 323.5,77.9 324.0,77.6 324.5,77.4 325.0,77.1 325.5,76.9 326.0,76.7 326.5,76.4 327.0,76.2 327.8,76.0 328.2,75.9 328.8,75.7 329.5,75.6 330.2,75.6 331.0,75.5 331.8,75.6 332.5,75.6 333.0,75.5 333.8,75.3 334.2,75.2 335.0,75.1 335.8,75.1 336.5,75.2 337.0,75.5 337.2,75.8 337.6,76.2 337.9,76.8 338.2,77.2 338.5,77.8 338.7,78.2 339.0,78.7 339.2,79.2 339.4,79.8 339.5,80.2 339.7,81.0 339.9,81.5 340.0,82.0 340.2,82.8 340.3,83.2 340.4,84.0 340.5,84.5 340.7,85.2 340.8,85.8 340.8,86.5 340.9,87.2 341.0,88.0 341.0,88.5 341.0,89.2 341.0,90.0 341.0,90.8 341.0,91.5 341.0,92.0 340.9,92.8 340.7,93.2 340.6,94.0 340.5,94.5 340.4,95.2 340.2,95.8 340.0,96.4 339.8,97.0 339.7,97.5 339.4,98.0 339.1,98.5 338.8,98.9 338.3,99.2Z" fill="rgba(0,0,0,0.035)" stroke="rgba(20,20,20,0.62)" stroke-width="0.5"/>
<path d="M303.2,88.3 302.9,88.0 303.0,87.5 303.1,86.8 303.2,86.0 303.7,86.0 304.2,86.2 304.8,86.5 305.2,86.6 305.8,86.8 306.5,87.0 306.3,87.2 305.8,87.4 305.2,87.5 304.6,87.8 304.0,88.0 303.5,88.2Z" fill="rgba(0,0,0,0.035)" stroke="rgba(20,20,20,0.62)" stroke-width="0.5"/>
<path d="M299.5,96.8 299.0,96.5 298.9,96.0 298.8,95.2 298.7,94.8 298.6,94.0 298.5,93.2 298.5,92.5 298.5,91.8 298.5,91.2 298.3,90.5 298.3,89.8 298.3,89.0 298.3,88.2 298.4,87.5 298.5,87.0 298.5,86.2 298.5,85.5 298.6,84.8 298.7,84.0 298.8,83.5 298.9,82.8 299.0,82.2 299.0,81.5 299.0,80.8 299.0,80.0 299.0,79.2 299.2,78.5 299.2,78.0 299.3,77.2 299.4,76.5 299.8,76.2 299.9,76.8 300.0,77.2 300.2,78.0 300.2,78.8 300.2,79.5 300.2,80.2 300.2,81.0 300.2,81.7 300.3,82.2 300.5,83.0 300.5,83.8 300.5,84.5 300.5,85.2 300.5,86.0 300.5,86.8 300.5,87.5 300.5,88.2 300.5,89.0 300.5,89.8 300.3,90.5 300.2,91.0 300.2,91.8 300.2,92.5 300.2,93.2 300.2,94.0 300.1,94.8 300.0,95.3 300.0,96.0 299.8,96.7Z" fill="rgba(0,0,0,0.035)" stroke="rgba(20,20,20,0.62)" stroke-width="0.5"/>
<path d="M337.8,98.3 337.0,98.5 336.3,98.2 335.8,98.0 335.2,97.8 334.8,97.6 334.2,97.3 333.8,97.1 333.2,96.8 332.8,96.5 332.4,96.2 332.0,96.0 331.5,95.7 331.0,95.3 330.5,95.0 330.0,94.8 329.5,94.6 329.0,94.5 328.4,94.2 327.8,94.1 327.2,94.0 326.7,93.8 326.1,93.5 325.7,93.2 325.2,93.0 324.8,92.7 324.2,92.4 323.8,92.1 323.2,91.8 322.8,91.5 322.2,91.3 321.9,91.0 321.5,90.7 321.0,90.3 320.5,90.0 320.1,89.8 319.8,89.5 319.2,89.2 318.8,88.9 318.2,88.7 317.8,88.4 317.2,88.1 316.8,87.8 316.2,87.5 315.8,87.3 315.2,87.1 314.8,86.9 314.8,86.4 315.2,86.1 315.7,85.8 316.0,85.5 316.5,85.1 316.8,84.8 317.2,84.3 317.6,84.0 318.0,83.6 318.3,83.2 318.8,82.8 319.1,82.5 319.5,82.1 320.0,81.8 320.3,81.5 320.8,81.2 321.2,80.8 321.7,80.5 322.0,80.2 322.5,79.9 323.0,79.5 323.4,79.2 323.9,79.0 324.4,78.8 324.9,78.5 325.3,78.2 325.9,78.0 326.4,77.8 326.9,77.5 327.5,77.3 328.0,77.2 328.6,77.0 329.2,76.8 329.8,76.7 330.5,76.7 331.2,76.7 331.8,76.8 332.3,76.8 333.0,76.5 333.5,76.4 334.2,76.2 334.8,76.1 335.5,76.1 336.1,76.2 336.5,76.8 336.8,77.2 337.0,77.6 337.2,78.0 337.6,78.5 337.9,79.0 338.1,79.5 338.3,80.0 338.5,80.7 338.7,81.2 338.8,81.8 339.0,82.4 339.2,83.0 339.3,83.5 339.5,84.2 339.6,84.8 339.7,85.5 339.8,86.0 339.9,86.8 340.0,87.4 340.1,88.0 340.1,88.8 340.1,89.5 340.1,90.2 340.1,91.0 340.1,91.8 340.0,92.4 339.8,93.0 339.7,93.5 339.6,94.2 339.5,94.8 339.3,95.5 339.1,96.0 338.9,96.5 338.7,97.0 338.5,97.5 338.1,98.0 337.8,98.3Z" fill="rgba(0,0,0,0.035)" stroke="rgba(20,20,20,0.62)" stroke-width="0.5"/>
<path d="M336.8,97.5 336.2,97.3 335.8,97.1 335.2,96.9 334.8,96.7 334.2,96.4 333.8,96.1 333.3,95.8 332.9,95.5 332.5,95.2 332.0,94.9 331.5,94.6 331.1,94.2 330.7,94.0 330.2,93.7 329.7,93.5 329.0,93.3 328.5,93.1 328.0,93.0 327.2,92.8 326.8,92.5 326.2,92.3 325.8,92.0 325.4,91.8 325.0,91.5 324.5,91.2 324.0,90.9 323.5,90.6 323.0,90.4 322.5,90.0 322.1,89.8 321.8,89.5 321.2,89.1 320.8,88.8 320.3,88.5 319.9,88.2 319.5,88.0 319.0,87.8 318.5,87.5 318.0,87.2 317.5,86.9 317.0,86.6 317.0,86.2 317.4,85.8 317.8,85.4 318.2,85.0 318.5,84.7 318.9,84.2 319.2,83.9 319.7,83.5 320.0,83.2 320.5,82.8 320.8,82.5 321.2,82.2 321.8,81.9 322.2,81.5 322.6,81.2 323.0,81.0 323.5,80.6 324.0,80.2 324.5,80.0 325.0,79.8 325.4,79.5 325.9,79.2 326.5,79.0 327.0,78.8 327.5,78.5 328.0,78.3 328.5,78.2 329.2,78.0 329.8,77.9 330.5,77.9 331.2,77.9 332.0,77.9 332.5,77.7 333.0,77.5 333.8,77.3 334.2,77.2 335.0,77.1 335.4,77.5 335.8,78.0 336.0,78.4 336.3,78.8 336.6,79.2 336.8,79.8 337.0,80.2 337.2,80.9 337.5,81.5 337.6,82.0 337.8,82.5 338.0,83.1 338.2,83.8 338.3,84.2 338.5,84.9 338.6,85.5 338.8,86.0 338.9,86.8 339.0,87.5 339.0,88.0 339.1,88.8 339.1,89.5 339.1,90.2 339.1,91.0 339.1,91.8 339.0,92.2 338.8,92.9 338.6,93.5 338.5,94.0 338.3,94.8 338.2,95.2 337.9,95.8 337.7,96.2 337.4,96.8 337.2,97.2 336.8,97.5Z" fill="rgba(0,0,0,0.035)" stroke="rgba(20,20,20,0.62)" stroke-width="0.5"/>
<path d="M299.5,95.7 299.2,95.2 299.2,94.5 299.0,93.9 299.0,93.2 299.0,92.5 299.0,91.8 298.9,91.0 298.8,90.4 298.7,89.8 298.7,89.0 298.7,88.2 298.8,87.8 298.9,87.0 299.0,86.2 299.0,85.5 299.0,84.9 299.2,84.2 299.2,83.5 299.3,83.0 299.5,82.2 299.5,81.5 299.5,80.8 299.5,80.0 299.5,79.2 299.8,78.8 299.8,79.5 299.8,80.2 299.8,81.0 299.8,81.8 300.0,82.5 300.0,83.0 300.0,83.8 300.0,84.5 300.0,85.2 300.0,86.0 300.0,86.8 300.0,87.5 300.0,88.2 300.0,89.0 300.0,89.8 300.0,90.2 299.8,91.0 299.8,91.8 299.8,92.5 299.8,93.2 299.8,94.0 299.7,94.5 299.5,95.2Z" fill="rgba(0,0,0,0.035)" stroke="rgba(20,20,20,0.62)" stroke-width="0.5"/>
<path d="M336.0,96.2 335.3,96.0 334.8,95.8 334.4,95.5 334.0,95.2 333.5,94.9 333.0,94.6 332.5,94.2 332.2,94.0 331.8,93.7 331.2,93.3 330.9,93.0 330.5,92.7 330.0,92.5 329.5,92.2 328.8,92.0 328.2,91.9 327.7,91.8 327.1,91.5 326.7,91.2 326.2,91.0 325.8,90.7 325.2,90.4 324.8,90.1 324.2,89.8 323.8,89.5 323.3,89.2 322.9,89.0 322.5,88.7 322.0,88.3 321.5,88.0 321.2,87.8 320.8,87.5 320.2,87.2 319.8,86.9 319.2,86.7 318.8,86.4 318.8,86.0 319.2,85.5 319.5,85.2 320.0,84.8 320.2,84.5 320.7,84.0 321.0,83.8 321.5,83.4 322.0,83.0 322.4,82.8 322.8,82.5 323.2,82.1 323.8,81.8 324.1,81.5 324.5,81.2 325.0,81.0 325.5,80.7 326.0,80.4 326.5,80.2 327.0,80.0 327.5,79.7 328.0,79.5 328.8,79.3 329.2,79.2 329.8,79.0 330.5,79.0 331.2,79.0 331.5,79.0 332.2,78.8 332.8,78.6 333.2,78.4 333.8,78.2 334.3,78.2 334.6,78.8 335.0,79.2 335.2,79.7 335.4,80.2 335.6,80.8 335.8,81.2 336.0,81.8 336.2,82.4 336.5,83.0 336.7,83.5 336.8,84.0 337.0,84.5 337.2,85.2 337.4,85.8 337.5,86.3 337.6,87.0 337.8,87.7 337.8,88.2 337.9,89.0 337.9,89.8 337.9,90.5 337.9,91.2 337.8,92.0 337.6,92.5 337.4,93.0 337.2,93.5 337.0,94.2 336.9,94.8 336.7,95.2 336.3,95.8 336.0,96.2Z" fill="rgba(0,0,0,0.035)" stroke="rgba(20,20,20,0.62)" stroke-width="0.5"/>
<path d="M299.5,90.3 299.2,90.0 299.2,89.2 299.2,88.5 299.2,87.8 299.4,87.2 299.4,86.5 299.4,85.8 299.5,85.0 299.6,85.2 299.6,86.0 299.6,86.8 299.6,87.5 299.6,88.2 299.6,89.0 299.6,89.8 299.5,90.3Z" fill="rgba(0,0,0,0.035)" stroke="rgba(20,20,20,0.62)" stroke-width="0.5"/>
<path d="M334.8,94.7 334.2,94.4 333.8,94.1 333.3,93.8 332.9,93.5 332.5,93.2 332.0,92.8 331.7,92.5 331.2,92.2 330.8,91.8 330.2,91.5 329.8,91.2 329.2,91.1 328.8,90.9 328.1,90.8 327.6,90.5 327.1,90.2 326.7,90.0 326.2,89.7 325.8,89.4 325.2,89.1 324.8,88.8 324.2,88.6 323.8,88.3 323.4,88.0 323.0,87.7 322.5,87.3 322.0,87.0 321.6,86.8 321.2,86.5 320.8,86.2 320.5,85.8 320.8,85.5 321.2,85.0 321.5,84.8 322.0,84.4 322.5,84.0 322.9,83.8 323.2,83.5 323.8,83.1 324.2,82.8 324.6,82.5 325.0,82.2 325.5,81.9 326.0,81.7 326.5,81.4 327.0,81.1 327.5,80.9 328.0,80.7 328.5,80.5 329.2,80.3 329.8,80.1 330.5,80.0 331.2,80.1 331.8,79.9 332.3,79.8 332.9,79.5 333.4,79.5 333.7,80.0 333.8,80.5 334.0,81.1 334.2,81.8 334.4,82.2 334.5,82.8 334.8,83.3 335.0,84.0 335.2,84.5 335.3,85.0 335.5,85.5 335.7,86.2 335.8,86.8 336.0,87.4 336.1,88.0 336.2,88.8 336.2,89.5 336.3,90.0 336.2,90.5 336.2,91.2 336.0,92.0 335.8,92.5 335.5,93.0 335.3,93.5 335.1,94.0 335.0,94.5Z" fill="rgba(0,0,0,0.035)" stroke="rgba(20,20,20,0.62)" stroke-width="0.5"/>
<path d="M333.0,92.5 332.6,92.2 332.2,91.9 331.8,91.5 331.4,91.2 331.0,90.9 330.5,90.6 330.0,90.3 329.5,90.0 329.0,89.9 328.5,89.8 327.9,89.5 327.5,89.2 327.0,88.9 326.5,88.7 326.0,88.3 325.5,88.1 325.0,87.8 324.5,87.5 324.1,87.2 323.8,87.0 323.2,86.6 322.8,86.3 322.4,86.0 322.2,85.5 322.6,85.2 323.0,84.9 323.5,84.6 324.0,84.2 324.3,84.0 324.8,83.7 325.2,83.3 325.7,83.0 326.2,82.8 326.7,82.5 327.1,82.2 327.7,82.0 328.2,81.8 328.7,81.5 329.2,81.4 329.8,81.2 330.5,81.1 331.2,81.1 331.8,80.9 332.2,81.0 332.4,81.8 332.5,82.2 332.7,83.0 332.8,83.5 332.9,84.2 333.1,84.8 333.2,85.5 333.3,86.0 333.5,86.8 333.6,87.2 333.7,88.0 333.8,88.5 333.8,89.2 333.9,90.0 333.8,90.8 333.8,91.5 333.5,92.0 333.2,92.5Z" fill="rgba(0,0,0,0.035)" stroke="rgba(20,20,20,0.62)" stroke-width="0.5"/>
<path d="M331.2,90.0 330.8,89.8 330.4,89.5 330.0,89.2 329.5,89.0 328.8,88.8 328.2,88.5 327.8,88.2 327.4,88.0 327.0,87.8 326.5,87.4 326.0,87.2 325.5,86.9 325.0,86.6 324.5,86.2 324.2,86.0 324.0,85.5 324.3,85.2 324.8,85.0 325.2,84.6 325.7,84.2 326.0,84.0 326.5,83.7 327.0,83.5 327.5,83.2 328.0,83.0 328.5,82.7 329.0,82.5 329.8,82.3 330.2,82.2 330.8,82.4 331.0,83.0 331.0,83.5 331.1,84.2 331.2,85.0 331.2,85.6 331.3,86.2 331.4,87.0 331.4,87.8 331.5,88.5 331.5,89.1 331.5,89.8 331.2,90.0Z" fill="rgba(0,0,0,0.035)" stroke="rgba(20,20,20,0.62)" stroke-width="0.5"/>
<path d="M329.2,87.8 328.8,87.6 328.2,87.3 327.8,87.0 327.3,86.8 326.9,86.5 326.4,86.2 326.0,86.0 325.7,85.5 326.0,85.2 326.5,84.9 327.0,84.6 327.5,84.4 328.0,84.1 328.5,83.9 329.0,83.6 329.5,83.4 329.6,84.0 329.6,84.8 329.7,85.5 329.7,86.2 329.7,87.0 329.5,87.7Z" fill="rgba(0,0,0,0.035)" stroke="rgba(20,20,20,0.62)" stroke-width="0.5"/>
<path d="M328.2,86.1 327.8,85.9 327.8,85.4 328.2,85.1 328.4,85.8Z" fill="rgba(0,0,0,0.035)" stroke="rgba(20,20,20,0.62)" stroke-width="0.5"/>
<ellipse cx="335.4" cy="91.5" rx="1.5" ry="2.4" fill="#fff" opacity="0.9"/>
<path d="M439.0,104.7 438.2,104.7 437.5,104.7 436.8,104.7 436.1,104.5 435.5,104.4 435.0,104.2 434.2,104.2 433.8,104.0 433.0,103.9 432.5,103.7 432.0,103.5 431.3,103.2 430.8,103.2 430.1,103.0 429.6,102.8 429.0,102.7 428.5,102.4 428.0,102.2 427.5,102.0 426.8,101.8 426.2,101.7 425.8,101.4 425.2,101.2 424.8,100.9 424.3,100.5 423.8,100.2 423.5,100.0 423.0,99.7 422.5,99.5 422.0,99.2 421.5,99.0 421.0,98.7 420.3,98.5 419.8,98.2 419.3,98.0 418.8,97.8 418.3,97.5 417.8,97.2 417.5,97.0 417.0,96.7 416.5,96.5 415.8,96.2 415.3,96.0 414.8,95.8 414.5,95.5 414.0,95.2 413.3,95.0 412.8,94.9 412.2,94.7 411.8,94.5 411.0,94.4 410.2,94.5 409.8,94.7 409.4,95.0 409.0,95.4 408.7,95.8 408.5,96.2 408.0,96.7 407.7,97.0 407.2,97.5 406.8,97.7 406.4,98.0 405.9,98.2 405.4,98.5 404.9,98.8 404.2,99.0 403.8,99.2 403.2,99.2 402.5,99.4 401.8,99.4 401.0,99.4 400.5,99.2 399.8,99.2 399.3,98.8 399.0,98.5 398.5,98.2 398.1,97.8 397.8,97.2 397.8,96.7 397.5,96.2 397.2,95.7 397.0,95.0 396.8,94.5 396.8,93.9 396.6,93.2 396.6,92.5 396.5,91.9 396.3,91.2 396.1,90.8 396.1,90.0 396.1,89.2 396.1,88.5 396.1,87.8 396.1,87.0 396.1,86.2 396.1,85.5 396.1,84.8 396.1,84.0 396.1,83.2 396.1,82.5 396.1,81.8 396.1,81.0 396.3,80.5 396.3,79.8 396.5,79.1 396.6,78.5 396.6,77.8 396.6,77.0 396.6,76.2 396.8,75.8 396.8,75.0 397.0,74.3 397.1,73.8 397.2,73.1 397.3,72.5 397.6,72.0 397.8,71.3 397.8,70.8 397.8,70.0 398.1,69.5 398.3,69.0 398.6,68.5 398.8,68.0 399.2,67.6 399.6,67.2 400.2,67.0 400.8,66.8 401.5,66.8 402.0,67.0 402.8,67.1 403.2,67.3 404.0,67.3 404.5,67.6 405.0,67.8 405.5,68.0 406.0,68.3 406.5,68.5 407.0,68.8 407.5,69.1 407.9,69.5 408.2,69.8 408.7,70.2 409.0,70.6 409.5,70.8 410.0,71.1 410.8,71.0 411.1,70.8 411.5,70.3 412.0,70.1 412.3,69.8 412.8,69.3 413.2,69.1 413.6,68.8 414.0,68.3 414.5,68.0 415.0,67.8 415.5,67.6 416.0,67.3 416.5,67.1 417.0,66.8 417.8,66.8 418.2,66.6 419.0,66.6 419.5,66.3 420.2,66.3 420.8,66.1 421.5,66.1 422.0,65.8 422.8,65.8 423.2,65.6 424.0,65.6 424.8,65.6 425.5,65.5 426.0,65.3 426.8,65.3 427.2,65.1 428.0,65.0 428.5,64.8 429.2,64.8 429.8,64.6 430.5,64.6 431.2,64.6 431.8,64.5 432.5,64.3 433.2,64.3 434.0,64.3 434.8,64.3 435.5,64.3 436.2,64.3 436.8,64.5 437.4,64.8 438.0,64.8 438.5,65.1 439.0,65.3 439.5,65.6 440.2,65.8 440.5,66.0 441.0,66.3 441.5,66.6 441.9,67.0 442.2,67.5 442.5,67.8 443.0,68.1 443.2,68.6 443.5,69.1 443.8,69.6 444.0,70.1 444.2,70.6 444.5,71.1 444.8,71.6 445.0,72.1 445.2,72.6 445.5,73.2 445.7,73.8 445.9,74.2 446.2,74.8 446.2,75.5 446.4,76.0 446.4,76.8 446.4,77.5 446.4,78.2 446.5,78.8 446.7,79.5 446.7,80.2 446.9,80.8 446.9,81.5 446.9,82.2 446.9,83.0 446.9,83.8 446.9,84.5 446.9,85.2 446.9,86.0 447.0,86.8 447.2,87.2 447.2,88.0 446.9,88.5 446.9,89.2 446.9,90.0 446.9,90.8 446.9,91.5 446.8,92.2 446.7,92.8 446.7,93.5 446.7,94.2 446.4,94.8 446.4,95.5 446.2,96.0 446.2,96.8 446.2,97.5 445.9,98.0 445.7,98.5 445.4,99.0 445.2,99.5 445.0,100.2 444.9,100.8 444.7,101.2 444.2,101.7 444.0,102.0 443.7,102.5 443.2,102.9 442.8,103.2 442.4,103.5 442.0,103.9 441.4,104.0 440.8,104.2 440.2,104.4 439.5,104.4 439.0,104.7Z" fill="none" stroke="#6a6a6a" stroke-width="0.45"/>
<path d="M438.8,103.0 438.0,103.1 437.3,103.0 436.8,102.9 436.0,102.9 435.3,102.8 434.8,102.6 434.2,102.4 433.5,102.3 433.0,102.1 432.5,101.8 432.0,101.6 431.5,101.4 430.9,101.2 430.5,101.0 430.0,100.7 429.5,100.5 429.0,100.1 428.5,99.9 428.0,99.7 427.4,99.5 426.8,99.3 426.2,99.0 425.8,98.8 425.5,98.5 425.0,98.2 424.5,97.9 424.0,97.6 423.5,97.4 423.0,97.1 422.5,96.9 422.0,96.6 421.5,96.5 421.0,96.2 420.5,96.0 420.0,95.8 419.5,95.5 419.0,95.2 418.5,94.9 418.0,94.6 417.5,94.4 417.0,94.2 416.5,94.0 416.0,93.7 415.5,93.4 415.0,93.1 414.5,93.0 413.9,92.8 413.2,92.5 412.8,92.4 412.2,92.2 411.5,92.2 410.8,92.2 410.0,92.2 409.5,92.3 409.0,92.5 408.5,92.8 408.0,93.2 407.7,93.5 407.2,93.9 407.0,94.2 406.6,94.8 406.3,95.2 406.0,95.7 405.8,96.0 405.5,96.5 405.0,97.0 404.5,97.2 404.0,97.4 403.5,97.5 403.0,97.8 402.2,97.9 401.5,98.0 401.0,97.8 400.5,97.5 400.0,97.2 399.6,96.8 399.4,96.2 399.1,95.8 398.9,95.2 398.7,94.8 398.6,94.0 398.4,93.5 398.2,92.8 398.1,92.2 398.0,91.8 397.9,91.0 397.9,90.2 397.7,89.8 397.6,89.0 397.6,88.2 397.6,87.5 397.6,86.8 397.6,86.0 397.6,85.2 397.6,84.5 397.6,83.8 397.7,83.0 397.9,82.5 397.9,81.8 397.9,81.0 397.9,80.2 397.9,79.5 397.9,78.8 398.1,78.2 398.1,77.5 398.1,76.8 398.1,76.0 398.2,75.2 398.4,74.8 398.4,74.0 398.5,73.5 398.6,72.8 398.7,72.0 398.9,71.5 399.0,71.0 399.2,70.2 399.4,69.8 399.6,69.2 400.0,69.0 400.8,68.9 401.5,68.9 402.0,68.7 402.8,68.6 403.5,68.7 404.0,68.9 404.5,69.1 405.2,69.2 405.8,69.4 406.0,69.8 406.3,70.2 406.5,71.0 406.7,71.5 407.0,71.8 407.4,72.2 407.8,72.5 408.2,72.9 408.8,73.1 409.2,73.3 410.0,73.3 410.8,73.3 411.4,73.2 412.0,73.0 412.3,72.8 412.8,72.4 413.2,72.0 413.6,71.8 414.0,71.4 414.5,71.0 414.8,70.8 415.2,70.3 415.7,70.0 416.2,69.8 416.8,69.6 417.2,69.4 417.8,69.1 418.5,69.0 419.0,68.9 419.8,68.8 420.2,68.6 420.9,68.5 421.5,68.3 422.2,68.3 422.8,68.1 423.5,68.0 424.0,67.9 424.8,67.8 425.5,67.8 426.1,67.8 426.8,67.6 427.4,67.5 428.0,67.3 428.6,67.2 429.2,67.1 429.9,67.0 430.5,66.8 431.2,66.8 432.0,66.8 432.5,66.7 433.2,66.6 434.0,66.6 434.8,66.6 435.5,66.6 436.1,66.8 436.8,67.0 437.5,67.0 438.0,67.2 438.5,67.3 439.0,67.5 439.5,67.9 440.0,68.1 440.5,68.4 440.9,68.8 441.2,69.1 441.5,69.5 441.9,70.0 442.2,70.5 442.5,70.9 442.8,71.2 443.1,71.8 443.4,72.2 443.6,72.8 443.8,73.2 444.0,73.8 444.2,74.5 444.5,75.0 444.6,75.5 444.8,76.0 444.9,76.8 445.0,77.3 445.2,78.0 445.2,78.8 445.3,79.2 445.3,80.0 445.5,80.6 445.6,81.2 445.6,82.0 445.6,82.8 445.6,83.5 445.8,84.0 445.8,84.8 445.8,85.5 445.8,86.2 445.8,87.0 445.8,87.8 445.8,88.5 445.8,89.2 445.6,89.8 445.6,90.5 445.5,91.2 445.5,91.8 445.5,92.5 445.2,93.2 445.2,93.8 445.0,94.3 444.9,95.0 444.8,95.8 444.6,96.2 444.5,96.9 444.3,97.5 444.1,98.0 443.8,98.5 443.6,99.0 443.3,99.5 443.1,100.0 442.8,100.5 442.5,100.8 442.1,101.2 441.8,101.6 441.2,101.9 440.8,102.2 440.4,102.5 439.9,102.8 439.2,102.9 438.8,103.0Z" fill="rgba(0,0,0,0.035)" stroke="rgba(20,20,20,0.62)" stroke-width="0.5"/>
<path d="M439.0,101.5 438.2,101.7 437.5,101.6 436.8,101.6 436.0,101.5 435.5,101.4 434.9,101.2 434.2,101.0 433.8,100.9 433.2,100.7 432.8,100.4 432.2,100.2 431.6,100.0 431.1,99.8 430.6,99.5 430.1,99.2 429.8,99.0 429.2,98.7 428.8,98.4 428.2,98.1 427.8,97.9 427.2,97.7 426.8,97.4 426.2,97.0 425.8,96.8 425.4,96.5 424.9,96.2 424.4,96.0 423.9,95.8 423.4,95.5 422.9,95.2 422.4,95.0 421.8,94.8 421.2,94.5 420.8,94.3 420.2,94.0 419.8,93.8 419.4,93.5 418.9,93.2 418.4,93.0 417.9,92.8 417.2,92.5 416.8,92.2 416.4,92.0 415.9,91.8 415.4,91.5 414.8,91.3 414.2,91.1 413.8,91.0 413.1,90.8 412.5,90.6 411.8,90.5 411.0,90.5 410.2,90.5 409.5,90.6 408.9,90.8 408.3,91.0 407.8,91.2 407.4,91.5 407.0,91.9 406.6,92.2 406.2,92.6 406.0,93.0 405.7,93.5 405.7,94.2 405.7,95.0 405.3,95.5 405.0,96.0 404.8,96.3 404.2,96.7 403.7,96.8 403.1,97.0 402.5,97.2 401.8,97.2 401.4,97.2 400.9,97.0 400.4,96.8 400.1,96.2 399.8,95.8 399.6,95.2 399.4,94.8 399.3,94.0 399.1,93.5 399.0,93.0 398.8,92.2 398.7,91.8 398.5,91.0 398.5,90.2 398.3,89.8 398.3,89.0 398.3,88.2 398.3,87.5 398.3,86.8 398.3,86.0 398.3,85.2 398.3,84.5 398.3,83.8 398.4,83.0 398.5,82.5 398.5,81.8 398.5,81.0 398.5,80.2 398.5,79.5 398.6,78.8 398.8,78.2 398.8,77.5 398.8,76.8 398.8,76.0 398.8,75.2 399.0,74.8 399.0,74.0 399.2,73.3 399.3,72.8 399.4,72.0 399.5,71.5 399.8,70.8 399.8,70.2 400.1,69.8 400.8,69.5 401.5,69.5 402.0,69.4 402.8,69.3 403.5,69.3 404.0,69.6 404.5,69.8 405.2,70.0 405.5,70.2 405.8,70.8 406.0,71.5 406.0,72.2 406.0,73.0 406.2,73.4 406.6,73.8 407.0,74.1 407.5,74.3 408.0,74.6 408.5,74.8 409.2,75.0 410.0,75.0 410.8,75.0 411.5,74.9 412.1,74.8 412.7,74.5 413.1,74.2 413.5,73.9 414.0,73.6 414.4,73.2 414.8,72.9 415.2,72.6 415.6,72.2 416.0,71.9 416.5,71.5 417.0,71.3 417.5,71.1 418.0,70.8 418.5,70.7 419.2,70.5 419.8,70.5 420.5,70.3 421.0,70.2 421.8,70.0 422.2,70.0 423.0,69.8 423.5,69.7 424.2,69.5 424.8,69.5 425.5,69.5 426.2,69.4 427.0,69.2 427.5,69.2 428.2,69.0 428.8,68.9 429.5,68.8 430.0,68.7 430.8,68.5 431.2,68.5 432.0,68.5 432.8,68.3 433.2,68.2 434.0,68.2 434.8,68.2 435.5,68.2 436.0,68.3 436.8,68.4 437.5,68.5 438.0,68.6 438.5,68.9 439.0,69.2 439.5,69.4 440.0,69.8 440.2,70.1 440.6,70.5 440.9,71.0 441.2,71.4 441.5,71.8 441.9,72.2 442.2,72.8 442.4,73.2 442.6,73.8 442.8,74.2 443.0,74.9 443.2,75.4 443.4,76.0 443.6,76.5 443.7,77.2 443.9,77.8 444.0,78.4 444.1,79.0 444.1,79.8 444.2,80.5 444.4,81.0 444.4,81.8 444.5,82.5 444.5,83.2 444.5,83.8 444.7,84.5 444.7,85.2 444.7,86.0 444.7,86.8 444.7,87.5 444.7,88.2 444.6,89.0 444.5,89.5 444.4,90.2 444.4,91.0 444.3,91.8 444.2,92.3 444.1,93.0 444.0,93.5 443.8,94.2 443.7,94.8 443.6,95.5 443.4,96.0 443.2,96.6 443.0,97.2 442.8,97.8 442.5,98.2 442.2,98.7 442.0,99.2 441.8,99.7 441.5,100.0 441.0,100.5 440.6,100.8 440.2,101.0 439.8,101.3 439.1,101.5Z" fill="rgba(0,0,0,0.035)" stroke="rgba(20,20,20,0.62)" stroke-width="0.5"/>
<path d="M439.2,100.3 438.5,100.4 437.8,100.5 437.0,100.4 436.2,100.4 435.8,100.2 435.0,100.0 434.5,99.9 434.0,99.8 433.5,99.5 432.9,99.2 432.4,99.0 431.8,98.8 431.2,98.5 430.8,98.2 430.4,98.0 430.0,97.8 429.5,97.5 429.0,97.1 428.5,96.8 428.1,96.5 427.7,96.2 427.2,96.0 426.8,95.7 426.2,95.3 425.8,95.0 425.2,94.8 424.8,94.5 424.2,94.3 423.8,94.0 423.2,93.8 422.8,93.6 422.2,93.4 421.8,93.1 421.2,92.9 420.8,92.6 420.2,92.3 419.8,92.0 419.2,91.8 418.8,91.5 418.2,91.3 417.8,91.1 417.2,90.8 416.8,90.5 416.2,90.3 415.8,90.1 415.2,89.9 414.8,89.7 414.0,89.5 413.5,89.3 413.0,89.2 412.2,89.1 411.5,89.0 410.8,89.0 410.0,89.0 409.2,89.1 408.7,89.2 408.1,89.5 407.5,89.8 407.1,90.0 406.7,90.2 406.2,90.6 405.8,91.0 405.6,91.5 405.5,92.0 405.4,92.8 405.2,93.2 405.2,94.0 405.1,94.8 404.8,95.2 404.5,95.8 404.2,96.0 403.5,96.2 403.0,96.4 402.5,96.6 401.8,96.7 401.2,96.5 400.7,96.2 400.5,95.8 400.2,95.2 400.0,94.6 399.8,94.0 399.7,93.5 399.5,92.8 399.4,92.2 399.2,91.6 399.1,91.0 399.1,90.2 399.0,89.8 398.8,89.0 398.8,88.2 398.8,87.5 398.8,86.8 398.8,86.0 398.8,85.2 398.8,84.5 398.8,83.8 399.0,83.1 399.1,82.5 399.1,81.8 399.1,81.0 399.1,80.2 399.1,79.5 399.2,78.8 399.3,78.2 399.3,77.5 399.3,76.8 399.3,76.0 399.5,75.2 399.6,74.8 399.6,74.0 399.8,73.5 399.8,72.8 400.0,72.1 400.1,71.5 400.3,71.0 400.5,70.2 401.0,70.1 401.8,70.1 402.2,70.0 403.0,69.8 403.6,70.0 404.1,70.2 404.8,70.4 405.1,70.8 405.3,71.2 405.4,72.0 405.4,72.8 405.5,73.4 405.7,74.0 405.7,74.8 406.0,75.1 406.5,75.5 407.0,75.7 407.5,76.0 408.0,76.2 408.5,76.3 409.2,76.4 410.0,76.5 410.8,76.5 411.5,76.4 412.2,76.3 412.8,76.1 413.2,75.9 413.8,75.6 414.2,75.2 414.5,75.0 415.0,74.6 415.5,74.2 415.8,74.0 416.2,73.6 416.7,73.2 417.0,73.0 417.5,72.7 418.0,72.5 418.5,72.2 419.2,72.1 419.8,71.9 420.5,71.8 421.0,71.7 421.8,71.5 422.2,71.4 423.0,71.3 423.5,71.2 424.2,71.1 424.8,71.0 425.5,71.0 426.2,70.9 427.0,70.8 427.5,70.7 428.2,70.5 428.8,70.4 429.5,70.3 430.0,70.2 430.6,70.0 431.2,69.9 432.0,69.8 432.5,69.6 433.0,69.5 433.8,69.5 434.5,69.5 435.2,69.5 435.8,69.5 436.5,69.6 437.2,69.7 437.8,69.8 438.2,70.1 438.8,70.4 439.2,70.7 439.5,71.1 439.9,71.5 440.2,72.0 440.5,72.3 440.8,72.8 441.1,73.2 441.4,73.8 441.6,74.2 441.8,74.8 442.0,75.3 442.2,75.8 442.5,76.5 442.6,77.0 442.8,77.7 442.9,78.2 443.0,78.9 443.1,79.5 443.1,80.2 443.2,80.8 443.4,81.5 443.4,82.2 443.5,83.0 443.5,83.5 443.6,84.2 443.7,85.0 443.7,85.8 443.7,86.5 443.7,87.2 443.7,88.0 443.6,88.8 443.5,89.2 443.4,90.0 443.4,90.8 443.3,91.5 443.2,92.1 443.1,92.8 443.0,93.2 442.8,94.0 442.7,94.5 442.6,95.2 442.4,95.8 442.2,96.2 442.0,96.9 441.8,97.3 441.5,97.8 441.2,98.2 441.0,98.8 440.6,99.2 440.2,99.6 439.8,99.9 439.3,100.2Z" fill="rgba(0,0,0,0.035)" stroke="rgba(20,20,20,0.62)" stroke-width="0.5"/>
<path d="M438.8,99.3 438.0,99.4 437.2,99.3 436.5,99.3 436.0,99.2 435.3,99.0 434.8,98.9 434.2,98.7 433.8,98.5 433.2,98.2 432.7,98.0 432.1,97.8 431.6,97.5 431.2,97.2 430.8,97.0 430.2,96.7 429.8,96.4 429.3,96.0 428.9,95.8 428.5,95.4 428.0,95.1 427.5,94.8 427.1,94.5 426.8,94.2 426.2,93.9 425.8,93.5 425.2,93.3 424.8,93.0 424.2,92.8 423.8,92.5 423.2,92.3 422.8,92.1 422.2,91.9 421.8,91.6 421.2,91.3 420.8,91.0 420.2,90.8 419.8,90.5 419.2,90.3 418.8,90.1 418.2,89.8 417.8,89.5 417.2,89.3 416.8,89.0 416.2,88.8 415.8,88.7 415.2,88.5 414.5,88.2 414.0,88.1 413.5,87.9 412.8,87.8 412.2,87.7 411.5,87.7 410.8,87.7 410.0,87.7 409.3,87.8 408.8,87.9 408.2,88.0 407.5,88.2 407.0,88.5 406.5,88.8 406.1,89.0 405.7,89.2 405.2,89.7 405.1,90.2 405.1,91.0 405.0,91.7 404.9,92.2 404.8,93.0 404.6,93.5 404.6,94.2 404.5,94.8 404.2,95.2 403.8,95.6 403.2,95.8 402.7,96.0 402.0,96.1 401.4,96.0 401.0,95.6 400.8,95.2 400.5,94.5 400.4,94.0 400.2,93.5 400.1,92.8 399.9,92.2 399.8,91.5 399.6,91.0 399.6,90.2 399.5,89.7 399.4,89.0 399.4,88.2 399.4,87.5 399.4,86.8 399.4,86.0 399.4,85.2 399.4,84.5 399.4,83.8 399.5,83.2 399.6,82.5 399.6,81.8 399.6,81.0 399.6,80.2 399.6,79.5 399.8,78.8 399.9,78.2 399.9,77.5 399.9,76.8 399.9,76.0 400.0,75.3 400.1,74.8 400.2,74.0 400.3,73.5 400.4,72.8 400.5,72.2 400.7,71.5 400.8,71.0 401.2,70.6 402.0,70.6 402.5,70.4 403.2,70.4 403.8,70.7 404.2,70.8 404.7,71.2 404.9,71.8 404.9,72.5 404.9,73.2 405.1,73.8 405.1,74.5 405.1,75.2 405.2,76.0 405.5,76.4 406.0,76.7 406.5,77.0 407.0,77.2 407.5,77.4 408.0,77.6 408.8,77.7 409.2,77.8 410.0,77.8 410.8,77.8 411.5,77.8 412.0,77.7 412.8,77.5 413.2,77.3 413.8,77.1 414.2,76.8 414.8,76.5 415.1,76.2 415.5,75.9 416.0,75.6 416.4,75.2 416.8,74.9 417.2,74.6 417.6,74.2 418.0,73.9 418.5,73.7 419.0,73.5 419.8,73.3 420.2,73.2 421.0,73.1 421.5,73.0 422.2,72.8 422.8,72.7 423.5,72.6 424.0,72.5 424.8,72.3 425.5,72.3 426.2,72.3 426.8,72.2 427.5,72.0 428.0,71.9 428.8,71.8 429.2,71.7 429.9,71.5 430.5,71.3 431.0,71.1 431.6,71.0 432.2,70.9 432.8,70.7 433.5,70.6 434.2,70.6 435.0,70.6 435.8,70.7 436.5,70.7 437.0,70.8 437.5,71.0 438.0,71.2 438.5,71.6 438.9,72.0 439.2,72.5 439.5,72.8 439.9,73.2 440.2,73.8 440.5,74.2 440.7,74.8 440.9,75.2 441.1,75.8 441.3,76.2 441.5,76.8 441.7,77.5 441.8,78.0 442.0,78.6 442.1,79.2 442.2,80.0 442.2,80.6 442.4,81.2 442.5,81.9 442.5,82.5 442.6,83.2 442.6,84.0 442.8,84.6 442.8,85.2 442.8,86.0 442.8,86.8 442.8,87.5 442.8,88.2 442.7,88.8 442.5,89.5 442.5,90.1 442.5,90.8 442.4,91.5 442.2,92.2 442.1,92.8 442.0,93.2 441.8,94.0 441.7,94.5 441.5,95.2 441.3,95.8 441.2,96.2 440.9,96.8 440.6,97.2 440.3,97.8 440.1,98.2 439.8,98.6 439.3,99.0 438.8,99.2Z" fill="rgba(0,0,0,0.035)" stroke="rgba(20,20,20,0.62)" stroke-width="0.5"/>
<path d="M438.5,98.3 437.8,98.4 437.0,98.3 436.3,98.2 435.8,98.1 435.2,98.0 434.5,97.8 434.0,97.5 433.5,97.3 433.0,97.0 432.5,96.8 432.0,96.6 431.5,96.3 431.1,96.0 430.7,95.8 430.2,95.5 429.8,95.1 429.3,94.8 429.0,94.5 428.5,94.2 428.0,93.9 427.5,93.5 427.2,93.2 426.8,92.9 426.2,92.5 425.9,92.2 425.5,92.0 425.0,91.7 424.5,91.5 424.0,91.2 423.4,91.0 422.8,90.8 422.3,90.5 422.0,90.2 421.5,90.0 421.0,89.7 420.5,89.5 420.0,89.2 419.5,89.0 419.0,88.8 418.5,88.5 418.0,88.2 417.5,88.0 417.0,87.7 416.3,87.5 415.8,87.3 415.2,87.1 414.8,87.0 414.1,86.8 413.5,86.6 413.0,86.5 412.2,86.4 411.5,86.4 410.8,86.4 410.0,86.4 409.2,86.5 408.8,86.5 408.0,86.7 407.5,86.9 407.0,87.1 406.5,87.3 406.0,87.6 405.5,87.9 405.0,88.2 404.7,88.5 404.6,89.2 404.6,90.0 404.6,90.8 404.6,91.5 404.4,92.0 404.3,92.8 404.2,93.2 404.1,94.0 404.0,94.6 403.8,95.0 403.2,95.2 402.5,95.5 402.0,95.6 401.5,95.5 401.2,95.0 401.0,94.4 400.8,93.8 400.7,93.2 400.5,92.5 400.4,92.0 400.2,91.4 400.1,90.8 400.1,90.0 399.9,89.5 399.9,88.8 399.9,88.0 399.9,87.2 399.9,86.5 399.9,85.8 399.9,85.0 399.9,84.2 399.9,83.5 400.1,83.0 400.1,82.2 400.1,81.5 400.1,80.8 400.1,80.0 400.1,79.2 400.3,78.8 400.4,78.0 400.4,77.2 400.4,76.5 400.4,75.8 400.5,75.2 400.6,74.5 400.8,73.8 400.8,73.2 400.9,72.5 401.1,72.0 401.2,71.3 401.8,71.1 402.3,71.0 403.0,70.9 403.5,71.1 404.0,71.3 404.4,71.8 404.4,72.5 404.4,73.2 404.6,73.8 404.6,74.5 404.6,75.2 404.6,76.0 404.6,76.8 404.8,77.4 405.2,77.8 405.7,78.0 406.2,78.2 406.7,78.5 407.2,78.7 407.8,78.8 408.5,79.0 409.0,79.1 409.8,79.1 410.5,79.1 411.2,79.1 412.0,79.0 412.5,78.9 413.1,78.8 413.8,78.5 414.2,78.3 414.8,78.0 415.2,77.8 415.6,77.5 416.0,77.2 416.5,76.8 416.9,76.5 417.2,76.2 417.8,75.8 418.1,75.5 418.5,75.2 419.0,74.9 419.5,74.7 420.2,74.5 420.8,74.5 421.5,74.3 422.0,74.1 422.8,74.0 423.2,74.0 424.0,73.8 424.5,73.7 425.2,73.6 426.0,73.6 426.7,73.5 427.2,73.4 428.0,73.2 428.5,73.1 429.0,73.0 429.6,72.8 430.2,72.5 430.8,72.3 431.2,72.2 432.0,72.0 432.5,71.9 433.0,71.7 433.8,71.7 434.5,71.6 435.2,71.7 436.0,71.7 436.6,71.8 437.2,72.0 437.7,72.2 438.0,72.6 438.4,73.0 438.8,73.4 439.0,73.8 439.4,74.2 439.6,74.8 439.8,75.2 440.1,75.8 440.3,76.2 440.5,76.8 440.7,77.5 440.9,78.0 441.0,78.5 441.2,79.2 441.2,79.9 441.3,80.5 441.5,81.2 441.6,81.8 441.7,82.5 441.7,83.2 441.8,83.8 441.8,84.5 442.0,85.2 442.0,86.0 442.0,86.8 441.9,87.5 441.9,88.2 441.8,89.0 441.7,89.5 441.6,90.2 441.5,91.0 441.5,91.5 441.3,92.2 441.2,92.8 441.0,93.4 440.8,94.0 440.7,94.5 440.5,95.2 440.3,95.8 440.1,96.2 439.8,96.8 439.5,97.2 439.2,97.6 439.0,98.0 438.5,98.3Z" fill="rgba(0,0,0,0.035)" stroke="rgba(20,20,20,0.62)" stroke-width="0.5"/>
<path d="M402.5,95.0 401.8,95.0 401.5,94.5 401.4,94.0 401.2,93.5 401.0,92.8 400.9,92.2 400.8,91.5 400.6,91.0 400.6,90.2 400.5,89.8 400.3,89.0 400.3,88.2 400.3,87.5 400.3,86.8 400.3,86.0 400.3,85.2 400.3,84.5 400.4,83.8 400.5,83.2 400.6,82.5 400.6,81.8 400.6,81.0 400.6,80.2 400.6,79.5 400.7,78.8 400.8,78.2 400.8,77.5 400.8,76.8 400.8,76.0 401.0,75.2 401.1,74.8 401.2,74.0 401.3,73.5 401.4,72.8 401.5,72.2 401.8,71.6 402.2,71.5 403.0,71.4 403.5,71.6 403.9,72.0 403.9,72.8 404.0,73.5 404.1,74.0 404.2,74.8 404.2,75.5 404.2,76.2 404.2,77.0 404.2,77.8 404.2,78.5 404.4,79.0 404.4,79.8 404.4,80.5 404.4,81.2 404.4,82.0 404.4,82.8 404.4,83.5 404.4,84.2 404.4,85.0 404.4,85.8 404.4,86.5 404.3,87.2 404.2,87.8 404.2,88.5 404.2,89.2 404.2,90.0 404.2,90.8 404.1,91.5 404.0,92.0 403.8,92.8 403.7,93.2 403.7,94.0 403.5,94.5 403.0,94.8 402.5,95.0Z" fill="rgba(0,0,0,0.035)" stroke="rgba(20,20,20,0.62)" stroke-width="0.5"/>
<path d="M438.2,97.3 437.5,97.4 436.8,97.4 436.2,97.2 435.5,97.0 435.0,96.9 434.5,96.7 434.0,96.5 433.5,96.2 433.0,96.0 432.4,95.8 432.0,95.5 431.5,95.2 431.0,94.8 430.5,94.5 430.2,94.2 429.8,93.9 429.2,93.5 428.9,93.2 428.5,93.0 428.0,92.6 427.6,92.2 427.2,92.0 426.8,91.6 426.3,91.2 426.0,91.0 425.5,90.7 425.0,90.3 424.5,90.1 424.0,89.9 423.5,89.7 423.0,89.5 422.5,89.1 422.0,88.9 421.5,88.6 421.0,88.3 420.5,88.1 420.0,87.9 419.5,87.6 419.0,87.4 418.5,87.1 418.0,86.8 417.5,86.6 417.0,86.4 416.4,86.2 415.8,86.0 415.2,85.9 414.8,85.7 414.1,85.5 413.5,85.4 412.8,85.2 412.2,85.2 411.5,85.2 410.8,85.2 410.0,85.2 409.2,85.2 408.8,85.3 408.0,85.5 407.5,85.6 407.0,85.8 406.5,86.0 405.9,86.2 405.3,86.2 405.3,85.5 405.3,84.8 405.3,84.0 405.3,83.2 405.3,82.5 405.5,81.8 405.5,81.2 405.7,80.5 405.8,80.0 406.2,79.6 406.8,79.8 407.4,80.0 408.0,80.1 408.7,80.2 409.2,80.3 410.0,80.3 410.8,80.3 411.5,80.3 412.0,80.2 412.8,80.1 413.2,80.0 413.9,79.8 414.5,79.5 415.0,79.3 415.5,79.0 415.9,78.8 416.3,78.5 416.8,78.1 417.2,77.8 417.6,77.5 418.0,77.1 418.5,76.8 418.8,76.5 419.2,76.2 419.8,75.9 420.4,75.8 421.0,75.6 421.6,75.5 422.2,75.3 422.8,75.2 423.5,75.1 424.1,75.0 424.8,74.9 425.5,74.8 426.2,74.8 426.8,74.7 427.5,74.6 428.0,74.5 428.7,74.2 429.2,74.0 429.8,73.8 430.2,73.6 430.8,73.4 431.2,73.2 432.0,73.0 432.5,72.9 433.1,72.8 433.8,72.7 434.5,72.6 435.2,72.7 436.0,72.7 436.5,72.8 437.0,73.0 437.5,73.5 437.8,73.8 438.1,74.2 438.5,74.7 438.8,75.2 439.0,75.7 439.2,76.2 439.5,76.7 439.7,77.2 439.9,77.8 440.0,78.2 440.2,79.0 440.3,79.5 440.4,80.2 440.5,80.8 440.7,81.5 440.8,82.0 440.8,82.8 440.9,83.5 441.0,84.2 441.0,84.8 441.1,85.5 441.1,86.2 441.1,87.0 441.1,87.8 441.0,88.5 440.9,89.0 440.8,89.8 440.8,90.3 440.7,91.0 440.6,91.8 440.4,92.2 440.2,92.8 440.0,93.5 439.9,94.0 439.8,94.6 439.5,95.2 439.3,95.8 439.0,96.2 438.8,96.6 438.5,97.0Z" fill="rgba(0,0,0,0.035)" stroke="rgba(20,20,20,0.62)" stroke-width="0.5"/>
<path d="M402.5,94.5 402.0,94.5 401.8,93.8 401.7,93.2 401.5,92.7 401.3,92.0 401.2,91.5 401.0,90.8 401.0,90.0 400.9,89.5 400.8,88.8 400.8,88.0 400.8,87.2 400.8,86.5 400.8,85.8 400.8,85.0 400.8,84.2 400.9,83.5 401.0,83.0 401.0,82.2 401.0,81.5 401.0,80.8 401.0,80.0 401.1,79.2 401.2,78.5 401.3,78.0 401.3,77.2 401.3,76.5 401.3,75.8 401.5,75.0 401.5,74.5 401.7,73.8 401.8,73.2 401.9,72.5 402.1,72.0 402.8,71.8 403.3,72.0 403.5,72.8 403.5,73.2 403.7,74.0 403.7,74.8 403.7,75.5 403.7,76.2 403.7,77.0 403.7,77.8 403.8,78.2 403.9,79.0 404.0,79.8 404.0,80.5 404.0,81.2 404.0,82.0 404.0,82.8 404.0,83.5 404.0,84.2 404.0,85.0 404.0,85.8 404.0,86.5 403.8,87.2 403.7,87.8 403.7,88.5 403.7,89.2 403.7,90.0 403.7,90.8 403.6,91.5 403.5,92.0 403.3,92.8 403.2,93.3 403.2,94.0 402.8,94.4Z" fill="rgba(0,0,0,0.035)" stroke="rgba(20,20,20,0.62)" stroke-width="0.5"/>
<path d="M437.8,96.4 437.0,96.4 436.2,96.3 435.8,96.2 435.2,96.0 434.6,95.8 434.0,95.5 433.5,95.3 433.0,95.0 432.5,94.8 432.1,94.5 431.7,94.2 431.2,93.9 430.8,93.6 430.3,93.2 430.0,93.0 429.5,92.6 429.0,92.2 428.7,92.0 428.2,91.6 427.8,91.2 427.5,91.0 427.0,90.6 426.6,90.2 426.2,90.0 425.8,89.6 425.3,89.2 424.8,89.0 424.2,88.8 423.8,88.5 423.3,88.2 422.9,88.0 422.4,87.8 421.9,87.5 421.4,87.2 420.9,87.0 420.3,86.8 419.9,86.5 419.4,86.2 418.9,86.0 418.4,85.8 417.8,85.5 417.2,85.3 416.8,85.1 416.2,85.0 415.6,84.8 415.0,84.5 414.5,84.4 413.9,84.2 413.2,84.1 412.5,84.0 411.8,84.0 411.0,84.0 410.2,84.0 409.5,84.0 408.8,84.1 408.1,84.2 407.5,84.4 407.0,84.5 406.5,84.4 406.5,83.8 406.5,83.0 406.5,82.5 406.7,81.8 406.8,81.2 407.5,81.2 408.0,81.3 408.8,81.4 409.5,81.5 410.2,81.5 411.0,81.5 411.8,81.4 412.5,81.3 413.0,81.2 413.8,81.0 414.2,80.9 414.8,80.7 415.2,80.5 415.8,80.2 416.2,79.9 416.8,79.6 417.2,79.2 417.5,79.0 418.0,78.7 418.5,78.3 418.8,78.0 419.2,77.7 419.8,77.3 420.2,77.0 420.8,76.9 421.4,76.8 422.0,76.6 422.5,76.5 423.2,76.4 423.9,76.2 424.5,76.1 425.2,76.0 425.8,76.0 426.5,75.9 427.2,75.8 427.8,75.7 428.3,75.5 428.9,75.2 429.4,75.0 430.0,74.8 430.5,74.5 431.0,74.3 431.5,74.1 432.1,74.0 432.8,73.8 433.2,73.7 434.0,73.6 434.8,73.6 435.5,73.6 436.2,73.7 436.5,74.0 437.0,74.4 437.3,74.8 437.7,75.2 437.9,75.8 438.2,76.2 438.5,76.8 438.7,77.2 438.9,77.8 439.1,78.2 439.2,78.8 439.4,79.5 439.5,80.1 439.6,80.8 439.8,81.3 439.9,82.0 440.0,82.8 440.0,83.2 440.1,84.0 440.2,84.8 440.3,85.2 440.3,86.0 440.3,86.8 440.3,87.5 440.2,88.0 440.1,88.8 440.0,89.3 439.9,90.0 439.8,90.8 439.8,91.4 439.6,92.0 439.4,92.5 439.2,93.0 439.0,93.8 438.9,94.2 438.7,94.8 438.5,95.3 438.2,95.8 437.9,96.2Z" fill="rgba(0,0,0,0.035)" stroke="rgba(20,20,20,0.62)" stroke-width="0.5"/>
<path d="M402.5,94.0 402.2,93.8 402.0,93.0 401.9,92.5 401.8,91.9 401.6,91.2 401.5,90.8 401.4,90.0 401.3,89.2 401.2,88.8 401.2,88.0 401.2,87.2 401.2,86.5 401.2,85.8 401.2,85.0 401.2,84.2 401.3,83.8 401.4,83.0 401.5,82.2 401.5,81.5 401.5,80.8 401.5,80.0 401.5,79.4 401.7,78.8 401.7,78.0 401.7,77.2 401.7,76.5 401.8,75.9 401.9,75.2 402.0,74.5 402.1,74.0 402.2,73.2 402.3,72.8 402.8,72.3 403.0,72.8 403.1,73.5 403.2,74.1 403.3,74.8 403.3,75.5 403.3,76.2 403.3,77.0 403.3,77.8 403.3,78.5 403.5,79.1 403.5,79.8 403.5,80.5 403.5,81.2 403.5,82.0 403.5,82.8 403.5,83.5 403.5,84.2 403.5,85.0 403.5,85.8 403.5,86.5 403.4,87.0 403.3,87.8 403.3,88.5 403.3,89.2 403.3,90.0 403.3,90.8 403.2,91.2 403.1,92.0 403.0,92.5 402.8,93.2 402.8,93.8Z" fill="rgba(0,0,0,0.035)" stroke="rgba(20,20,20,0.62)" stroke-width="0.5"/>
<path d="M437.0,95.5 436.5,95.5 435.8,95.3 435.2,95.1 434.8,94.9 434.2,94.7 433.8,94.4 433.2,94.2 432.8,93.9 432.2,93.6 431.8,93.2 431.4,93.0 431.0,92.7 430.5,92.3 430.2,92.0 429.8,91.7 429.2,91.3 428.9,91.0 428.5,90.6 428.1,90.2 427.8,90.0 427.2,89.6 426.9,89.2 426.5,88.9 426.0,88.5 425.6,88.2 425.2,88.0 424.7,87.8 424.2,87.5 423.8,87.2 423.2,86.9 422.8,86.6 422.2,86.4 421.8,86.1 421.2,85.9 420.8,85.7 420.2,85.4 419.8,85.1 419.2,84.9 418.8,84.7 418.2,84.4 417.7,84.2 417.0,84.0 416.5,83.8 416.0,83.7 415.5,83.5 414.8,83.3 414.2,83.2 413.5,83.0 413.0,82.9 412.2,82.9 411.5,82.9 410.8,82.9 410.0,82.9 409.2,82.9 408.6,83.0 408.0,83.1 407.7,82.8 408.0,82.5 408.5,82.6 409.2,82.6 410.0,82.6 410.8,82.6 411.5,82.6 412.2,82.6 412.8,82.5 413.5,82.3 414.0,82.2 414.5,82.0 415.1,81.8 415.7,81.5 416.2,81.2 416.7,81.0 417.1,80.8 417.5,80.5 418.0,80.1 418.4,79.8 418.8,79.5 419.2,79.1 419.7,78.8 420.0,78.5 420.5,78.1 421.0,78.0 421.8,77.8 422.2,77.7 423.0,77.5 423.5,77.5 424.2,77.3 424.8,77.2 425.5,77.1 426.2,77.1 426.9,77.0 427.5,76.8 428.0,76.7 428.5,76.5 429.0,76.2 429.5,76.0 430.0,75.8 430.6,75.5 431.1,75.2 431.8,75.0 432.2,74.9 432.8,74.8 433.5,74.6 434.2,74.5 434.8,74.5 435.2,74.5 435.9,74.8 436.2,75.1 436.7,75.5 436.9,76.0 437.2,76.5 437.5,77.0 437.8,77.4 438.0,78.0 438.2,78.5 438.4,79.0 438.5,79.7 438.6,80.2 438.8,80.9 438.9,81.5 439.0,82.0 439.1,82.8 439.2,83.5 439.2,84.1 439.3,84.8 439.5,85.5 439.5,86.2 439.5,87.0 439.4,87.8 439.3,88.5 439.2,89.0 439.1,89.8 439.0,90.4 438.9,91.0 438.8,91.7 438.6,92.2 438.4,92.8 438.2,93.2 438.0,93.8 437.8,94.5 437.6,95.0 437.2,95.5Z" fill="rgba(0,0,0,0.035)" stroke="rgba(20,20,20,0.62)" stroke-width="0.5"/>
<path d="M402.5,92.4 402.2,92.0 402.0,91.2 401.9,90.8 401.9,90.0 401.8,89.3 401.6,88.8 401.6,88.0 401.6,87.2 401.6,86.5 401.6,85.8 401.6,85.0 401.6,84.2 401.8,83.7 401.9,83.0 401.9,82.2 401.9,81.5 401.9,80.8 401.9,80.0 402.0,79.2 402.1,78.8 402.1,78.0 402.1,77.2 402.1,76.5 402.2,75.8 402.3,75.2 402.4,74.5 402.8,74.0 402.8,74.8 402.8,75.5 402.9,76.2 402.9,77.0 402.9,77.8 402.9,78.5 403.0,79.0 403.1,79.8 403.1,80.5 403.1,81.2 403.1,82.0 403.1,82.8 403.1,83.5 403.1,84.2 403.1,85.0 403.1,85.8 403.1,86.5 403.0,87.0 402.9,87.8 402.9,88.5 402.9,89.2 402.9,90.0 402.9,90.8 402.8,91.3 402.6,92.0Z" fill="rgba(0,0,0,0.035)" stroke="rgba(20,20,20,0.62)" stroke-width="0.5"/>
<path d="M436.5,94.5 436.0,94.4 435.4,94.2 434.8,94.0 434.3,93.8 433.8,93.5 433.2,93.3 432.8,93.0 432.5,92.8 432.0,92.4 431.5,92.1 431.1,91.8 430.8,91.4 430.3,91.0 430.0,90.8 429.5,90.4 429.1,90.0 428.8,89.7 428.2,89.3 428.0,89.0 427.5,88.6 427.1,88.2 426.8,87.9 426.2,87.5 425.9,87.2 425.5,86.9 425.0,86.7 424.5,86.4 424.0,86.1 423.5,85.8 423.0,85.5 422.5,85.3 422.0,85.0 421.5,84.8 421.0,84.6 420.5,84.3 420.0,84.0 419.5,83.8 419.0,83.6 418.5,83.4 418.0,83.2 417.5,83.0 416.8,82.8 416.3,82.5 416.8,82.2 417.2,81.9 417.8,81.6 418.2,81.3 418.6,81.0 419.0,80.7 419.5,80.3 419.9,80.0 420.2,79.7 420.8,79.3 421.2,79.1 421.8,79.0 422.5,78.8 423.0,78.7 423.8,78.6 424.2,78.5 425.0,78.3 425.5,78.2 426.2,78.2 427.0,78.0 427.5,77.9 428.0,77.7 428.5,77.5 429.0,77.2 429.5,77.0 430.0,76.8 430.5,76.5 431.0,76.2 431.6,76.0 432.2,75.8 432.8,75.7 433.5,75.5 434.0,75.4 434.8,75.4 435.2,75.5 435.7,76.0 436.0,76.5 436.2,76.9 436.5,77.2 436.8,77.8 437.0,78.2 437.2,78.8 437.5,79.5 437.6,80.0 437.7,80.8 437.9,81.2 438.0,81.8 438.2,82.5 438.2,83.0 438.3,83.8 438.4,84.5 438.5,85.0 438.6,85.8 438.6,86.5 438.6,87.2 438.5,88.0 438.4,88.5 438.2,89.2 438.2,89.8 438.1,90.5 438.0,91.0 437.8,91.7 437.6,92.2 437.3,92.8 437.1,93.2 437.0,93.8 436.8,94.4Z" fill="rgba(0,0,0,0.035)" stroke="rgba(20,20,20,0.62)" stroke-width="0.5"/>
<path d="M436.0,93.3 435.2,93.3 434.8,93.0 434.2,92.8 433.8,92.6 433.2,92.3 432.8,92.0 432.4,91.8 432.0,91.4 431.5,91.0 431.2,90.8 430.8,90.4 430.3,90.0 430.0,89.7 429.5,89.3 429.2,89.0 428.8,88.6 428.4,88.2 428.0,87.9 427.6,87.5 427.2,87.2 426.8,86.8 426.5,86.5 426.0,86.1 425.6,85.8 425.1,85.5 424.7,85.2 424.2,85.0 423.8,84.7 423.2,84.5 422.8,84.2 422.2,84.0 421.8,83.7 421.2,83.5 420.8,83.2 420.2,83.0 419.8,82.7 419.2,82.5 419.0,82.1 419.4,81.8 419.8,81.5 420.2,81.1 420.7,80.8 421.0,80.5 421.5,80.1 422.1,80.0 422.8,79.8 423.2,79.7 424.0,79.6 424.6,79.5 425.2,79.4 426.0,79.3 426.5,79.2 427.1,79.0 427.8,78.8 428.2,78.6 428.8,78.4 429.2,78.1 429.8,77.8 430.2,77.6 430.8,77.3 431.2,77.1 431.8,76.9 432.2,76.7 432.9,76.5 433.5,76.4 434.2,76.3 434.8,76.6 435.0,77.0 435.4,77.5 435.8,78.0 436.0,78.5 436.2,79.0 436.4,79.5 436.5,80.0 436.7,80.8 436.8,81.2 437.0,81.8 437.2,82.5 437.3,83.0 437.3,83.8 437.5,84.5 437.5,85.0 437.7,85.8 437.7,86.5 437.6,87.2 437.5,88.0 437.4,88.5 437.3,89.2 437.2,89.8 437.1,90.5 437.0,91.0 436.8,91.6 436.5,92.2 436.2,92.7 436.0,93.2Z" fill="rgba(0,0,0,0.035)" stroke="rgba(20,20,20,0.62)" stroke-width="0.5"/>
<path d="M402.2,89.5 402.1,89.0 402.1,88.2 402.1,87.5 402.1,86.8 402.1,86.0 402.1,85.2 402.1,84.5 402.2,83.8 402.3,83.2 402.3,82.5 402.3,81.8 402.3,81.0 402.3,80.2 402.4,79.5 402.6,79.2 402.7,80.0 402.7,80.8 402.7,81.5 402.7,82.2 402.7,83.0 402.7,83.8 402.7,84.5 402.7,85.2 402.7,86.0 402.6,86.8 402.5,87.2 402.4,88.0 402.4,88.8 402.3,89.5Z" fill="rgba(0,0,0,0.035)" stroke="rgba(20,20,20,0.62)" stroke-width="0.5"/>
<path d="M435.2,92.2 434.5,92.0 434.0,91.8 433.5,91.5 433.1,91.2 432.8,91.0 432.2,90.6 431.8,90.2 431.5,90.0 431.0,89.5 430.7,89.2 430.2,88.9 429.8,88.5 429.5,88.2 429.1,87.8 428.8,87.4 428.3,87.0 428.0,86.7 427.5,86.3 427.2,86.0 426.8,85.6 426.5,85.2 426.0,84.8 425.5,84.5 425.1,84.2 424.7,84.0 424.2,83.8 423.7,83.5 423.2,83.2 422.7,83.0 422.1,82.8 421.7,82.5 421.2,82.2 421.0,81.9 421.4,81.5 421.8,81.2 422.4,81.0 423.0,80.9 423.5,80.7 424.2,80.6 424.9,80.5 425.5,80.4 426.2,80.3 426.8,80.2 427.2,79.9 427.8,79.8 428.4,79.5 428.9,79.2 429.4,79.0 429.8,78.8 430.3,78.5 430.8,78.2 431.3,78.0 431.8,77.8 432.5,77.5 433.0,77.3 433.5,77.2 434.0,77.5 434.2,77.9 434.6,78.2 434.8,78.8 435.1,79.2 435.2,79.8 435.4,80.5 435.6,81.0 435.8,81.5 436.0,82.1 436.1,82.8 436.2,83.5 436.3,84.0 436.4,84.8 436.5,85.2 436.6,86.0 436.6,86.8 436.6,87.5 436.5,88.0 436.3,88.8 436.2,89.2 436.0,90.0 435.9,90.5 435.8,91.2 435.5,91.7 435.2,92.2Z" fill="rgba(0,0,0,0.035)" stroke="rgba(20,20,20,0.62)" stroke-width="0.5"/>
<path d="M434.5,90.9 433.8,90.8 433.4,90.5 433.0,90.2 432.5,89.8 432.1,89.5 431.8,89.2 431.3,88.8 431.0,88.5 430.5,88.1 430.2,87.8 429.8,87.3 429.4,87.0 429.0,86.6 428.7,86.2 428.2,85.8 427.9,85.5 427.5,85.1 427.1,84.8 426.8,84.3 426.5,84.0 426.0,83.6 425.5,83.3 425.0,83.0 424.5,82.8 424.0,82.5 423.5,82.3 423.1,82.0 423.7,81.8 424.2,81.7 425.0,81.5 425.5,81.4 426.2,81.3 426.8,81.2 427.2,81.0 427.8,80.7 428.3,80.5 428.8,80.2 429.3,80.0 429.8,79.7 430.2,79.5 430.8,79.2 431.2,78.9 431.8,78.7 432.2,78.5 433.0,78.3 433.3,78.8 433.6,79.2 433.8,79.8 434.0,80.3 434.2,81.0 434.4,81.5 434.6,82.0 434.8,82.5 435.0,83.2 435.0,83.8 435.1,84.5 435.3,85.0 435.4,85.8 435.5,86.5 435.4,87.2 435.2,87.9 435.1,88.5 435.0,89.0 434.8,89.8 434.7,90.2 434.5,90.9Z" fill="rgba(0,0,0,0.035)" stroke="rgba(20,20,20,0.62)" stroke-width="0.5"/>
<path d="M433.2,89.3 432.8,89.1 432.4,88.8 432.0,88.4 431.6,88.0 431.2,87.7 430.8,87.2 430.5,87.0 430.0,86.5 429.8,86.2 429.3,85.8 429.0,85.4 428.6,85.0 428.2,84.7 427.8,84.2 427.5,83.9 427.1,83.5 426.8,83.1 426.5,82.8 426.2,82.5 426.8,82.2 427.2,82.0 427.8,81.7 428.2,81.5 428.8,81.2 429.2,81.0 429.8,80.7 430.2,80.4 430.8,80.1 431.2,79.8 431.8,79.5 432.1,79.5 432.3,80.0 432.5,80.7 432.7,81.2 432.9,81.8 433.2,82.2 433.4,82.8 433.5,83.5 433.6,84.0 433.7,84.8 433.8,85.2 434.0,85.8 434.0,86.5 434.0,87.2 433.8,87.8 433.7,88.2 433.5,88.8 433.2,89.3Z" fill="rgba(0,0,0,0.035)" stroke="rgba(20,20,20,0.62)" stroke-width="0.5"/>
<path d="M432.0,87.3 431.6,87.0 431.2,86.7 430.8,86.2 430.5,85.9 430.1,85.5 429.8,85.1 429.4,84.8 429.0,84.3 428.7,84.0 428.2,83.5 428.0,83.2 427.7,82.8 428.0,82.5 428.6,82.2 429.1,82.0 429.5,81.7 430.0,81.4 430.5,81.2 431.0,81.5 431.2,82.0 431.4,82.5 431.6,83.0 431.7,83.8 431.8,84.2 432.0,85.0 432.1,85.5 432.3,86.0 432.3,86.8 432.2,87.2Z" fill="rgba(0,0,0,0.035)" stroke="rgba(20,20,20,0.62)" stroke-width="0.5"/>
<path d="M429.8,83.6 429.2,83.4 429.0,83.0 429.4,82.8 429.7,83.0 429.8,83.5Z" fill="rgba(0,0,0,0.035)" stroke="rgba(20,20,20,0.62)" stroke-width="0.5"/>
<ellipse cx="432.6" cy="83.5" rx="1.6" ry="2.4" fill="#fff" opacity="0.9"/>
<rect x="70.5" y="32.5" width="91.0" height="94.8" fill="none" stroke="#9a9a9a" stroke-width="1"/>
<line x1="103" y1="33" x2="103" y2="127" stroke="#666" stroke-width="2.0"/>
<line x1="70.5" y1="88.4" x2="161.5" y2="88.4" stroke="#222" stroke-width="1.2"/>
<text x="73.1" y="40.6" font-size="6.8" fill="#111" stroke="#111" stroke-width="0.12">Q1</text>
<text x="73.1" y="48.6" font-size="6.8" fill="#111" stroke="#111" stroke-width="0.12">0.77</text>
<text x="155.2" y="40.6" font-size="6.8" text-anchor="end" fill="#111" stroke="#111" stroke-width="0.12">Q2</text>
<text x="155.2" y="48.6" font-size="6.8" text-anchor="end" fill="#111" stroke="#111" stroke-width="0.12">10.7</text>
<text x="73.1" y="114.5" font-size="6.8" fill="#111" stroke="#111" stroke-width="0.12">Q4</text>
<text x="73.1" y="122.3" font-size="6.8" fill="#111" stroke="#111" stroke-width="0.12">11.5</text>
<text x="155.2" y="114.5" font-size="6.8" text-anchor="end" fill="#111" stroke="#111" stroke-width="0.12">Q3</text>
<text x="155.2" y="122.3" font-size="6.8" text-anchor="end" fill="#111" stroke="#111" stroke-width="0.12">77.0</text>
<rect x="172.5" y="32.5" width="93.0" height="94.8" fill="none" stroke="#9a9a9a" stroke-width="1"/>
<line x1="205.3" y1="33" x2="205.3" y2="127" stroke="#222" stroke-width="1.2"/>
<line x1="172.5" y1="88.4" x2="265.5" y2="88.4" stroke="#222" stroke-width="1.2"/>
<text x="175.1" y="40.6" font-size="6.8" fill="#111" stroke="#111" stroke-width="0.12">Q1</text>
<text x="175.1" y="48.6" font-size="6.8" fill="#111" stroke="#111" stroke-width="0.12">1.60</text>
<text x="259.2" y="40.6" font-size="6.8" text-anchor="end" fill="#111" stroke="#111" stroke-width="0.12">Q2</text>
<text x="259.2" y="48.6" font-size="6.8" text-anchor="end" fill="#111" stroke="#111" stroke-width="0.12">26.3</text>
<text x="175.1" y="114.5" font-size="6.8" fill="#111" stroke="#111" stroke-width="0.12">Q4</text>
<text x="175.1" y="122.3" font-size="6.8" fill="#111" stroke="#111" stroke-width="0.12">6.72</text>
<text x="259.2" y="114.5" font-size="6.8" text-anchor="end" fill="#111" stroke="#111" stroke-width="0.12">Q3</text>
<text x="259.2" y="122.3" font-size="6.8" text-anchor="end" fill="#111" stroke="#111" stroke-width="0.12">65.3</text>
<rect x="275.5" y="32.5" width="92.0" height="94.8" fill="none" stroke="#9a9a9a" stroke-width="1"/>
<line x1="308.7" y1="33" x2="308.7" y2="127" stroke="#222" stroke-width="1.2"/>
<line x1="275.5" y1="88.4" x2="367.5" y2="88.4" stroke="#222" stroke-width="1.2"/>
<text x="278.1" y="40.6" font-size="6.8" fill="#111" stroke="#111" stroke-width="0.12">Q1</text>
<text x="278.1" y="48.6" font-size="6.8" fill="#111" stroke="#111" stroke-width="0.12">11.0</text>
<text x="361.2" y="40.6" font-size="6.8" text-anchor="end" fill="#111" stroke="#111" stroke-width="0.12">Q2</text>
<text x="361.2" y="48.6" font-size="6.8" text-anchor="end" fill="#111" stroke="#111" stroke-width="0.12">41.6</text>
<text x="278.1" y="114.5" font-size="6.8" fill="#111" stroke="#111" stroke-width="0.12">Q4</text>
<text x="278.1" y="122.3" font-size="6.8" fill="#111" stroke="#111" stroke-width="0.12">7.02</text>
<text x="361.2" y="114.5" font-size="6.8" text-anchor="end" fill="#111" stroke="#111" stroke-width="0.12">Q3</text>
<text x="361.2" y="122.3" font-size="6.8" text-anchor="end" fill="#111" stroke="#111" stroke-width="0.12">40.3</text>
<rect x="377.5" y="32.5" width="92.0" height="94.8" fill="none" stroke="#9a9a9a" stroke-width="1"/>
<line x1="410.8" y1="33" x2="410.8" y2="127" stroke="#222" stroke-width="1.2"/>
<line x1="377.5" y1="88.4" x2="469.5" y2="88.4" stroke="#222" stroke-width="1.2"/>
<text x="380.1" y="40.6" font-size="6.8" fill="#111" stroke="#111" stroke-width="0.12">Q1</text>
<text x="380.1" y="48.6" font-size="6.8" fill="#111" stroke="#111" stroke-width="0.12">13.7</text>
<text x="463.2" y="40.6" font-size="6.8" text-anchor="end" fill="#111" stroke="#111" stroke-width="0.12">Q2</text>
<text x="463.2" y="48.6" font-size="6.8" text-anchor="end" fill="#111" stroke="#111" stroke-width="0.12">51.6</text>
<text x="380.1" y="114.5" font-size="6.8" fill="#111" stroke="#111" stroke-width="0.12">Q4</text>
<text x="380.1" y="122.3" font-size="6.8" fill="#111" stroke="#111" stroke-width="0.12">4.41</text>
<text x="463.2" y="114.5" font-size="6.8" text-anchor="end" fill="#111" stroke="#111" stroke-width="0.12">Q3</text>
<text x="463.2" y="122.3" font-size="6.8" text-anchor="end" fill="#111" stroke="#111" stroke-width="0.12">30.2</text>
<line x1="61" y1="84" x2="61" y2="139.2" stroke="#000" stroke-width="1.3"/>
<line x1="60.4" y1="138.6" x2="117" y2="138.6" stroke="#000" stroke-width="1.3"/>
<path d="M61,79.4 L63.3,85.6 L58.7,85.6 Z" fill="#000"/>
<path d="M122.4,138.6 L116.2,136.3 L116.2,140.9 Z" fill="#000"/>
<text transform="translate(55,122.6) rotate(-90)" x="0" y="0" font-size="9.2" text-anchor="middle" font-weight="bold" fill="#111" textLength="26.4" lengthAdjust="spacingAndGlyphs">CD45RO</text>
<text x="60.8" y="150.8" font-size="9.2" font-weight="bold" fill="#111" textLength="17.7" lengthAdjust="spacingAndGlyphs">CCR7</text>
<text x="7.6" y="180.7" font-size="12" font-weight="bold" fill="#000">B</text>
<line x1="90.8" y1="227.3" x2="145.7" y2="202.5" stroke="#b8b8b8" stroke-width="0.8"/>
<line x1="90.8" y1="228.5" x2="145.7" y2="206.6" stroke="#b8b8b8" stroke-width="0.8"/>
<line x1="90.8" y1="241.9" x2="145.7" y2="210.6" stroke="#b8b8b8" stroke-width="0.8"/>
<line x1="90.8" y1="268.1" x2="145.7" y2="215" stroke="#b8b8b8" stroke-width="0.8"/>
<line x1="90.8" y1="270" x2="145.7" y2="225.6" stroke="#b8b8b8" stroke-width="0.8"/>
<line x1="90.8" y1="268.5" x2="145.7" y2="238.1" stroke="#b8b8b8" stroke-width="0.8"/>
<line x1="90.8" y1="275" x2="145.7" y2="241.9" stroke="#b8b8b8" stroke-width="0.8"/>
<line x1="90.8" y1="276.5" x2="145.7" y2="244" stroke="#b8b8b8" stroke-width="0.8"/>
<line x1="90.8" y1="275.5" x2="145.7" y2="245.6" stroke="#b8b8b8" stroke-width="0.8"/>
<line x1="90.8" y1="283.1" x2="145.7" y2="250" stroke="#b8b8b8" stroke-width="0.8"/>
<line x1="90.8" y1="284" x2="145.7" y2="253.5" stroke="#b8b8b8" stroke-width="0.8"/>
<line x1="90.8" y1="283.5" x2="145.7" y2="247.5" stroke="#b8b8b8" stroke-width="0.8"/>
<line x1="90.8" y1="293.5" x2="145.7" y2="277.3" stroke="#b8b8b8" stroke-width="0.8"/>
<circle cx="90.8" cy="227.3" r="1.75" fill="#1a3a8a"/>
<circle cx="90.8" cy="228.5" r="1.75" fill="#1a3a8a"/>
<circle cx="90.8" cy="241.9" r="1.75" fill="#1a3a8a"/>
<circle cx="90.8" cy="268.1" r="1.75" fill="#1a3a8a"/>
<circle cx="90.8" cy="270" r="1.75" fill="#1a3a8a"/>
<circle cx="90.8" cy="268.5" r="1.75" fill="#1a3a8a"/>
<circle cx="90.8" cy="275" r="1.75" fill="#1a3a8a"/>
<circle cx="90.8" cy="276.5" r="1.75" fill="#1a3a8a"/>
<circle cx="90.8" cy="275.5" r="1.75" fill="#1a3a8a"/>
<circle cx="90.8" cy="283.1" r="1.75" fill="#1a3a8a"/>
<circle cx="90.8" cy="284" r="1.75" fill="#1a3a8a"/>
<circle cx="90.8" cy="283.5" r="1.75" fill="#1a3a8a"/>
<circle cx="90.8" cy="293.5" r="1.75" fill="#1a3a8a"/>
<circle cx="145.7" cy="202.5" r="1.85" fill="#b0001e"/>
<circle cx="145.7" cy="206.6" r="1.85" fill="#b0001e"/>
<circle cx="145.7" cy="210.6" r="1.85" fill="#b0001e"/>
<circle cx="145.7" cy="215" r="1.85" fill="#b0001e"/>
<circle cx="145.7" cy="225.6" r="1.85" fill="#b0001e"/>
<circle cx="145.7" cy="238.1" r="1.85" fill="#b0001e"/>
<circle cx="145.7" cy="241.9" r="1.85" fill="#b0001e"/>
<circle cx="145.7" cy="244" r="1.85" fill="#b0001e"/>
<circle cx="145.7" cy="245.6" r="1.85" fill="#b0001e"/>
<circle cx="145.7" cy="250" r="1.85" fill="#b0001e"/>
<circle cx="145.7" cy="253.5" r="1.85" fill="#b0001e"/>
<circle cx="145.7" cy="247.5" r="1.85" fill="#b0001e"/>
<circle cx="145.7" cy="277.3" r="1.85" fill="#b0001e"/>
<line x1="63.1" y1="193.4" x2="63.1" y2="300.8" stroke="#000" stroke-width="1.3"/>
<line x1="62.5" y1="300.2" x2="173.1" y2="300.2" stroke="#000" stroke-width="1.3"/>
<line x1="59.9" y1="300.2" x2="63.1" y2="300.2" stroke="#000" stroke-width="1.1"/>
<text x="56.300000000000004" y="303.2" font-size="8.4" text-anchor="end" fill="#111" stroke="#111" stroke-width="0.12">0</text>
<line x1="59.9" y1="274.2" x2="63.1" y2="274.2" stroke="#000" stroke-width="1.1"/>
<text x="56.300000000000004" y="277.2" font-size="8.4" text-anchor="end" fill="#111" stroke="#111" stroke-width="0.12">20</text>
<line x1="59.9" y1="248.2" x2="63.1" y2="248.2" stroke="#000" stroke-width="1.1"/>
<text x="56.300000000000004" y="251.2" font-size="8.4" text-anchor="end" fill="#111" stroke="#111" stroke-width="0.12">40</text>
<line x1="59.9" y1="222.2" x2="63.1" y2="222.2" stroke="#000" stroke-width="1.1"/>
<text x="56.300000000000004" y="225.2" font-size="8.4" text-anchor="end" fill="#111" stroke="#111" stroke-width="0.12">60</text>
<line x1="59.9" y1="196.2" x2="63.1" y2="196.2" stroke="#000" stroke-width="1.1"/>
<text x="56.300000000000004" y="199.2" font-size="8.4" text-anchor="end" fill="#111" stroke="#111" stroke-width="0.12">80</text>
<line x1="90.8" y1="300.2" x2="90.8" y2="303.2" stroke="#000" stroke-width="1"/>
<line x1="145.7" y1="300.2" x2="145.7" y2="303.2" stroke="#000" stroke-width="1"/>
<text x="90.8" y="314.0" font-size="8.1" text-anchor="middle" fill="#111" stroke="#111" stroke-width="0.12" textLength="26.6" lengthAdjust="spacingAndGlyphs">Vehicle</text>
<text x="145.7" y="314.0" font-size="8.1" text-anchor="middle" fill="#111" stroke="#111" stroke-width="0.12" textLength="26.2" lengthAdjust="spacingAndGlyphs">S-2HG</text>
<text x="109.45" y="177.5" font-size="10.3" fill="#111">T<tspan font-size="7.8" dy="2.3">CM</tspan></text>
<line x1="89.2" y1="193.5" x2="147.1" y2="193.5" stroke="#111" stroke-width="1.2"/>
<rect x="112.45" y="188.1" width="1.6" height="1.6" fill="#222" stroke="none" stroke-width="1"/>
<rect x="115.25" y="188.1" width="1.6" height="1.6" fill="#222" stroke="none" stroke-width="1"/>
<rect x="118.05" y="188.1" width="1.6" height="1.6" fill="#222" stroke="none" stroke-width="1"/>
<rect x="120.85" y="188.1" width="1.6" height="1.6" fill="#222" stroke="none" stroke-width="1"/>
<text transform="translate(29.1,246.0) rotate(-90)" x="0" y="0" font-size="10.4" text-anchor="middle" font-weight="bold" fill="#1a1a1a" textLength="63.6" lengthAdjust="spacingAndGlyphs">CCR7 + / CD45RO +</text>
<text transform="translate(40.5,246.7) rotate(-90)" x="0" y="0" font-size="10.4" text-anchor="middle" font-weight="bold" fill="#1a1a1a" textLength="45.6" lengthAdjust="spacingAndGlyphs">% CD8 T cells</text>
<line x1="260.4" y1="218.2" x2="315.29999999999995" y2="210.8" stroke="#b8b8b8" stroke-width="0.8"/>
<line x1="260.4" y1="257.3" x2="315.29999999999995" y2="232.2" stroke="#b8b8b8" stroke-width="0.8"/>
<line x1="260.4" y1="262.2" x2="315.29999999999995" y2="231" stroke="#b8b8b8" stroke-width="0.8"/>
<line x1="260.4" y1="266.6" x2="315.29999999999995" y2="243.5" stroke="#b8b8b8" stroke-width="0.8"/>
<line x1="260.4" y1="274.3" x2="315.29999999999995" y2="255.9" stroke="#b8b8b8" stroke-width="0.8"/>
<line x1="260.4" y1="293" x2="315.29999999999995" y2="215.8" stroke="#b8b8b8" stroke-width="0.8"/>
<line x1="260.4" y1="294.5" x2="315.29999999999995" y2="221.7" stroke="#b8b8b8" stroke-width="0.8"/>
<line x1="260.4" y1="295.5" x2="315.29999999999995" y2="253.3" stroke="#b8b8b8" stroke-width="0.8"/>
<line x1="260.4" y1="297" x2="315.29999999999995" y2="254.5" stroke="#b8b8b8" stroke-width="0.8"/>
<line x1="260.4" y1="298" x2="315.29999999999995" y2="277.7" stroke="#b8b8b8" stroke-width="0.8"/>
<line x1="260.4" y1="299" x2="315.29999999999995" y2="283.9" stroke="#b8b8b8" stroke-width="0.8"/>
<line x1="260.4" y1="300.3" x2="315.29999999999995" y2="287.1" stroke="#b8b8b8" stroke-width="0.8"/>
<circle cx="260.4" cy="218.2" r="1.75" fill="#1a3a8a"/>
<circle cx="260.4" cy="257.3" r="1.75" fill="#1a3a8a"/>
<circle cx="260.4" cy="262.2" r="1.75" fill="#1a3a8a"/>
<circle cx="260.4" cy="266.6" r="1.75" fill="#1a3a8a"/>
<circle cx="260.4" cy="274.3" r="1.75" fill="#1a3a8a"/>
<circle cx="260.4" cy="293" r="1.75" fill="#1a3a8a"/>
<circle cx="260.4" cy="294.5" r="1.75" fill="#1a3a8a"/>
<circle cx="260.4" cy="295.5" r="1.75" fill="#1a3a8a"/>
<circle cx="260.4" cy="297" r="1.75" fill="#1a3a8a"/>
<circle cx="260.4" cy="298" r="1.75" fill="#1a3a8a"/>
<circle cx="260.4" cy="299" r="1.75" fill="#1a3a8a"/>
<circle cx="260.4" cy="300.3" r="1.75" fill="#1a3a8a"/>
<circle cx="315.29999999999995" cy="210.8" r="1.85" fill="#b0001e"/>
<circle cx="315.29999999999995" cy="232.2" r="1.85" fill="#b0001e"/>
<circle cx="315.29999999999995" cy="231" r="1.85" fill="#b0001e"/>
<circle cx="315.29999999999995" cy="243.5" r="1.85" fill="#b0001e"/>
<circle cx="315.29999999999995" cy="255.9" r="1.85" fill="#b0001e"/>
<circle cx="315.29999999999995" cy="215.8" r="1.85" fill="#b0001e"/>
<circle cx="315.29999999999995" cy="221.7" r="1.85" fill="#b0001e"/>
<circle cx="315.29999999999995" cy="253.3" r="1.85" fill="#b0001e"/>
<circle cx="315.29999999999995" cy="254.5" r="1.85" fill="#b0001e"/>
<circle cx="315.29999999999995" cy="277.7" r="1.85" fill="#b0001e"/>
<circle cx="315.29999999999995" cy="283.9" r="1.85" fill="#b0001e"/>
<circle cx="315.29999999999995" cy="287.1" r="1.85" fill="#b0001e"/>
<line x1="232.7" y1="193.4" x2="232.7" y2="300.8" stroke="#000" stroke-width="1.3"/>
<line x1="232.1" y1="300.2" x2="342.7" y2="300.2" stroke="#000" stroke-width="1.3"/>
<line x1="229.5" y1="300.2" x2="232.7" y2="300.2" stroke="#000" stroke-width="1.1"/>
<text x="225.89999999999998" y="303.2" font-size="8.4" text-anchor="end" fill="#111" stroke="#111" stroke-width="0.12">0</text>
<line x1="229.5" y1="279.5" x2="232.7" y2="279.5" stroke="#000" stroke-width="1.1"/>
<text x="225.89999999999998" y="282.5" font-size="8.4" text-anchor="end" fill="#111" stroke="#111" stroke-width="0.12">5</text>
<line x1="229.5" y1="258.8" x2="232.7" y2="258.8" stroke="#000" stroke-width="1.1"/>
<text x="225.89999999999998" y="261.8" font-size="8.4" text-anchor="end" fill="#111" stroke="#111" stroke-width="0.12">10</text>
<line x1="229.5" y1="238.1" x2="232.7" y2="238.1" stroke="#000" stroke-width="1.1"/>
<text x="225.89999999999998" y="241.1" font-size="8.4" text-anchor="end" fill="#111" stroke="#111" stroke-width="0.12">15</text>
<line x1="229.5" y1="217.39999999999998" x2="232.7" y2="217.39999999999998" stroke="#000" stroke-width="1.1"/>
<text x="225.89999999999998" y="220.39999999999998" font-size="8.4" text-anchor="end" fill="#111" stroke="#111" stroke-width="0.12">20</text>
<line x1="229.5" y1="196.7" x2="232.7" y2="196.7" stroke="#000" stroke-width="1.1"/>
<text x="225.89999999999998" y="199.7" font-size="8.4" text-anchor="end" fill="#111" stroke="#111" stroke-width="0.12">25</text>
<line x1="260.4" y1="300.2" x2="260.4" y2="303.2" stroke="#000" stroke-width="1"/>
<line x1="315.29999999999995" y1="300.2" x2="315.29999999999995" y2="303.2" stroke="#000" stroke-width="1"/>
<text x="260.4" y="314.0" font-size="8.1" text-anchor="middle" fill="#111" stroke="#111" stroke-width="0.12" textLength="26.6" lengthAdjust="spacingAndGlyphs">Vehicle</text>
<text x="315.29999999999995" y="314.0" font-size="8.1" text-anchor="middle" fill="#111" stroke="#111" stroke-width="0.12" textLength="26.2" lengthAdjust="spacingAndGlyphs">S-2HG</text>
<text x="279.04999999999995" y="177.5" font-size="10.3" fill="#111">T<tspan font-size="7.8" dy="2.3">EM</tspan></text>
<line x1="258.79999999999995" y1="193.5" x2="316.69999999999993" y2="193.5" stroke="#111" stroke-width="1.2"/>
<rect x="283.45" y="188.1" width="1.6" height="1.6" fill="#222" stroke="none" stroke-width="1"/>
<rect x="286.25" y="188.1" width="1.6" height="1.6" fill="#222" stroke="none" stroke-width="1"/>
<rect x="289.05" y="188.1" width="1.6" height="1.6" fill="#222" stroke="none" stroke-width="1"/>
<text transform="translate(198.7,246.0) rotate(-90)" x="0" y="0" font-size="10.4" text-anchor="middle" font-weight="bold" fill="#1a1a1a" textLength="63.0" lengthAdjust="spacingAndGlyphs">CCR7 - / CD45RO +</text>
<text transform="translate(210.1,246.7) rotate(-90)" x="0" y="0" font-size="10.4" text-anchor="middle" font-weight="bold" fill="#1a1a1a" textLength="45.6" lengthAdjust="spacingAndGlyphs">% CD8 T cells</text>
<line x1="430.0" y1="211.7" x2="484.9" y2="284.4" stroke="#b8b8b8" stroke-width="0.8"/>
<line x1="430.0" y1="217.1" x2="484.9" y2="267.5" stroke="#b8b8b8" stroke-width="0.8"/>
<line x1="430.0" y1="252.9" x2="484.9" y2="272.9" stroke="#b8b8b8" stroke-width="0.8"/>
<line x1="430.0" y1="268.4" x2="484.9" y2="295.1" stroke="#b8b8b8" stroke-width="0.8"/>
<line x1="430.0" y1="270.2" x2="484.9" y2="297.8" stroke="#b8b8b8" stroke-width="0.8"/>
<line x1="430.0" y1="272.9" x2="484.9" y2="289.8" stroke="#b8b8b8" stroke-width="0.8"/>
<line x1="430.0" y1="274.1" x2="484.9" y2="287.1" stroke="#b8b8b8" stroke-width="0.8"/>
<line x1="430.0" y1="281.8" x2="484.9" y2="282.7" stroke="#b8b8b8" stroke-width="0.8"/>
<line x1="430.0" y1="287.1" x2="484.9" y2="277.3" stroke="#b8b8b8" stroke-width="0.8"/>
<line x1="430.0" y1="288.4" x2="484.9" y2="296.5" stroke="#b8b8b8" stroke-width="0.8"/>
<line x1="430.0" y1="289.4" x2="484.9" y2="275.2" stroke="#b8b8b8" stroke-width="0.8"/>
<line x1="430.0" y1="300.5" x2="484.9" y2="277.3" stroke="#b8b8b8" stroke-width="0.8"/>
<circle cx="430.0" cy="211.7" r="1.75" fill="#1a3a8a"/>
<circle cx="430.0" cy="217.1" r="1.75" fill="#1a3a8a"/>
<circle cx="430.0" cy="252.9" r="1.75" fill="#1a3a8a"/>
<circle cx="430.0" cy="268.4" r="1.75" fill="#1a3a8a"/>
<circle cx="430.0" cy="270.2" r="1.75" fill="#1a3a8a"/>
<circle cx="430.0" cy="272.9" r="1.75" fill="#1a3a8a"/>
<circle cx="430.0" cy="274.1" r="1.75" fill="#1a3a8a"/>
<circle cx="430.0" cy="281.8" r="1.75" fill="#1a3a8a"/>
<circle cx="430.0" cy="287.1" r="1.75" fill="#1a3a8a"/>
<circle cx="430.0" cy="288.4" r="1.75" fill="#1a3a8a"/>
<circle cx="430.0" cy="289.4" r="1.75" fill="#1a3a8a"/>
<circle cx="430.0" cy="300.5" r="1.75" fill="#1a3a8a"/>
<circle cx="484.9" cy="284.4" r="1.85" fill="#b0001e"/>
<circle cx="484.9" cy="267.5" r="1.85" fill="#b0001e"/>
<circle cx="484.9" cy="272.9" r="1.85" fill="#b0001e"/>
<circle cx="484.9" cy="295.1" r="1.85" fill="#b0001e"/>
<circle cx="484.9" cy="297.8" r="1.85" fill="#b0001e"/>
<circle cx="484.9" cy="289.8" r="1.85" fill="#b0001e"/>
<circle cx="484.9" cy="287.1" r="1.85" fill="#b0001e"/>
<circle cx="484.9" cy="282.7" r="1.85" fill="#b0001e"/>
<circle cx="484.9" cy="277.3" r="1.85" fill="#b0001e"/>
<circle cx="484.9" cy="296.5" r="1.85" fill="#b0001e"/>
<circle cx="484.9" cy="275.2" r="1.85" fill="#b0001e"/>
<circle cx="484.9" cy="277.3" r="1.85" fill="#b0001e"/>
<line x1="402.3" y1="193.4" x2="402.3" y2="300.8" stroke="#000" stroke-width="1.3"/>
<line x1="401.7" y1="300.2" x2="512.3" y2="300.2" stroke="#000" stroke-width="1.3"/>
<line x1="399.1" y1="300.2" x2="402.3" y2="300.2" stroke="#000" stroke-width="1.1"/>
<text x="395.5" y="303.2" font-size="8.4" text-anchor="end" fill="#111" stroke="#111" stroke-width="0.12">0</text>
<line x1="399.1" y1="279.5" x2="402.3" y2="279.5" stroke="#000" stroke-width="1.1"/>
<text x="395.5" y="282.5" font-size="8.4" text-anchor="end" fill="#111" stroke="#111" stroke-width="0.12">5</text>
<line x1="399.1" y1="258.8" x2="402.3" y2="258.8" stroke="#000" stroke-width="1.1"/>
<text x="395.5" y="261.8" font-size="8.4" text-anchor="end" fill="#111" stroke="#111" stroke-width="0.12">10</text>
<line x1="399.1" y1="238.1" x2="402.3" y2="238.1" stroke="#000" stroke-width="1.1"/>
<text x="395.5" y="241.1" font-size="8.4" text-anchor="end" fill="#111" stroke="#111" stroke-width="0.12">15</text>
<line x1="399.1" y1="217.39999999999998" x2="402.3" y2="217.39999999999998" stroke="#000" stroke-width="1.1"/>
<text x="395.5" y="220.39999999999998" font-size="8.4" text-anchor="end" fill="#111" stroke="#111" stroke-width="0.12">20</text>
<line x1="399.1" y1="196.7" x2="402.3" y2="196.7" stroke="#000" stroke-width="1.1"/>
<text x="395.5" y="199.7" font-size="8.4" text-anchor="end" fill="#111" stroke="#111" stroke-width="0.12">25</text>
<line x1="430.0" y1="300.2" x2="430.0" y2="303.2" stroke="#000" stroke-width="1"/>
<line x1="484.9" y1="300.2" x2="484.9" y2="303.2" stroke="#000" stroke-width="1"/>
<text x="430.0" y="314.0" font-size="8.1" text-anchor="middle" fill="#111" stroke="#111" stroke-width="0.12" textLength="26.6" lengthAdjust="spacingAndGlyphs">Vehicle</text>
<text x="484.9" y="314.0" font-size="8.1" text-anchor="middle" fill="#111" stroke="#111" stroke-width="0.12" textLength="26.2" lengthAdjust="spacingAndGlyphs">S-2HG</text>
<text x="448.65" y="177.5" font-size="10.3" fill="#111">T<tspan font-size="7.8" dy="2.3">EF</tspan></text>
<line x1="428.4" y1="193.5" x2="486.29999999999995" y2="193.5" stroke="#444" stroke-width="1.5"/>
<rect x="455.85" y="188.1" width="1.6" height="1.6" fill="#222" stroke="none" stroke-width="1"/>
<text transform="translate(368.3,246.0) rotate(-90)" x="0" y="0" font-size="10.4" text-anchor="middle" font-weight="bold" fill="#1a1a1a" textLength="63.0" lengthAdjust="spacingAndGlyphs">CCR7 - / CD45RO -</text>
<text transform="translate(379.7,246.7) rotate(-90)" x="0" y="0" font-size="10.4" text-anchor="middle" font-weight="bold" fill="#1a1a1a" textLength="45.6" lengthAdjust="spacingAndGlyphs">% CD8 T cells</text>
<text x="7.6" y="343.7" font-size="12" font-weight="bold" fill="#000">C</text>
<line x1="63.1" y1="354.5" x2="63.1" y2="459.1" stroke="#000" stroke-width="1.3"/>
<line x1="62.5" y1="458.5" x2="252.5" y2="458.5" stroke="#000" stroke-width="1.3"/>
<line x1="59.9" y1="458.5" x2="63.1" y2="458.5" stroke="#000" stroke-width="1.1"/>
<text x="56.300000000000004" y="461.5" font-size="8.4" text-anchor="end" fill="#111" stroke="#111" stroke-width="0.12">0</text>
<line x1="59.9" y1="433.0" x2="63.1" y2="433.0" stroke="#000" stroke-width="1.1"/>
<text x="56.300000000000004" y="436.0" font-size="8.4" text-anchor="end" fill="#111" stroke="#111" stroke-width="0.12">5</text>
<line x1="59.9" y1="407.5" x2="63.1" y2="407.5" stroke="#000" stroke-width="1.1"/>
<text x="56.300000000000004" y="410.5" font-size="8.4" text-anchor="end" fill="#111" stroke="#111" stroke-width="0.12">10</text>
<line x1="59.9" y1="382.0" x2="63.1" y2="382.0" stroke="#000" stroke-width="1.1"/>
<text x="56.300000000000004" y="385.0" font-size="8.4" text-anchor="end" fill="#111" stroke="#111" stroke-width="0.12">15</text>
<line x1="59.9" y1="356.5" x2="63.1" y2="356.5" stroke="#000" stroke-width="1.1"/>
<text x="56.300000000000004" y="359.5" font-size="8.4" text-anchor="end" fill="#111" stroke="#111" stroke-width="0.12">20</text>
<line x1="63.0" y1="458.5" x2="63.0" y2="461.5" stroke="#000" stroke-width="1.1"/>
<text x="63.0" y="473.2" font-size="8.4" text-anchor="middle" fill="#111" stroke="#111" stroke-width="0.12">0</text>
<line x1="94.1" y1="458.5" x2="94.1" y2="461.5" stroke="#000" stroke-width="1.1"/>
<text x="94.1" y="473.2" font-size="8.4" text-anchor="middle" fill="#111" stroke="#111" stroke-width="0.12">2</text>
<line x1="125.2" y1="458.5" x2="125.2" y2="461.5" stroke="#000" stroke-width="1.1"/>
<text x="125.2" y="473.2" font-size="8.4" text-anchor="middle" fill="#111" stroke="#111" stroke-width="0.12">4</text>
<line x1="156.3" y1="458.5" x2="156.3" y2="461.5" stroke="#000" stroke-width="1.1"/>
<text x="156.3" y="473.2" font-size="8.4" text-anchor="middle" fill="#111" stroke="#111" stroke-width="0.12">6</text>
<line x1="187.4" y1="458.5" x2="187.4" y2="461.5" stroke="#000" stroke-width="1.1"/>
<text x="187.4" y="473.2" font-size="8.4" text-anchor="middle" fill="#111" stroke="#111" stroke-width="0.12">8</text>
<line x1="218.5" y1="458.5" x2="218.5" y2="461.5" stroke="#000" stroke-width="1.1"/>
<text x="218.5" y="473.2" font-size="8.4" text-anchor="middle" fill="#111" stroke="#111" stroke-width="0.12">10</text>
<line x1="249.60000000000002" y1="458.5" x2="249.60000000000002" y2="461.5" stroke="#000" stroke-width="1.1"/>
<text x="249.60000000000002" y="473.2" font-size="8.4" text-anchor="middle" fill="#111" stroke="#111" stroke-width="0.12">12</text>
<text x="134.2" y="486.9" font-size="9.6" font-weight="bold" fill="#111" textLength="47.6" lengthAdjust="spacingAndGlyphs">Days of culture</text>
<text transform="translate(40.4,406.2) rotate(-90)" font-size="9.9" text-anchor="middle" fill="#111" stroke="#111" stroke-width="0.25" textLength="61.1" lengthAdjust="spacingAndGlyphs">Cell number (x 10<tspan font-size="6.5" dy="-3.4">6</tspan><tspan dy="3.4">)</tspan></text>
<line x1="125.2" y1="444.5" x2="125.2" y2="448.5" stroke="#b50c30" stroke-width="1.0"/>
<line x1="123.60000000000001" y1="444.5" x2="126.8" y2="444.5" stroke="#b50c30" stroke-width="1.0"/>
<line x1="123.60000000000001" y1="448.5" x2="126.8" y2="448.5" stroke="#b50c30" stroke-width="1.0"/>
<line x1="156.3" y1="439.5" x2="156.3" y2="445.9" stroke="#b50c30" stroke-width="1.0"/>
<line x1="154.70000000000002" y1="439.5" x2="157.9" y2="439.5" stroke="#b50c30" stroke-width="1.0"/>
<line x1="154.70000000000002" y1="445.9" x2="157.9" y2="445.9" stroke="#b50c30" stroke-width="1.0"/>
<line x1="187.4" y1="423.3" x2="187.4" y2="434" stroke="#b50c30" stroke-width="1.0"/>
<line x1="185.8" y1="423.3" x2="189.0" y2="423.3" stroke="#b50c30" stroke-width="1.0"/>
<line x1="185.8" y1="434" x2="189.0" y2="434" stroke="#b50c30" stroke-width="1.0"/>
<line x1="218.5" y1="410.4" x2="218.5" y2="425.2" stroke="#b50c30" stroke-width="1.0"/>
<line x1="216.9" y1="410.4" x2="220.1" y2="410.4" stroke="#b50c30" stroke-width="1.0"/>
<line x1="216.9" y1="425.2" x2="220.1" y2="425.2" stroke="#b50c30" stroke-width="1.0"/>
<line x1="249.60000000000002" y1="397.7" x2="249.60000000000002" y2="418.5" stroke="#b50c30" stroke-width="1.0"/>
<line x1="248.00000000000003" y1="397.7" x2="251.20000000000002" y2="397.7" stroke="#b50c30" stroke-width="1.0"/>
<line x1="248.00000000000003" y1="418.5" x2="251.20000000000002" y2="418.5" stroke="#b50c30" stroke-width="1.0"/>
<polyline points="63.00,451.80 125.20,446.40 156.30,442.20 187.40,428.40 218.50,417.90 249.60,408.20" fill="none" stroke="#b50c30" stroke-width="1.6" stroke-linejoin="round"/>
<rect x="61.5" y="450.3" width="3" height="3" fill="#b50c30" stroke="none" stroke-width="1"/>
<rect x="123.7" y="444.9" width="3" height="3" fill="#b50c30" stroke="none" stroke-width="1"/>
<rect x="154.8" y="440.7" width="3" height="3" fill="#b50c30" stroke="none" stroke-width="1"/>
<rect x="185.9" y="426.9" width="3" height="3" fill="#b50c30" stroke="none" stroke-width="1"/>
<rect x="217.0" y="416.4" width="3" height="3" fill="#b50c30" stroke="none" stroke-width="1"/>
<rect x="248.10000000000002" y="406.7" width="3" height="3" fill="#b50c30" stroke="none" stroke-width="1"/>
<line x1="125.2" y1="443.3" x2="125.2" y2="446.5" stroke="#1b3579" stroke-width="1.0"/>
<line x1="123.60000000000001" y1="443.3" x2="126.8" y2="443.3" stroke="#1b3579" stroke-width="1.0"/>
<line x1="123.60000000000001" y1="446.5" x2="126.8" y2="446.5" stroke="#1b3579" stroke-width="1.0"/>
<line x1="156.3" y1="424.7" x2="156.3" y2="437.3" stroke="#1b3579" stroke-width="1.0"/>
<line x1="154.70000000000002" y1="424.7" x2="157.9" y2="424.7" stroke="#1b3579" stroke-width="1.0"/>
<line x1="154.70000000000002" y1="437.3" x2="157.9" y2="437.3" stroke="#1b3579" stroke-width="1.0"/>
<line x1="187.4" y1="402.3" x2="187.4" y2="420.3" stroke="#1b3579" stroke-width="1.0"/>
<line x1="185.8" y1="402.3" x2="189.0" y2="402.3" stroke="#1b3579" stroke-width="1.0"/>
<line x1="185.8" y1="420.3" x2="189.0" y2="420.3" stroke="#1b3579" stroke-width="1.0"/>
<line x1="218.5" y1="381.3" x2="218.5" y2="395.6" stroke="#1b3579" stroke-width="1.0"/>
<line x1="216.9" y1="381.3" x2="220.1" y2="381.3" stroke="#1b3579" stroke-width="1.0"/>
<line x1="216.9" y1="395.6" x2="220.1" y2="395.6" stroke="#1b3579" stroke-width="1.0"/>
<line x1="249.60000000000002" y1="374" x2="249.60000000000002" y2="400.2" stroke="#1b3579" stroke-width="1.0"/>
<line x1="248.00000000000003" y1="374" x2="251.20000000000002" y2="374" stroke="#1b3579" stroke-width="1.0"/>
<line x1="248.00000000000003" y1="400.2" x2="251.20000000000002" y2="400.2" stroke="#1b3579" stroke-width="1.0"/>
<polyline points="63.00,451.80 125.20,445.00 156.30,430.60 187.40,411.20 218.50,388.30 249.60,387.00" fill="none" stroke="#1b3579" stroke-width="1.6" stroke-linejoin="round"/>
<circle cx="63.0" cy="451.8" r="1.6" fill="#1b3579"/>
<circle cx="125.2" cy="445.0" r="1.6" fill="#1b3579"/>
<circle cx="156.3" cy="430.6" r="1.6" fill="#1b3579"/>
<circle cx="187.4" cy="411.2" r="1.6" fill="#1b3579"/>
<circle cx="218.5" cy="388.3" r="1.6" fill="#1b3579"/>
<circle cx="249.60000000000002" cy="387.0" r="1.6" fill="#1b3579"/>
<line x1="72" y1="361.2" x2="80.6" y2="361.2" stroke="#1b3579" stroke-width="1.5"/>
<circle cx="76.3" cy="361.2" r="1.5" fill="#1b3579"/>
<line x1="72" y1="372.5" x2="80.6" y2="372.5" stroke="#b50c30" stroke-width="1.5"/>
<rect x="74.8" y="371" width="3" height="3" fill="#b50c30" stroke="none" stroke-width="1"/>
<text x="83.8" y="363.8" font-size="7.3" fill="#111" stroke="#111" stroke-width="0.12" textLength="23.9" lengthAdjust="spacingAndGlyphs">Vehicle</text>
<text x="83.8" y="375.0" font-size="7.5" fill="#111" stroke="#111" stroke-width="0.12" textLength="60.4" lengthAdjust="spacingAndGlyphs">S-2HG&#160;&#160;(0.4 mM)</text>
<path d="M254.7,386 L258.6,386 L258.6,409.6 L254.7,409.6" fill="none" stroke="#222" stroke-width="1.2"/>
<circle cx="263.0" cy="396.6" r="0.95" fill="#111"/>
<circle cx="266.4" cy="396.6" r="0.95" fill="#111"/>
<text x="284.6" y="343.7" font-size="12" font-weight="bold" fill="#000">D</text>
<line x1="352.3" y1="352.6" x2="352.3" y2="459.0" stroke="#000" stroke-width="1.3"/>
<line x1="351.7" y1="458.4" x2="462.5" y2="458.4" stroke="#000" stroke-width="1.3"/>
<line x1="349.1" y1="458.5" x2="352.3" y2="458.5" stroke="#000" stroke-width="1.1"/>
<text x="345.5" y="461.5" font-size="8.5" text-anchor="end" fill="#111" stroke="#111" stroke-width="0.12">0</text>
<line x1="349.1" y1="424.0" x2="352.3" y2="424.0" stroke="#000" stroke-width="1.1"/>
<text x="345.6" y="427.0" font-size="8.5" text-anchor="end" fill="#111">1x10<tspan font-size="6" dy="-3.3">5</tspan></text>
<line x1="349.1" y1="389.4" x2="352.3" y2="389.4" stroke="#000" stroke-width="1.1"/>
<text x="345.6" y="392.4" font-size="8.5" text-anchor="end" fill="#111">2x10<tspan font-size="6" dy="-3.3">5</tspan></text>
<line x1="349.1" y1="354.8" x2="352.3" y2="354.8" stroke="#000" stroke-width="1.1"/>
<text x="345.6" y="357.8" font-size="8.5" text-anchor="end" fill="#111">3x10<tspan font-size="6" dy="-3.3">5</tspan></text>
<line x1="379.6" y1="458.4" x2="379.6" y2="461.4" stroke="#000" stroke-width="1.1"/>
<line x1="435" y1="458.4" x2="435" y2="461.4" stroke="#000" stroke-width="1.1"/>
<text x="379.9" y="472.8" font-size="8.7" text-anchor="middle" fill="#111" stroke="#111" stroke-width="0.12" textLength="26.4" lengthAdjust="spacingAndGlyphs">Vehicle</text>
<text x="435.1" y="472.8" font-size="8.7" text-anchor="middle" fill="#111" stroke="#111" stroke-width="0.12" textLength="23.7" lengthAdjust="spacingAndGlyphs">S2HG</text>
<text transform="translate(305.9,406.2) rotate(-90)" x="0" y="0" font-size="9.2" text-anchor="middle" font-weight="bold" fill="#111" textLength="69.4" lengthAdjust="spacingAndGlyphs">CCR7 + / CD45RO&#160;&#160;+</text>
<text transform="translate(317.1,405.4) rotate(-90)" x="0" y="0" font-size="9.8" text-anchor="middle" font-weight="bold" fill="#111" textLength="37.9" lengthAdjust="spacingAndGlyphs">Cell Number</text>
<line x1="374.3" y1="359.9" x2="446.1" y2="359.9" stroke="#555" stroke-width="1.7"/>
<circle cx="408.4" cy="355.5" r="1.0" fill="#111"/>
<circle cx="411.7" cy="355.5" r="1.0" fill="#111"/>
<line x1="361.6" y1="430.3" x2="398.1" y2="430.3" stroke="#1b3579" stroke-width="1.5"/>
<line x1="370.8" y1="427.3" x2="388.8" y2="427.3" stroke="#1b3579" stroke-width="1.2"/>
<line x1="370.8" y1="433.1" x2="388.8" y2="433.1" stroke="#1b3579" stroke-width="1.2"/>
<line x1="379.6" y1="427.3" x2="379.6" y2="433.1" stroke="#1b3579" stroke-width="1.2"/>
<circle cx="379.6" cy="420.9" r="1.85" fill="#1b3579"/>
<circle cx="376.2" cy="430.3" r="1.85" fill="#1b3579"/>
<circle cx="383.5" cy="429.2" r="1.85" fill="#1b3579"/>
<circle cx="383.5" cy="433.8" r="1.85" fill="#1b3579"/>
<circle cx="376.2" cy="437.2" r="1.85" fill="#1b3579"/>
<line x1="417" y1="389.7" x2="453.5" y2="389.7" stroke="#b50c30" stroke-width="1.5"/>
<line x1="426.2" y1="384.6" x2="444.2" y2="384.6" stroke="#b50c30" stroke-width="1.2"/>
<line x1="426.2" y1="395.0" x2="444.2" y2="395.0" stroke="#b50c30" stroke-width="1.2"/>
<line x1="435" y1="384.6" x2="435" y2="395" stroke="#b50c30" stroke-width="1.2"/>
<circle cx="435" cy="371.9" r="1.95" fill="#b50c30"/>
<circle cx="435" cy="385.1" r="1.95" fill="#b50c30"/>
<circle cx="431.5" cy="395" r="1.95" fill="#b50c30"/>
<circle cx="438.9" cy="395" r="1.95" fill="#b50c30"/>
<circle cx="435" cy="401.2" r="1.95" fill="#b50c30"/>
<text x="7.6" y="516.9" font-size="12" font-weight="bold" fill="#000">E</text>
<text x="53.8" y="527.8" font-size="8.1" fill="#111" stroke="#111" stroke-width="0.12" textLength="178.9" lengthAdjust="spacingAndGlyphs">Enrichment plot: KAMMINGA_EZH2_TARGETS</text>
<rect x="50.5" y="534.6" width="186.8" height="118.79999999999995" fill="none" stroke="#ececec" stroke-width="0.8"/>
<line x1="72.7" y1="534.6" x2="72.7" y2="617.1" stroke="#f0f0f0" stroke-width="0.8"/>
<line x1="94.9" y1="534.6" x2="94.9" y2="617.1" stroke="#f0f0f0" stroke-width="0.8"/>
<line x1="117.1" y1="534.6" x2="117.1" y2="617.1" stroke="#f0f0f0" stroke-width="0.8"/>
<line x1="139.3" y1="534.6" x2="139.3" y2="617.1" stroke="#f0f0f0" stroke-width="0.8"/>
<line x1="161.5" y1="534.6" x2="161.5" y2="617.1" stroke="#f0f0f0" stroke-width="0.8"/>
<line x1="183.7" y1="534.6" x2="183.7" y2="617.1" stroke="#f0f0f0" stroke-width="0.8"/>
<line x1="205.9" y1="534.6" x2="205.9" y2="617.1" stroke="#f0f0f0" stroke-width="0.8"/>
<line x1="228.1" y1="534.6" x2="228.1" y2="617.1" stroke="#f0f0f0" stroke-width="0.8"/>
<line x1="49.3" y1="613.5" x2="50.5" y2="613.5" stroke="#bbb" stroke-width="0.8"/>
<text x="45.9" y="616.5" font-size="8.4" text-anchor="end" fill="#111" stroke="#111" stroke-width="0.12">0.0</text>
<line x1="50.5" y1="602.42" x2="237.3" y2="602.42" stroke="#f0f0f0" stroke-width="0.8"/>
<line x1="49.3" y1="602.42" x2="50.5" y2="602.42" stroke="#bbb" stroke-width="0.8"/>
<text x="45.9" y="605.42" font-size="8.4" text-anchor="end" fill="#111" stroke="#111" stroke-width="0.12">0.1</text>
<line x1="50.5" y1="591.34" x2="237.3" y2="591.34" stroke="#f0f0f0" stroke-width="0.8"/>
<line x1="49.3" y1="591.34" x2="50.5" y2="591.34" stroke="#bbb" stroke-width="0.8"/>
<text x="45.9" y="594.34" font-size="8.4" text-anchor="end" fill="#111" stroke="#111" stroke-width="0.12">0.2</text>
<line x1="50.5" y1="580.26" x2="237.3" y2="580.26" stroke="#f0f0f0" stroke-width="0.8"/>
<line x1="49.3" y1="580.26" x2="50.5" y2="580.26" stroke="#bbb" stroke-width="0.8"/>
<text x="45.9" y="583.26" font-size="8.4" text-anchor="end" fill="#111" stroke="#111" stroke-width="0.12">0.3</text>
<line x1="50.5" y1="569.18" x2="237.3" y2="569.18" stroke="#f0f0f0" stroke-width="0.8"/>
<line x1="49.3" y1="569.18" x2="50.5" y2="569.18" stroke="#bbb" stroke-width="0.8"/>
<text x="45.9" y="572.18" font-size="8.4" text-anchor="end" fill="#111" stroke="#111" stroke-width="0.12">0.4</text>
<line x1="50.5" y1="558.1" x2="237.3" y2="558.1" stroke="#f0f0f0" stroke-width="0.8"/>
<line x1="49.3" y1="558.1" x2="50.5" y2="558.1" stroke="#bbb" stroke-width="0.8"/>
<text x="45.9" y="561.1" font-size="8.4" text-anchor="end" fill="#111" stroke="#111" stroke-width="0.12">0.5</text>
<line x1="50.5" y1="547.02" x2="237.3" y2="547.02" stroke="#f0f0f0" stroke-width="0.8"/>
<line x1="49.3" y1="547.02" x2="50.5" y2="547.02" stroke="#bbb" stroke-width="0.8"/>
<text x="45.9" y="550.02" font-size="8.4" text-anchor="end" fill="#111" stroke="#111" stroke-width="0.12">0.6</text>
<line x1="50.5" y1="535.94" x2="237.3" y2="535.94" stroke="#f0f0f0" stroke-width="0.8"/>
<line x1="49.3" y1="535.94" x2="50.5" y2="535.94" stroke="#bbb" stroke-width="0.8"/>
<text x="45.9" y="538.94" font-size="8.4" text-anchor="end" fill="#111" stroke="#111" stroke-width="0.12">0.7</text>
<line x1="50.5" y1="534.6" x2="50.5" y2="617.6" stroke="#c8c8c8" stroke-width="1"/>
<line x1="50.5" y1="613.5" x2="237.3" y2="613.5" stroke="#aaa" stroke-width="0.9"/>
<line x1="50.5" y1="617.6" x2="237.3" y2="617.6" stroke="#c0c0c0" stroke-width="0.9"/>
<rect x="52.6" y="619.6" width="0.8999999999999986" height="27.199999999999932" fill="#aaa" stroke="none" stroke-width="1"/>
<rect x="58.1" y="619.6" width="4.600000000000001" height="27.199999999999932" fill="#909090" stroke="none" stroke-width="1"/>
<rect x="59.3" y="619.6" width="1.0" height="27.199999999999932" fill="#666" stroke="none" stroke-width="1"/>
<rect x="61.5" y="619.6" width="0.7999999999999972" height="27.199999999999932" fill="#777" stroke="none" stroke-width="1"/>
<rect x="64.6" y="619.6" width="1.0" height="27.199999999999932" fill="#777" stroke="none" stroke-width="1"/>
<rect x="69.8" y="619.6" width="0.7999999999999972" height="27.199999999999932" fill="#aaa" stroke="none" stroke-width="1"/>
<rect x="74.2" y="619.6" width="0.7999999999999972" height="27.199999999999932" fill="#888" stroke="none" stroke-width="1"/>
<rect x="76.4" y="619.6" width="2.5" height="27.199999999999932" fill="#262626" stroke="none" stroke-width="1"/>
<rect x="80.7" y="619.6" width="1.5999999999999943" height="27.199999999999932" fill="#a8a8a8" stroke="none" stroke-width="1"/>
<rect x="87.6" y="619.6" width="1.2000000000000028" height="27.199999999999932" fill="#222" stroke="none" stroke-width="1"/>
<rect x="90.4" y="619.6" width="3.1999999999999886" height="27.199999999999932" fill="#8a8a8a" stroke="none" stroke-width="1"/>
<rect x="91.4" y="619.6" width="1.0" height="27.199999999999932" fill="#666" stroke="none" stroke-width="1"/>
<rect x="97.4" y="619.6" width="1.0" height="27.199999999999932" fill="#333" stroke="none" stroke-width="1"/>
<rect x="100.7" y="619.6" width="1.0" height="27.199999999999932" fill="#444" stroke="none" stroke-width="1"/>
<rect x="101.1" y="619.6" width="0.9000000000000057" height="27.199999999999932" fill="#444" stroke="none" stroke-width="1"/>
<rect x="113.1" y="619.6" width="0.8000000000000114" height="27.199999999999932" fill="#999" stroke="none" stroke-width="1"/>
<rect x="114.7" y="619.6" width="0.7999999999999972" height="27.199999999999932" fill="#999" stroke="none" stroke-width="1"/>
<rect x="119.1" y="619.6" width="0.8000000000000114" height="27.199999999999932" fill="#777" stroke="none" stroke-width="1"/>
<rect x="146.1" y="619.6" width="0.8000000000000114" height="27.199999999999932" fill="#888" stroke="none" stroke-width="1"/>
<rect x="166.5" y="619.6" width="0.8000000000000114" height="27.199999999999932" fill="#888" stroke="none" stroke-width="1"/>
<rect x="50.5" y="646.8" width="26.500000000000007" height="6.300000000000068" fill="#dc4450" stroke="none" stroke-width="1"/>
<rect x="76.4" y="646.8" width="12.399999999999997" height="6.300000000000068" fill="#e06070" stroke="none" stroke-width="1"/>
<rect x="88.2" y="646.8" width="16.999999999999993" height="6.300000000000068" fill="#e87878" stroke="none" stroke-width="1"/>
<rect x="104.6" y="646.8" width="20.6" height="6.300000000000068" fill="#eeb0dc" stroke="none" stroke-width="1"/>
<rect x="124.6" y="646.8" width="25.6" height="6.300000000000068" fill="#d2d2fa" stroke="none" stroke-width="1"/>
<rect x="149.6" y="646.8" width="26.6" height="6.300000000000068" fill="#b6b6f4" stroke="none" stroke-width="1"/>
<rect x="175.6" y="646.8" width="16.000000000000007" height="6.300000000000068" fill="#7a7aee" stroke="none" stroke-width="1"/>
<rect x="191" y="646.8" width="27.500000000000007" height="6.300000000000068" fill="#5a48dc" stroke="none" stroke-width="1"/>
<rect x="217.9" y="646.8" width="10.299999999999988" height="6.300000000000068" fill="#3020c8" stroke="none" stroke-width="1"/>
<rect x="227.6" y="646.8" width="1.200000000000017" height="6.300000000000068" fill="#2a1a90" stroke="none" stroke-width="1"/>
<rect x="52.6" y="646.8" width="0.8999999999999986" height="6.300000000000068" fill="#aaa" stroke="none" stroke-width="1" opacity="0.18"/>
<rect x="58.1" y="646.8" width="4.600000000000001" height="6.300000000000068" fill="#909090" stroke="none" stroke-width="1" opacity="0.18"/>
<rect x="59.3" y="646.8" width="1.0" height="6.300000000000068" fill="#666" stroke="none" stroke-width="1" opacity="0.18"/>
<rect x="61.5" y="646.8" width="0.7999999999999972" height="6.300000000000068" fill="#777" stroke="none" stroke-width="1" opacity="0.18"/>
<rect x="64.6" y="646.8" width="1.0" height="6.300000000000068" fill="#777" stroke="none" stroke-width="1" opacity="0.18"/>
<rect x="69.8" y="646.8" width="0.7999999999999972" height="6.300000000000068" fill="#aaa" stroke="none" stroke-width="1" opacity="0.18"/>
<rect x="74.2" y="646.8" width="0.7999999999999972" height="6.300000000000068" fill="#888" stroke="none" stroke-width="1" opacity="0.18"/>
<rect x="76.4" y="646.8" width="2.5" height="6.300000000000068" fill="#262626" stroke="none" stroke-width="1" opacity="0.18"/>
<rect x="80.7" y="646.8" width="1.5999999999999943" height="6.300000000000068" fill="#a8a8a8" stroke="none" stroke-width="1" opacity="0.18"/>
<rect x="87.6" y="646.8" width="1.2000000000000028" height="6.300000000000068" fill="#222" stroke="none" stroke-width="1" opacity="0.18"/>
<rect x="90.4" y="646.8" width="3.1999999999999886" height="6.300000000000068" fill="#8a8a8a" stroke="none" stroke-width="1" opacity="0.18"/>
<rect x="91.4" y="646.8" width="1.0" height="6.300000000000068" fill="#666" stroke="none" stroke-width="1" opacity="0.18"/>
<rect x="97.4" y="646.8" width="1.0" height="6.300000000000068" fill="#333" stroke="none" stroke-width="1" opacity="0.18"/>
<rect x="100.7" y="646.8" width="1.0" height="6.300000000000068" fill="#444" stroke="none" stroke-width="1" opacity="0.18"/>
<rect x="101.1" y="646.8" width="0.9000000000000057" height="6.300000000000068" fill="#444" stroke="none" stroke-width="1" opacity="0.18"/>
<rect x="113.1" y="646.8" width="0.8000000000000114" height="6.300000000000068" fill="#999" stroke="none" stroke-width="1" opacity="0.18"/>
<rect x="114.7" y="646.8" width="0.7999999999999972" height="6.300000000000068" fill="#999" stroke="none" stroke-width="1" opacity="0.18"/>
<rect x="119.1" y="646.8" width="0.8000000000000114" height="6.300000000000068" fill="#777" stroke="none" stroke-width="1" opacity="0.18"/>
<rect x="146.1" y="646.8" width="0.8000000000000114" height="6.300000000000068" fill="#888" stroke="none" stroke-width="1" opacity="0.18"/>
<rect x="166.5" y="646.8" width="0.8000000000000114" height="6.300000000000068" fill="#888" stroke="none" stroke-width="1" opacity="0.18"/>
<line x1="50.5" y1="646.8" x2="237.3" y2="646.8" stroke="#f2f2f2" stroke-width="0.6"/>
<polyline points="50.60,613.50 51.90,614.40 52.50,605.40 58.30,608.70 59.20,592.30 60.80,587.50 62.10,582.70 62.70,575.00 64.60,576.00 66.00,564.40 69.80,566.30 70.80,563.50 73.70,565.80 76.20,563.50 78.10,558.70 79.00,550.00 81.30,550.00 83.30,547.70 87.10,551.00 89.00,544.20 93.80,541.30 96.70,543.80 98.70,539.40 101.50,538.50 113.00,545.80 140.00,561.50 146.20,565.00 147.00,564.30 166.50,576.50 167.20,575.30 228.80,613.50" fill="none" stroke="#74ee22" stroke-width="1.7" stroke-linejoin="round"/>
<text transform="translate(27.4,575) rotate(-90)" x="0" y="0" font-size="9.2" text-anchor="middle" fill="#111" stroke="#111" stroke-width="0.25" textLength="71.7" lengthAdjust="spacingAndGlyphs">Enrichment score (ES)</text>
<text x="176.8" y="546.5" font-size="8.6" fill="#111" stroke="#111" stroke-width="0.12">NES: 2.583</text>
<text x="176.8" y="556.9" font-size="8.6" fill="#111" stroke="#111" stroke-width="0.12">FDR: 0</text>
<text x="51.2" y="664.2" font-size="8.4" fill="#111" stroke="#111" stroke-width="0.12" textLength="26.6" lengthAdjust="spacingAndGlyphs">S-2HG</text>
<text x="195.8" y="663.9" font-size="8.4" fill="#111" stroke="#111" stroke-width="0.12" textLength="26.4" lengthAdjust="spacingAndGlyphs">Vehicle</text>
<text x="254.6" y="516.9" font-size="12" font-weight="bold" fill="#000">F</text>
<text x="295.2" y="527.8" font-size="8.1" fill="#111" stroke="#111" stroke-width="0.12" textLength="200.4" lengthAdjust="spacingAndGlyphs">Enrichment plot: DELPUECH_FOXO3_TARGETS_UP</text>
<rect x="299.4" y="534.6" width="193.20000000000005" height="118.99999999999989" fill="none" stroke="#ececec" stroke-width="0.8"/>
<line x1="322.34999999999997" y1="534.6" x2="322.34999999999997" y2="619.9" stroke="#f0f0f0" stroke-width="0.8"/>
<line x1="345.29999999999995" y1="534.6" x2="345.29999999999995" y2="619.9" stroke="#f0f0f0" stroke-width="0.8"/>
<line x1="368.25" y1="534.6" x2="368.25" y2="619.9" stroke="#f0f0f0" stroke-width="0.8"/>
<line x1="391.2" y1="534.6" x2="391.2" y2="619.9" stroke="#f0f0f0" stroke-width="0.8"/>
<line x1="414.15" y1="534.6" x2="414.15" y2="619.9" stroke="#f0f0f0" stroke-width="0.8"/>
<line x1="437.09999999999997" y1="534.6" x2="437.09999999999997" y2="619.9" stroke="#f0f0f0" stroke-width="0.8"/>
<line x1="460.04999999999995" y1="534.6" x2="460.04999999999995" y2="619.9" stroke="#f0f0f0" stroke-width="0.8"/>
<line x1="483.0" y1="534.6" x2="483.0" y2="619.9" stroke="#f0f0f0" stroke-width="0.8"/>
<line x1="299.4" y1="618.46" x2="492.6" y2="618.46" stroke="#f0f0f0" stroke-width="0.8"/>
<line x1="298.2" y1="618.46" x2="299.4" y2="618.46" stroke="#bbb" stroke-width="0.8"/>
<text x="294.79999999999995" y="621.46" font-size="8.4" text-anchor="end" fill="#111" stroke="#111" stroke-width="0.12">-0.6</text>
<line x1="299.4" y1="606.8" x2="492.6" y2="606.8" stroke="#f0f0f0" stroke-width="0.8"/>
<line x1="298.2" y1="606.8" x2="299.4" y2="606.8" stroke="#bbb" stroke-width="0.8"/>
<text x="294.79999999999995" y="609.8" font-size="8.4" text-anchor="end" fill="#111" stroke="#111" stroke-width="0.12">-0.5</text>
<line x1="299.4" y1="595.14" x2="492.6" y2="595.14" stroke="#f0f0f0" stroke-width="0.8"/>
<line x1="298.2" y1="595.14" x2="299.4" y2="595.14" stroke="#bbb" stroke-width="0.8"/>
<text x="294.79999999999995" y="598.14" font-size="8.4" text-anchor="end" fill="#111" stroke="#111" stroke-width="0.12">-0.4</text>
<line x1="299.4" y1="583.48" x2="492.6" y2="583.48" stroke="#f0f0f0" stroke-width="0.8"/>
<line x1="298.2" y1="583.48" x2="299.4" y2="583.48" stroke="#bbb" stroke-width="0.8"/>
<text x="294.79999999999995" y="586.48" font-size="8.4" text-anchor="end" fill="#111" stroke="#111" stroke-width="0.12">-0.3</text>
<line x1="299.4" y1="571.82" x2="492.6" y2="571.82" stroke="#f0f0f0" stroke-width="0.8"/>
<line x1="298.2" y1="571.82" x2="299.4" y2="571.82" stroke="#bbb" stroke-width="0.8"/>
<text x="294.79999999999995" y="574.82" font-size="8.4" text-anchor="end" fill="#111" stroke="#111" stroke-width="0.12">-0.2</text>
<line x1="299.4" y1="560.16" x2="492.6" y2="560.16" stroke="#f0f0f0" stroke-width="0.8"/>
<line x1="298.2" y1="560.16" x2="299.4" y2="560.16" stroke="#bbb" stroke-width="0.8"/>
<text x="294.79999999999995" y="563.16" font-size="8.4" text-anchor="end" fill="#111" stroke="#111" stroke-width="0.12">-0.1</text>
<line x1="298.2" y1="548.5" x2="299.4" y2="548.5" stroke="#bbb" stroke-width="0.8"/>
<text x="294.79999999999995" y="551.5" font-size="8.4" text-anchor="end" fill="#111" stroke="#111" stroke-width="0.12">0.0</text>
<line x1="299.4" y1="536.84" x2="492.6" y2="536.84" stroke="#f0f0f0" stroke-width="0.8"/>
<line x1="298.2" y1="536.84" x2="299.4" y2="536.84" stroke="#bbb" stroke-width="0.8"/>
<text x="294.79999999999995" y="539.84" font-size="8.4" text-anchor="end" fill="#111" stroke="#111" stroke-width="0.12">0.1</text>
<line x1="299.4" y1="534.6" x2="299.4" y2="620.4" stroke="#c8c8c8" stroke-width="1"/>
<line x1="299.4" y1="548.5" x2="492.6" y2="548.5" stroke="#aaa" stroke-width="0.9"/>
<line x1="299.4" y1="620.4" x2="492.6" y2="620.4" stroke="#c0c0c0" stroke-width="0.9"/>
<rect x="301.9" y="622.4" width="1.6000000000000227" height="27.0" fill="#1a1a1a" stroke="none" stroke-width="1"/>
<rect x="305.1" y="622.4" width="0.7999999999999545" height="27.0" fill="#888" stroke="none" stroke-width="1"/>
<rect x="309.9" y="622.4" width="1.0" height="27.0" fill="#222" stroke="none" stroke-width="1"/>
<rect x="319.9" y="622.4" width="1.0" height="27.0" fill="#222" stroke="none" stroke-width="1"/>
<rect x="320.9" y="622.4" width="0.7000000000000455" height="27.0" fill="#777" stroke="none" stroke-width="1"/>
<rect x="324.6" y="622.4" width="0.7999999999999545" height="27.0" fill="#999" stroke="none" stroke-width="1"/>
<rect x="337.4" y="622.4" width="0.8000000000000114" height="27.0" fill="#999" stroke="none" stroke-width="1"/>
<rect x="339.2" y="622.4" width="0.8000000000000114" height="27.0" fill="#999" stroke="none" stroke-width="1"/>
<rect x="341.8" y="622.4" width="0.8000000000000114" height="27.0" fill="#888" stroke="none" stroke-width="1"/>
<rect x="356.4" y="622.4" width="0.8000000000000114" height="27.0" fill="#999" stroke="none" stroke-width="1"/>
<rect x="376.0" y="622.4" width="2.3000000000000114" height="27.0" fill="#333" stroke="none" stroke-width="1"/>
<rect x="383.5" y="622.4" width="0.8000000000000114" height="27.0" fill="#999" stroke="none" stroke-width="1"/>
<rect x="390.3" y="622.4" width="0.8000000000000114" height="27.0" fill="#666" stroke="none" stroke-width="1"/>
<rect x="398.0" y="622.4" width="0.8000000000000114" height="27.0" fill="#333" stroke="none" stroke-width="1"/>
<rect x="407.4" y="622.4" width="0.8000000000000114" height="27.0" fill="#999" stroke="none" stroke-width="1"/>
<rect x="426.6" y="622.4" width="0.7999999999999545" height="27.0" fill="#999" stroke="none" stroke-width="1"/>
<rect x="436.3" y="622.4" width="2.8999999999999773" height="27.0" fill="#8a8a8a" stroke="none" stroke-width="1"/>
<rect x="440.1" y="622.4" width="0.6999999999999886" height="27.0" fill="#bbb" stroke="none" stroke-width="1"/>
<rect x="443.0" y="622.4" width="0.8000000000000114" height="27.0" fill="#888" stroke="none" stroke-width="1"/>
<rect x="448.7" y="622.4" width="1.1000000000000227" height="27.0" fill="#333" stroke="none" stroke-width="1"/>
<rect x="457.1" y="622.4" width="3.3999999999999773" height="27.0" fill="#b4b4b4" stroke="none" stroke-width="1"/>
<rect x="460.5" y="622.4" width="3.3000000000000114" height="27.0" fill="#5a5a5a" stroke="none" stroke-width="1"/>
<rect x="465.2" y="622.4" width="6.5" height="27.0" fill="#a0a0a0" stroke="none" stroke-width="1"/>
<rect x="469.5" y="622.4" width="1.5" height="27.0" fill="#7a7a7a" stroke="none" stroke-width="1"/>
<rect x="473.2" y="622.4" width="4.800000000000011" height="27.0" fill="#707070" stroke="none" stroke-width="1"/>
<rect x="479.0" y="622.4" width="2.6000000000000227" height="27.0" fill="#a8a8a8" stroke="none" stroke-width="1"/>
<rect x="481.8" y="622.4" width="1.0" height="27.0" fill="#111" stroke="none" stroke-width="1"/>
<rect x="299.4" y="649.4" width="28.200000000000024" height="3.8999999999999773" fill="#dc4048" stroke="none" stroke-width="1"/>
<rect x="327" y="649.4" width="13.6" height="3.8999999999999773" fill="#e0607a" stroke="none" stroke-width="1"/>
<rect x="340" y="649.4" width="15.6" height="3.8999999999999773" fill="#e07070" stroke="none" stroke-width="1"/>
<rect x="355" y="649.4" width="21.400000000000013" height="3.8999999999999773" fill="#eeb0dc" stroke="none" stroke-width="1"/>
<rect x="375.8" y="649.4" width="25.99999999999998" height="3.8999999999999773" fill="#d2d2fa" stroke="none" stroke-width="1"/>
<rect x="401.2" y="649.4" width="27.500000000000036" height="3.8999999999999773" fill="#b8b8f4" stroke="none" stroke-width="1"/>
<rect x="428.1" y="649.4" width="16.49999999999998" height="3.8999999999999773" fill="#7070ee" stroke="none" stroke-width="1"/>
<rect x="444" y="649.4" width="28.900000000000013" height="3.8999999999999773" fill="#4a3ad8" stroke="none" stroke-width="1"/>
<rect x="472.3" y="649.4" width="10.800000000000011" height="3.8999999999999773" fill="#2a20b8" stroke="none" stroke-width="1"/>
<rect x="301.9" y="649.4" width="1.6000000000000227" height="3.8999999999999773" fill="#1a1a1a" stroke="none" stroke-width="1" opacity="0.18"/>
<rect x="305.1" y="649.4" width="0.7999999999999545" height="3.8999999999999773" fill="#888" stroke="none" stroke-width="1" opacity="0.18"/>
<rect x="309.9" y="649.4" width="1.0" height="3.8999999999999773" fill="#222" stroke="none" stroke-width="1" opacity="0.18"/>
<rect x="319.9" y="649.4" width="1.0" height="3.8999999999999773" fill="#222" stroke="none" stroke-width="1" opacity="0.18"/>
<rect x="320.9" y="649.4" width="0.7000000000000455" height="3.8999999999999773" fill="#777" stroke="none" stroke-width="1" opacity="0.18"/>
<rect x="324.6" y="649.4" width="0.7999999999999545" height="3.8999999999999773" fill="#999" stroke="none" stroke-width="1" opacity="0.18"/>
<rect x="337.4" y="649.4" width="0.8000000000000114" height="3.8999999999999773" fill="#999" stroke="none" stroke-width="1" opacity="0.18"/>
<rect x="339.2" y="649.4" width="0.8000000000000114" height="3.8999999999999773" fill="#999" stroke="none" stroke-width="1" opacity="0.18"/>
<rect x="341.8" y="649.4" width="0.8000000000000114" height="3.8999999999999773" fill="#888" stroke="none" stroke-width="1" opacity="0.18"/>
<rect x="356.4" y="649.4" width="0.8000000000000114" height="3.8999999999999773" fill="#999" stroke="none" stroke-width="1" opacity="0.18"/>
<rect x="376.0" y="649.4" width="2.3000000000000114" height="3.8999999999999773" fill="#333" stroke="none" stroke-width="1" opacity="0.18"/>
<rect x="383.5" y="649.4" width="0.8000000000000114" height="3.8999999999999773" fill="#999" stroke="none" stroke-width="1" opacity="0.18"/>
<rect x="390.3" y="649.4" width="0.8000000000000114" height="3.8999999999999773" fill="#666" stroke="none" stroke-width="1" opacity="0.18"/>
<rect x="398.0" y="649.4" width="0.8000000000000114" height="3.8999999999999773" fill="#333" stroke="none" stroke-width="1" opacity="0.18"/>
<rect x="407.4" y="649.4" width="0.8000000000000114" height="3.8999999999999773" fill="#999" stroke="none" stroke-width="1" opacity="0.18"/>
<rect x="426.6" y="649.4" width="0.7999999999999545" height="3.8999999999999773" fill="#999" stroke="none" stroke-width="1" opacity="0.18"/>
<rect x="436.3" y="649.4" width="2.8999999999999773" height="3.8999999999999773" fill="#8a8a8a" stroke="none" stroke-width="1" opacity="0.18"/>
<rect x="440.1" y="649.4" width="0.6999999999999886" height="3.8999999999999773" fill="#bbb" stroke="none" stroke-width="1" opacity="0.18"/>
<rect x="443.0" y="649.4" width="0.8000000000000114" height="3.8999999999999773" fill="#888" stroke="none" stroke-width="1" opacity="0.18"/>
<rect x="448.7" y="649.4" width="1.1000000000000227" height="3.8999999999999773" fill="#333" stroke="none" stroke-width="1" opacity="0.18"/>
<rect x="457.1" y="649.4" width="3.3999999999999773" height="3.8999999999999773" fill="#b4b4b4" stroke="none" stroke-width="1" opacity="0.18"/>
<rect x="460.5" y="649.4" width="3.3000000000000114" height="3.8999999999999773" fill="#5a5a5a" stroke="none" stroke-width="1" opacity="0.18"/>
<rect x="465.2" y="649.4" width="6.5" height="3.8999999999999773" fill="#a0a0a0" stroke="none" stroke-width="1" opacity="0.18"/>
<rect x="469.5" y="649.4" width="1.5" height="3.8999999999999773" fill="#7a7a7a" stroke="none" stroke-width="1" opacity="0.18"/>
<rect x="473.2" y="649.4" width="4.800000000000011" height="3.8999999999999773" fill="#707070" stroke="none" stroke-width="1" opacity="0.18"/>
<rect x="479.0" y="649.4" width="2.6000000000000227" height="3.8999999999999773" fill="#a8a8a8" stroke="none" stroke-width="1" opacity="0.18"/>
<rect x="481.8" y="649.4" width="1.0" height="3.8999999999999773" fill="#111" stroke="none" stroke-width="1" opacity="0.18"/>
<line x1="299.4" y1="649.4" x2="492.6" y2="649.4" stroke="#f2f2f2" stroke-width="0.6"/>
<polyline points="300.00,549.00 302.30,550.40 303.50,539.40 305.80,540.00 307.70,540.80 309.60,541.90 311.20,539.40 317.30,544.20 321.50,543.80 326.90,546.20 334.60,551.50 349.60,560.00 397.70,588.80 407.30,594.60 420.00,602.30 427.70,606.90 436.90,611.50 440.00,610.80 448.50,615.40 450.80,612.30 457.70,616.60 460.80,614.60 463.80,610.00 466.20,609.20 469.20,604.20 471.50,598.50 473.00,599.40 475.00,595.60 476.90,583.00 478.80,580.20 480.40,575.40 481.70,574.40 482.30,560.00 483.10,548.50" fill="none" stroke="#74ee22" stroke-width="1.7" stroke-linejoin="round"/>
<text transform="translate(273.9,578) rotate(-90)" x="0" y="0" font-size="9.2" text-anchor="middle" fill="#111" stroke="#111" stroke-width="0.25" textLength="71.7" lengthAdjust="spacingAndGlyphs">Enrichment score (ES)</text>
<text x="301.5" y="601.7" font-size="8.6" fill="#111" stroke="#111" stroke-width="0.12">NES: -1.885</text>
<text x="301.5" y="612.1" font-size="8.6" fill="#111" stroke="#111" stroke-width="0.12">FDR: 0.0144</text>
<text x="295.8" y="664.2" font-size="8.4" fill="#111" stroke="#111" stroke-width="0.12" textLength="26.6" lengthAdjust="spacingAndGlyphs">S-2HG</text>
<text x="443.4" y="663.9" font-size="8.4" fill="#111" stroke="#111" stroke-width="0.12" textLength="26.4" lengthAdjust="spacingAndGlyphs">Vehicle</text>
<rect x="0.5" y="0.5" width="519" height="673" fill="none" stroke="#000" stroke-width="1"/>
</svg>
</body></html>
